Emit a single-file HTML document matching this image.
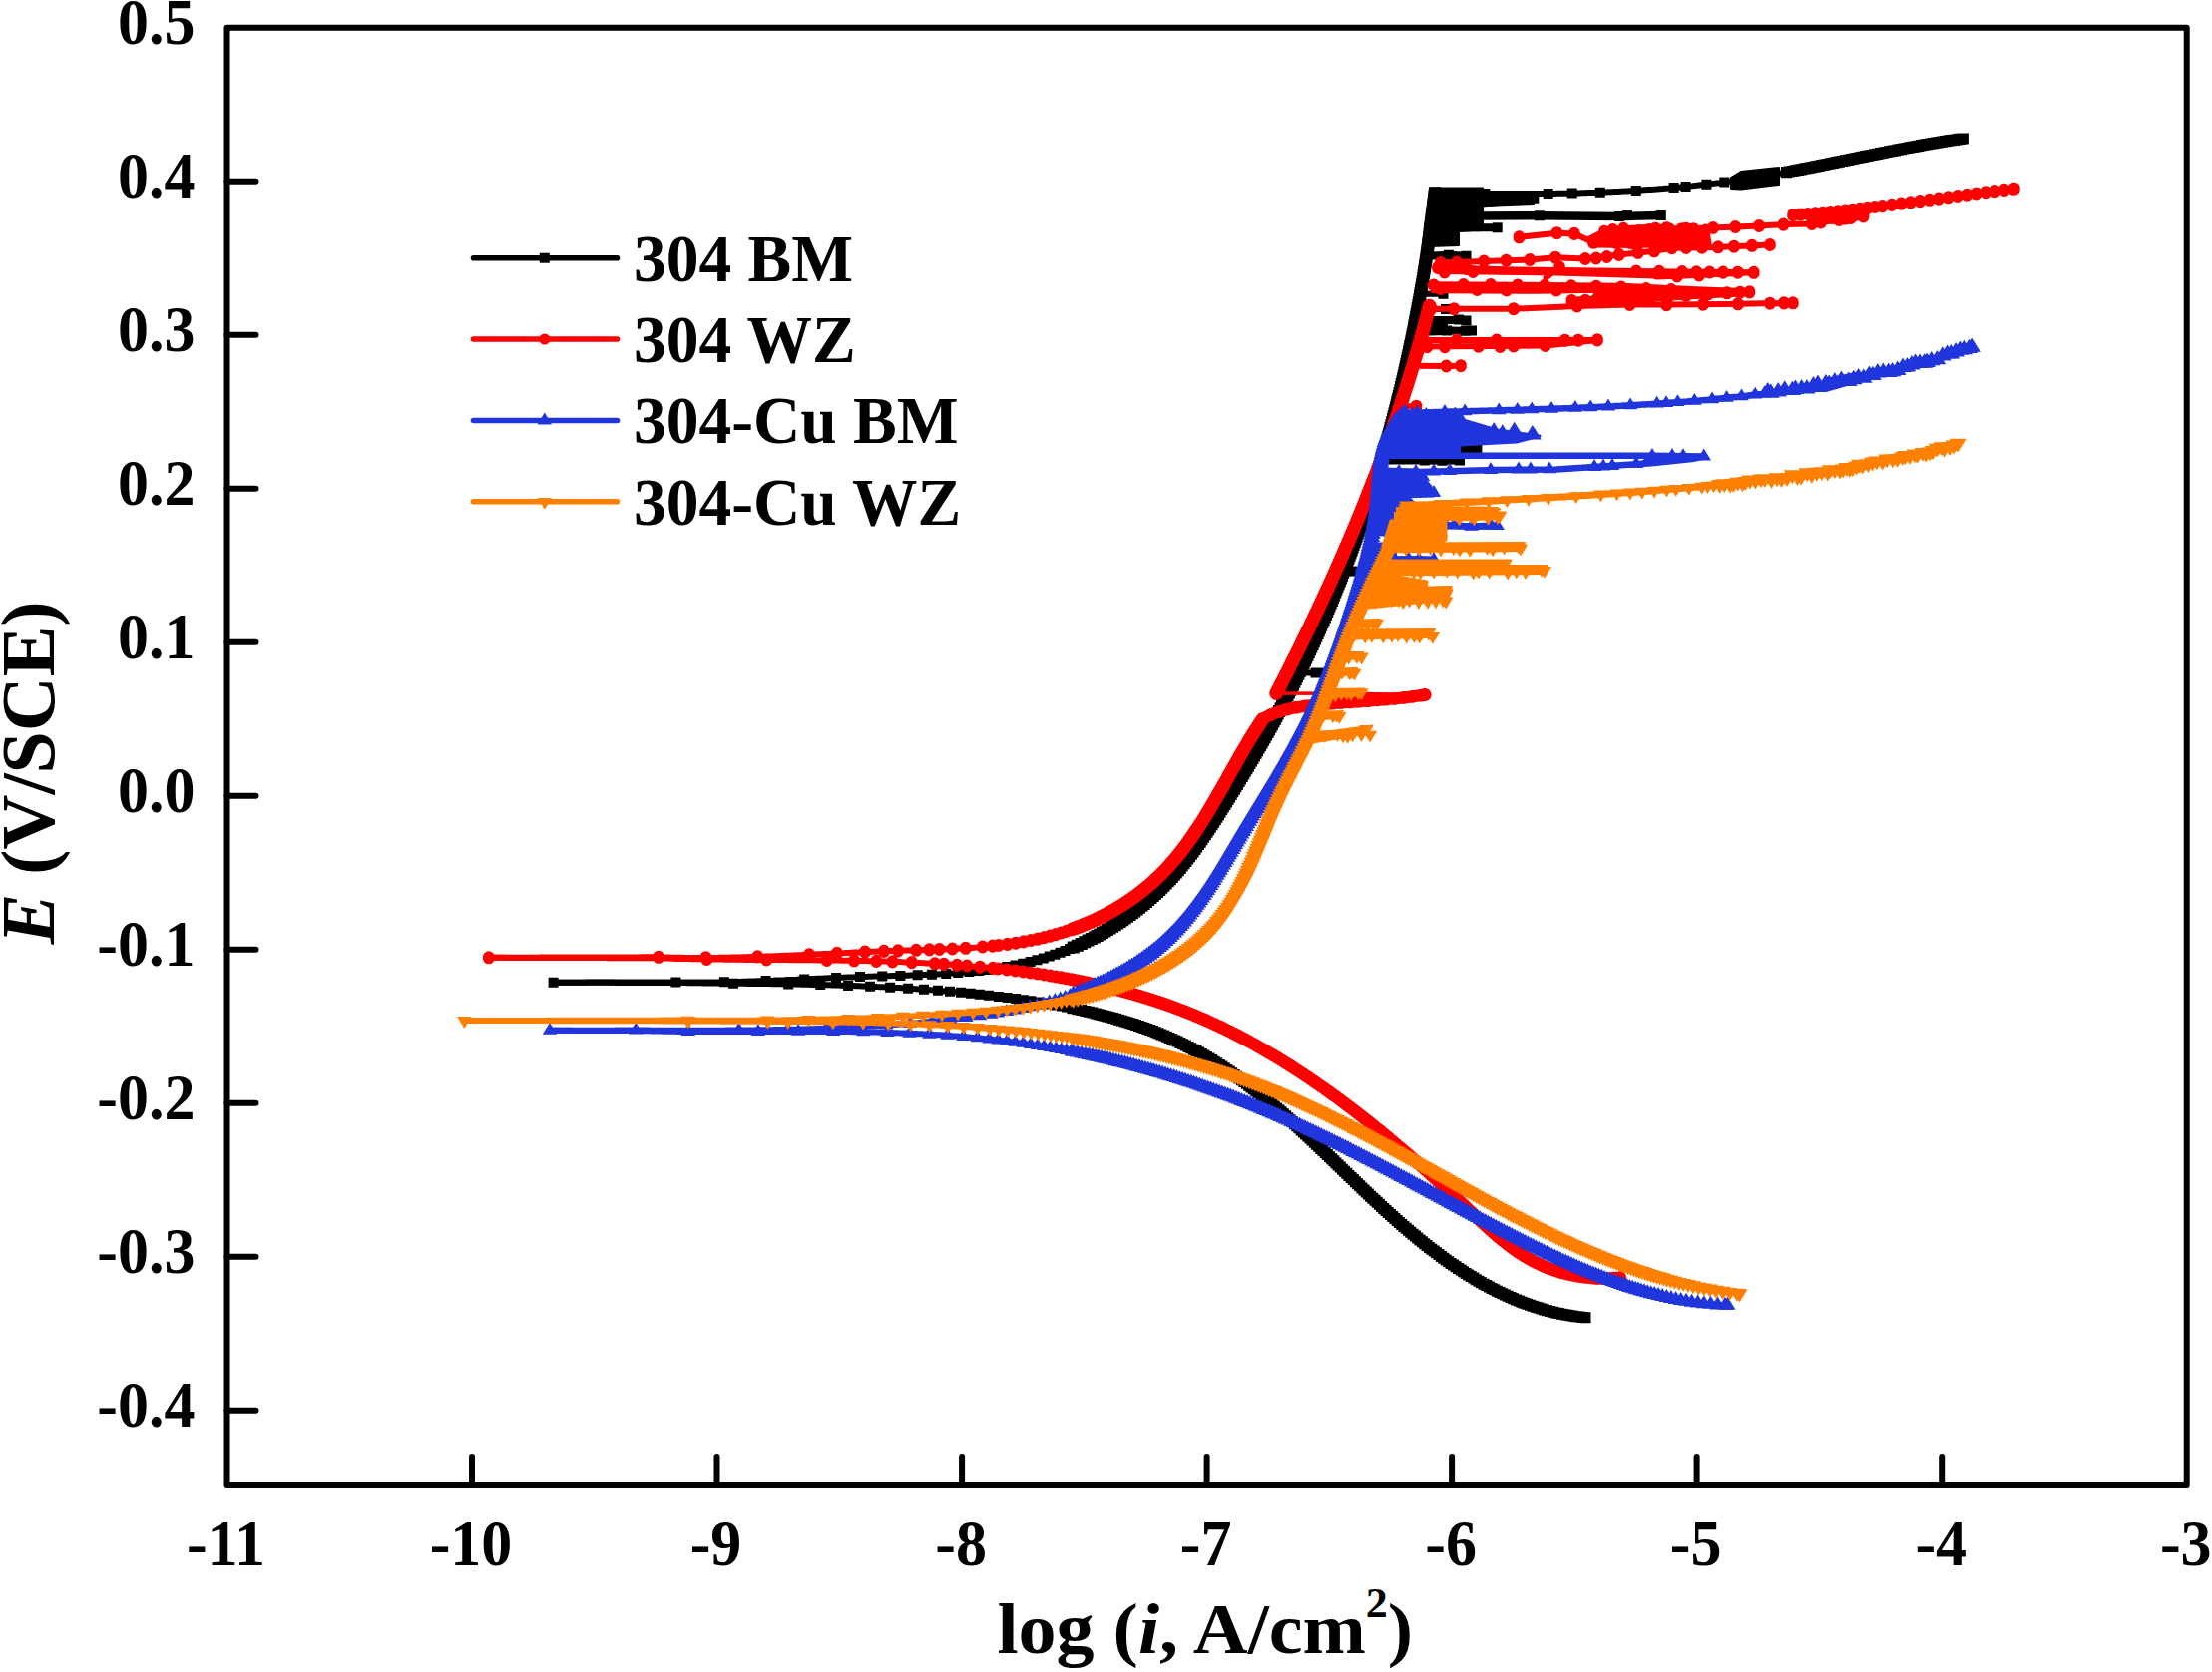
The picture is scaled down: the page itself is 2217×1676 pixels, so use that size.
<!DOCTYPE html>
<html lang="en"><head><meta charset="utf-8"><title>Potentiodynamic polarization curves</title>
<style>html,body{margin:0;padding:0;background:#fff}svg{display:block}text{font-family:"Liberation Serif","Times New Roman",Times,serif;font-weight:bold;fill:#000}</style></head><body>
<svg width="2217" height="1676" viewBox="0 0 2217 1676">
<rect width="2217" height="1676" fill="#fff"/>
<polyline fill="none" stroke="#000000" stroke-width="6" stroke-linecap="round" stroke-linejoin="round" points="554.6,984.7 557.6,984.7 560.6,984.7 563.6,984.7 566.6,984.7 569.6,984.7 572.7,984.7 575.7,984.8 578.7,984.8 581.7,984.8 584.7,984.8 587.7,984.8 590.7,984.8 593.7,984.8 596.7,984.8 599.7,984.8 602.8,984.8 605.8,984.8 608.8,984.8 611.8,984.8 614.8,984.8 617.8,984.9 620.8,984.9 623.8,984.9 626.8,984.9 629.8,984.9 632.9,984.9 635.9,984.9 638.9,984.9 641.9,984.9 644.9,984.9 647.9,984.9 650.9,984.9 653.9,984.9 656.9,985 659.9,985 663,985 666,985 669,985 672,985 675,985 678,985 681,985.1 684,985.1 687,985.1 690,985.2 693,985.2 696,985.3 699.1,985.3 702.1,985.3 705.1,985.4 708.1,985.4 711.1,985.4 714.1,985.5 717.1,985.5 720.1,985.5 723.1,985.6 726.1,985.6 729.1,985.6 732.1,985.7 735.1,985.7 738.1,985.7 741.1,985.8 744.1,985.8 747.1,985.8 750.1,985.9 753.1,985.9 756.1,986 759.1,986 762.1,986 765.2,986.1 768.2,986.1 771.2,986.1 774.2,986.2 777.2,986.2 780.2,986.3 783.2,986.3 786.2,986.4 789.2,986.4 792.2,986.5 795.2,986.5 798.2,986.6 801.2,986.6 804.2,986.7 807.2,986.8 810.2,986.8 813.2,986.9 816.2,987 819.2,987 822.2,987.1 825.2,987.2 828.2,987.3 831.2,987.3 834.2,987.4 837.2,987.5 840.2,987.6 843.1,987.7 846.1,987.8 849.1,987.9 852.1,988 855.1,988.1 858.1,988.2 861.1,988.3 864.1,988.4 867.1,988.5 870.1,988.7 873.1,988.8 876.1,988.9 879.1,989.1 882.1,989.2 885.1,989.3 888.1,989.5 891.1,989.6 894.1,989.8 897.1,990 900.1,990.1 903.1,990.3 906.1,990.5 909.1,990.6 912.1,990.8 915.1,991 918.1,991.2 921,991.4 924,991.6 927,991.8 930,992 933,992.3 936,992.5 939,992.7 942,993 945,993.2 948,993.4 951,993.7 954,994 957,994.2 960,994.5 963,994.8 965.9,995.1 968.9,995.4 971.9,995.7 974.9,996 977.9,996.3 980.9,996.6 983.9,996.9 986.9,997.2 989.9,997.6 992.9,997.9 995.9,998.3 998.9,998.6 1001.9,999 1004.8,999.4 1007.8,999.8 1010.8,1000.2 1013.8,1000.6 1016.8,1001 1019.8,1001.4 1022.8,1001.8 1025.8,1002.2 1028.8,1002.7 1031.8,1003.1 1034.8,1003.6 1037.7,1004 1040.7,1004.5 1043.7,1005 1046.7,1005.5 1049.7,1006 1052.7,1006.5 1055.6,1007 1058.6,1007.6 1061.6,1008.1 1064.5,1008.7 1067.5,1009.2 1070.5,1009.8 1073.4,1010.4 1076.4,1011 1079.3,1011.6 1082.3,1012.3 1085.2,1012.9 1088.2,1013.6 1091.1,1014.3 1094,1014.9 1097,1015.6 1099.9,1016.4 1102.8,1017.1 1105.7,1017.8 1108.6,1018.6 1111.5,1019.4 1114.4,1020.2 1117.3,1021 1120.2,1021.8 1123,1022.7 1125.9,1023.5 1128.8,1024.4 1131.6,1025.3 1134.5,1026.2 1137.3,1027.1 1140.1,1028.1 1143,1029.1 1145.8,1030.1 1148.6,1031.1 1151.4,1032.1 1154.2,1033.1 1156.9,1034.2 1159.7,1035.3 1162.5,1036.4 1165.2,1037.5 1168,1038.7 1170.7,1039.8 1173.4,1041 1176.1,1042.2 1178.8,1043.5 1181.5,1044.7 1184.2,1046 1186.9,1047.3 1189.6,1048.6 1192.2,1050 1194.8,1051.3 1197.5,1052.7 1200.1,1054.1 1202.7,1055.6 1205.3,1057 1207.9,1058.5 1210.4,1060 1213,1061.6 1215.5,1063.1 1218.1,1064.7 1220.6,1066.3 1223.1,1067.9 1225.6,1069.6 1228.1,1071.2 1230.6,1072.9 1233,1074.6 1235.5,1076.3 1237.9,1078 1240.4,1079.8 1242.8,1081.5 1245.2,1083.3 1247.6,1085.1 1250,1086.9 1252.4,1088.7 1254.8,1090.5 1257.1,1092.4 1259.5,1094.2 1261.8,1096.1 1264.2,1098 1266.5,1099.9 1268.8,1101.8 1271.1,1103.7 1273.4,1105.6 1275.7,1107.6 1278,1109.5 1280.3,1111.5 1282.5,1113.4 1284.8,1115.4 1287.1,1117.4 1289.3,1119.4 1291.6,1121.4 1293.8,1123.4 1296,1125.4 1298.2,1127.4 1300.5,1129.4 1302.7,1131.5 1304.9,1133.5 1307.1,1135.6 1309.3,1137.6 1311.5,1139.7 1313.7,1141.7 1315.9,1143.8 1318.1,1145.9 1320.3,1147.9 1322.4,1150 1324.6,1152.1 1326.8,1154.2 1329,1156.3 1331.1,1158.3 1333.3,1160.4 1335.5,1162.5 1337.6,1164.6 1339.8,1166.7 1342,1168.8 1344.1,1170.9 1346.3,1173 1348.5,1175.1 1350.6,1177.2 1352.8,1179.3 1355,1181.4 1357.2,1183.5 1359.3,1185.5 1361.5,1187.6 1363.7,1189.7 1365.9,1191.8 1368,1193.9 1370.2,1195.9 1372.4,1198 1374.6,1200.1 1376.8,1202.1 1379,1204.2 1381.2,1206.2 1383.4,1208.3 1385.6,1210.3 1387.8,1212.3 1390,1214.4 1392.3,1216.4 1394.5,1218.4 1396.7,1220.4 1399,1222.4 1401.2,1224.4 1403.5,1226.4 1405.8,1228.4 1408,1230.3 1410.3,1232.3 1412.6,1234.2 1414.9,1236.2 1417.2,1238.1 1419.5,1240 1421.8,1241.9 1424.1,1243.8 1426.5,1245.7 1428.8,1247.5 1431.2,1249.4 1433.5,1251.2 1435.9,1253.1 1438.3,1254.9 1440.7,1256.7 1443.1,1258.5 1445.5,1260.3 1448,1262 1450.4,1263.8 1452.9,1265.5 1455.3,1267.2 1457.8,1268.9 1460.3,1270.6 1462.8,1272.3 1465.3,1273.9 1467.8,1275.6 1470.3,1277.2 1472.9,1278.7 1475.4,1280.3 1478,1281.9 1480.6,1283.4 1483.2,1284.9 1485.8,1286.4 1488.4,1287.8 1491,1289.3 1493.6,1290.7 1496.3,1292.1 1498.9,1293.4 1501.6,1294.8 1504.3,1296.1 1507,1297.4 1509.7,1298.6 1512.4,1299.9 1515.1,1301.1 1517.8,1302.2 1520.6,1303.4 1523.4,1304.5 1526.1,1305.6 1528.9,1306.6 1531.7,1307.7 1534.5,1308.7 1537.3,1309.6 1540.2,1310.6 1543,1311.5 1545.9,1312.3 1548.7,1313.1 1551.6,1313.9 1554.5,1314.7 1557.4,1315.4 1560.3,1316.1 1563.3,1316.8 1566.2,1317.4 1569.2,1318 1572.1,1318.5 1575.1,1319 1578.1,1319.5 1581.1,1319.9 1584.1,1320.3 1587.1,1320.6 1590.2,1320.9"/>
<path fill="#000000" d="M549.6 979.7h10v10h-10zM730.1 980.7h10v10h-10zM785.2 981.4h10v10h-10zM817.2 982.1h10v10h-10zM845.1 982.9h10v10h-10zM867.1 983.8h10v10h-10zM887.1 984.7h10v10h-10zM905.1 985.7h10v10h-10zM921 986.8h10v10h-10zM935 987.8h10v10h-10zM947 988.8h10v10h-10zM958 989.8h10v10h-10zM967.9 990.8h10v10h-10zM976.9 991.7h10v10h-10zM985.9 992.7h10v10h-10zM995.9 993.9h10v10h-10zM1004.7 995h10v10h-10zM1013.1 996.1h10v10h-10zM1020.9 997.2h10v10h-10zM1028.3 998.3h10v10h-10zM1035.2 999.4h10v10h-10zM1041.7 1000.5h10v10h-10zM1047.8 1001.5h10v10h-10zM1053.6 1002.5h10v10h-10zM1058.9 1003.5h10v10h-10zM1064 1004.5h10v10h-10zM1068.8 1005.5h10v10h-10z"/>
<path fill="#000000" d="M1069.9 1005.3h11v11h-11zM1074.3 1006.2h11v11h-11zM1078.4 1007.1h11v11h-11zM1082.3 1008h11v11h-11zM1085.9 1008.8h11v11h-11zM1089.3 1009.6h11v11h-11zM1092.6 1010.4h11v11h-11zM1095.6 1011.2h11v11h-11zM1098.5 1011.9h11v11h-11zM1101.4 1012.7h11v11h-11zM1104.3 1013.4h11v11h-11zM1107.2 1014.2h11v11h-11zM1110.1 1015h11v11h-11zM1113 1015.8h11v11h-11zM1115.8 1016.7h11v11h-11zM1118.7 1017.5h11v11h-11zM1121.6 1018.4h11v11h-11zM1124.5 1019.3h11v11h-11zM1127.3 1020.2h11v11h-11zM1130.2 1021.1h11v11h-11zM1133 1022.1h11v11h-11zM1135.9 1023h11v11h-11zM1138.7 1024h11v11h-11zM1141.5 1025h11v11h-11zM1144.3 1026h11v11h-11zM1147.2 1027.1h11v11h-11zM1150 1028.1h11v11h-11zM1152.8 1029.2h11v11h-11zM1155.5 1030.3h11v11h-11zM1158.3 1031.4h11v11h-11zM1161.1 1032.6h11v11h-11zM1163.9 1033.8h11v11h-11zM1166.6 1034.9h11v11h-11zM1169.4 1036.2h11v11h-11zM1172.1 1037.4h11v11h-11zM1174.8 1038.6h11v11h-11zM1177.5 1039.9h11v11h-11zM1180.2 1041.2h11v11h-11zM1182.9 1042.6h11v11h-11zM1185.6 1043.9h11v11h-11zM1188.3 1045.3h11v11h-11zM1190.9 1046.7h11v11h-11zM1193.6 1048.1h11v11h-11zM1196.2 1049.5h11v11h-11zM1198.8 1051h11v11h-11zM1201.4 1052.5h11v11h-11zM1204 1054h11v11h-11zM1206.6 1055.5h11v11h-11zM1209.2 1057.1h11v11h-11zM1211.7 1058.7h11v11h-11zM1214.2 1060.3h11v11h-11zM1216.8 1061.9h11v11h-11zM1219.3 1063.5h11v11h-11zM1221.8 1065.2h11v11h-11zM1224.3 1066.9h11v11h-11zM1226.8 1068.5h11v11h-11zM1229.2 1070.3h11v11h-11zM1231.7 1072h11v11h-11zM1234.1 1073.7h11v11h-11zM1236.5 1075.5h11v11h-11zM1239 1077.3h11v11h-11zM1241.4 1079h11v11h-11zM1243.8 1080.8h11v11h-11zM1246.2 1082.7h11v11h-11zM1248.5 1084.5h11v11h-11zM1250.9 1086.3h11v11h-11zM1253.3 1088.2h11v11h-11zM1255.6 1090h11v11h-11zM1258 1091.9h11v11h-11zM1260.3 1093.8h11v11h-11zM1262.6 1095.7h11v11h-11zM1264.9 1097.6h11v11h-11zM1267.2 1099.6h11v11h-11zM1269.5 1101.5h11v11h-11zM1271.8 1103.4h11v11h-11zM1274.1 1105.4h11v11h-11zM1276.4 1107.3h11v11h-11zM1278.6 1109.3h11v11h-11zM1280.9 1111.3h11v11h-11zM1283.1 1113.3h11v11h-11zM1285.4 1115.3h11v11h-11zM1287.6 1117.3h11v11h-11zM1289.8 1119.3h11v11h-11zM1292 1121.3h11v11h-11zM1294.3 1123.3h11v11h-11zM1296.5 1125.3h11v11h-11zM1298.7 1127.4h11v11h-11zM1300.9 1129.4h11v11h-11zM1303.1 1131.4h11v11h-11zM1305.3 1133.5h11v11h-11zM1307.5 1135.5h11v11h-11zM1309.6 1137.6h11v11h-11zM1311.8 1139.7h11v11h-11zM1314 1141.7h11v11h-11zM1316.2 1143.8h11v11h-11zM1318.3 1145.9h11v11h-11zM1320.5 1147.9h11v11h-11zM1322.7 1150h11v11h-11zM1324.8 1152.1h11v11h-11zM1327 1154.2h11v11h-11zM1329.2 1156.3h11v11h-11zM1331.3 1158.3h11v11h-11zM1333.5 1160.4h11v11h-11zM1335.6 1162.5h11v11h-11zM1337.8 1164.6h11v11h-11zM1340 1166.7h11v11h-11zM1342.1 1168.8h11v11h-11zM1344.3 1170.8h11v11h-11zM1346.4 1172.9h11v11h-11zM1348.6 1175h11v11h-11zM1350.8 1177.1h11v11h-11zM1352.9 1179.2h11v11h-11zM1355.1 1181.2h11v11h-11zM1357.3 1183.3h11v11h-11zM1359.4 1185.4h11v11h-11zM1361.6 1187.5h11v11h-11zM1363.8 1189.5h11v11h-11zM1365.9 1191.6h11v11h-11zM1368.1 1193.7h11v11h-11zM1370.3 1195.7h11v11h-11zM1372.5 1197.8h11v11h-11zM1374.7 1199.8h11v11h-11zM1376.9 1201.8h11v11h-11zM1379.1 1203.9h11v11h-11zM1381.3 1205.9h11v11h-11zM1383.5 1207.9h11v11h-11zM1385.7 1210h11v11h-11zM1388 1212h11v11h-11zM1390.2 1214h11v11h-11zM1392.4 1216h11v11h-11zM1394.7 1218h11v11h-11zM1396.9 1219.9h11v11h-11zM1399.2 1221.9h11v11h-11zM1401.4 1223.9h11v11h-11zM1403.7 1225.8h11v11h-11zM1406 1227.8h11v11h-11zM1408.3 1229.7h11v11h-11zM1410.6 1231.7h11v11h-11zM1412.9 1233.6h11v11h-11zM1415.2 1235.5h11v11h-11zM1417.5 1237.4h11v11h-11zM1419.9 1239.3h11v11h-11zM1422.2 1241.2h11v11h-11zM1424.6 1243h11v11h-11zM1426.9 1244.9h11v11h-11zM1429.3 1246.7h11v11h-11zM1431.7 1248.5h11v11h-11zM1434.1 1250.3h11v11h-11zM1436.5 1252.1h11v11h-11zM1438.9 1253.9h11v11h-11zM1441.3 1255.7h11v11h-11zM1443.7 1257.4h11v11h-11zM1446.2 1259.2h11v11h-11zM1448.6 1260.9h11v11h-11zM1451.1 1262.6h11v11h-11zM1453.6 1264.3h11v11h-11zM1456.1 1266h11v11h-11zM1458.6 1267.6h11v11h-11zM1461.1 1269.3h11v11h-11zM1463.6 1270.9h11v11h-11zM1466.2 1272.5h11v11h-11zM1468.7 1274.1h11v11h-11zM1471.3 1275.6h11v11h-11zM1473.8 1277.2h11v11h-11zM1476.4 1278.7h11v11h-11zM1479 1280.2h11v11h-11zM1481.6 1281.7h11v11h-11zM1484.3 1283.1h11v11h-11zM1486.9 1284.5h11v11h-11zM1489.6 1285.9h11v11h-11zM1492.2 1287.3h11v11h-11zM1494.9 1288.7h11v11h-11zM1497.6 1290h11v11h-11zM1500.3 1291.3h11v11h-11zM1503 1292.6h11v11h-11zM1505.7 1293.8h11v11h-11zM1508.5 1295.1h11v11h-11zM1511.2 1296.3h11v11h-11zM1514 1297.4h11v11h-11zM1516.8 1298.6h11v11h-11zM1519.5 1299.7h11v11h-11zM1522.3 1300.7h11v11h-11zM1525.2 1301.8h11v11h-11zM1528 1302.8h11v11h-11zM1530.8 1303.8h11v11h-11zM1533.7 1304.7h11v11h-11zM1536.5 1305.6h11v11h-11zM1539.4 1306.5h11v11h-11zM1542.3 1307.4h11v11h-11zM1545.2 1308.2h11v11h-11zM1548.1 1309h11v11h-11zM1551 1309.7h11v11h-11zM1553.9 1310.4h11v11h-11zM1556.8 1311.1h11v11h-11zM1559.7 1311.7h11v11h-11zM1562.7 1312.3h11v11h-11zM1565.6 1312.8h11v11h-11zM1568.6 1313.3h11v11h-11zM1571.5 1313.8h11v11h-11zM1574.5 1314.2h11v11h-11zM1577.5 1314.6h11v11h-11zM1580.5 1315h11v11h-11zM1583.5 1315.3h11v11h-11z"/>
<polyline fill="none" stroke="#000000" stroke-width="6" stroke-linecap="round" stroke-linejoin="round" points="554.6,984.7 557.6,984.7 560.6,984.7 563.7,984.7 566.7,984.7 569.7,984.7 572.7,984.7 575.7,984.7 578.8,984.7 581.8,984.7 584.8,984.7 587.8,984.6 590.8,984.6 593.9,984.6 596.9,984.6 599.9,984.6 602.9,984.6 605.9,984.6 609,984.6 612,984.6 615,984.6 618,984.6 621,984.6 624.1,984.6 627.1,984.6 630.1,984.6 633.1,984.6 636.1,984.6 639.2,984.6 642.2,984.6 645.2,984.6 648.2,984.5 651.2,984.5 654.2,984.5 657.3,984.5 660.3,984.5 663.3,984.5 666.3,984.5 669.3,984.5 672.4,984.5 675.4,984.5 678.4,984.5 681.5,984.6 684.5,984.6 687.6,984.6 690.6,984.6 693.7,984.6 696.7,984.6 699.8,984.6 702.8,984.6 705.8,984.6 708.8,984.6 711.8,984.5 714.9,984.5 717.9,984.4 720.9,984.4 723.9,984.3 726.9,984.3 729.9,984.2 732.9,984.1 735.9,984.1 738.8,984 741.8,983.9 744.8,983.8 747.8,983.7 750.8,983.6 753.8,983.5 756.7,983.4 759.7,983.3 762.7,983.2 765.7,983.1 768.6,983 771.6,982.9 774.6,982.8 777.5,982.6 780.5,982.5 783.5,982.4 786.4,982.3 789.4,982.1 792.4,982 795.3,981.9 798.3,981.8 801.3,981.6 804.3,981.5 807.2,981.4 810.2,981.2 813.2,981.1 816.1,981 819.1,980.8 822.1,980.7 825.1,980.6 828,980.4 831,980.3 834,980.2 837,980.1 840,979.9 843,979.8 846,979.7 849,979.6 852,979.5 855,979.4 858,979.2 861,979.1 864,979 867,978.9 870,978.8 873,978.7 876.1,978.6 879.1,978.6 882.1,978.5 885.2,978.4 888.2,978.3 891.2,978.2 894.3,978.1 897.3,978 900.4,977.9 903.4,977.9 906.5,977.8 909.5,977.7 912.6,977.6 915.6,977.5 918.7,977.3 921.7,977.2 924.8,977.1 927.8,977 930.9,976.8 933.9,976.7 937,976.5 940,976.4 943.1,976.2 946.1,976 949.2,975.8 952.2,975.6 955.3,975.4 958.3,975.2 961.3,975 964.4,974.7 967.4,974.5 970.4,974.2 973.4,973.9 976.4,973.6 979.4,973.2 982.4,972.9 985.4,972.5 988.4,972.2 991.4,971.8 994.4,971.4 997.4,970.9 1000.4,970.5 1003.3,970 1006.3,969.5 1009.3,969 1012.2,968.4 1015.1,967.9 1018.1,967.3 1021,966.7 1023.9,966.1 1026.8,965.4 1029.7,964.7 1032.6,964 1035.5,963.3 1038.4,962.5 1041.2,961.7 1044.1,960.9 1046.9,960 1049.8,959.2 1052.6,958.2 1055.4,957.3 1058.2,956.3 1061,955.3 1063.8,954.3 1066.6,953.3 1069.3,952.2 1072.1,951.1 1074.8,949.9 1077.6,948.7 1080.3,947.5 1083,946.3 1085.7,945.1 1088.3,943.8 1091,942.5 1093.6,941.1 1096.3,939.7 1098.9,938.3 1101.5,936.9 1104.1,935.5 1106.6,934 1109.2,932.5 1111.7,931 1114.3,929.4 1116.8,927.8 1119.3,926.2 1121.8,924.6 1124.2,922.9 1126.7,921.2 1129.1,919.5 1131.5,917.8 1133.9,916 1136.3,914.2 1138.6,912.4 1141,910.6 1143.3,908.7 1145.6,906.8 1147.9,904.9 1150.1,903 1152.4,901 1154.6,899.1 1156.8,897.1 1159,895 1161.1,893 1163.3,890.9 1165.4,888.8 1167.5,886.7 1169.6,884.5 1171.6,882.4 1173.7,880.2 1175.7,878 1177.7,875.8 1179.6,873.5 1181.6,871.2 1183.5,868.9 1185.4,866.6 1187.3,864.3 1189.2,861.9 1191,859.6 1192.8,857.2 1194.7,854.8 1196.5,852.4 1198.2,850 1200,847.5 1201.8,845.1 1203.5,842.6 1205.2,840.1 1206.9,837.6 1208.6,835.1 1210.3,832.6 1212,830.1 1213.7,827.6 1215.3,825 1217,822.5 1218.6,820 1220.2,817.4 1221.9,814.9 1223.5,812.3 1225.1,809.7 1226.7,807.2 1228.3,804.6 1229.9,802 1231.5,799.5 1233.1,796.9 1234.7,794.3 1236.3,791.8 1237.8,789.2 1239.4,786.6 1241,784 1242.6,781.5 1244.1,778.9 1245.7,776.3 1247.3,773.8 1248.8,771.2 1250.4,768.6 1251.9,766 1253.4,763.5 1255,760.9 1256.5,758.3 1258,755.7 1259.6,753.1 1261.1,750.5 1262.6,747.9 1264.1,745.3 1265.6,742.7 1267.1,740.1 1268.6,737.5 1270,734.9 1271.5,732.3 1273,729.7 1274.4,727.1 1275.9,724.5 1277.3,721.8 1278.8,719.2 1280.2,716.6 1281.6,713.9 1283,711.3 1284.5,708.6 1285.9,706 1287.3,703.4 1288.7,700.7 1290,698 1291.4,695.4 1292.8,692.7 1294.2,690 1295.5,687.4 1296.9,684.7 1298.2,682 1299.5,679.3 1300.9,676.7 1302.2,674 1303.5,671.3 1304.8,668.6 1306.1,665.9 1307.4,663.2 1308.7,660.5 1310,657.8 1311.3,655.1 1312.6,652.4 1313.8,649.6 1315.1,646.9 1316.4,644.2 1317.6,641.5 1318.8,638.7 1320.1,636 1321.3,633.3 1322.5,630.5 1323.7,627.8 1325,625.1 1326.2,622.3 1327.4,619.6 1328.5,616.8 1329.7,614.1 1330.9,611.3 1332.1,608.5 1333.2,605.8 1334.4,603 1335.6,600.2 1336.7,597.5 1337.8,594.7 1339,591.9 1340.1,589.1 1341.2,586.4 1342.3,583.6 1343.4,580.8 1344.5,578 1345.6,575.2 1346.7,572.4 1347.8,569.6 1348.9,566.8 1350,564 1351,561.2 1352.1,558.4 1353.1,555.6 1354.2,552.8 1355.2,550 1356.2,547.1 1357.3,544.3 1358.3,541.5 1359.3,538.7 1360.3,535.8 1361.3,533 1362.3,530.2 1363.3,527.3 1364.3,524.5 1365.3,521.7 1366.2,518.8 1367.2,516 1368.2,513.1 1369.1,510.3 1370.1,507.4 1371,504.6 1371.9,501.7 1372.9,498.9 1373.8,496 1374.7,493.2 1375.6,490.3 1376.5,487.4 1377.4,484.6 1378.3,481.7 1379.2,478.8 1380.1,476 1381,473.1 1381.8,470.2 1382.7,467.3 1383.5,464.5 1384.4,461.6 1385.2,458.7 1386.1,455.8 1386.9,452.9 1387.7,450 1388.6,447.1 1389.4,444.3 1390.2,441.4 1391,438.5 1391.8,435.6 1392.6,432.7 1393.4,429.8 1394.2,426.9 1394.9,424 1395.7,421.1 1396.5,418.2 1397.2,415.2 1398,412.3 1398.7,409.4 1399.5,406.5 1400.2,403.6 1400.9,400.7 1401.6,397.8 1402.4,394.8 1403.1,391.9 1403.8,389 1404.5,386.1 1405.2,383.2 1405.9,380.2 1406.5,377.3 1407.2,374.4 1407.9,371.4 1408.6,368.5 1409.2,365.6 1409.9,362.6 1410.5,359.7 1411.2,356.8 1411.8,353.8 1412.4,350.9 1413.1,348 1413.7,345 1414.3,342.1 1414.9,339.1 1415.5,336.2 1416.1,333.2 1416.7,330.3 1417.3,327.4 1417.9,324.4 1418.4,321.5 1419,318.5 1419.6,315.6 1420.1,312.6 1420.7,309.6 1421.2,306.7 1421.8,303.7 1422.3,300.8 1422.9,297.8 1423.4,294.9 1423.9,291.9 1424.4,289 1424.9,286 1425.4,283 1425.9,280.1 1426.4,277.1 1426.9,274.2 1427.4,271.2 1427.9,268.2 1428.3,265.3 1428.8,262.3 1429.3,259.3 1429.7,256.4 1430.2,253.4 1430.6,250.4 1431.1,247.5 1431.5,244.5 1431.9,241.5 1432.4,238.6 1432.8,235.6 1433.2,232.6 1433.6,229.7 1434,226.7 1434.4,223.7 1434.8,220.7 1435.2,217.8 1435.6,214.8 1435.9,211.8 1436.3,208.9 1436.7,205.9 1437,202.9 1437.4,199.9 1437.7,197 1438.1,194"/>
<path fill="#000000" d="M672.4 979.5h10v10h-10zM720.9 979.3h10v10h-10zM762.6 978h10v10h-10zM801.2 976.4h10v10h-10zM833 975h10v10h-10zM857 974.1h10v10h-10zM879.2 973.4h10v10h-10zM897.4 972.9h10v10h-10zM914.7 972.3h10v10h-10zM928.9 971.7h10v10h-10zM943.2 970.9h10v10h-10zM955.3 970.1h10v10h-10zM966.4 969.1h10v10h-10zM976.4 968h10v10h-10zM985.4 966.9h10v10h-10zM995.4 965.5h10v10h-10zM1004.2 964h10v10h-10zM1012.5 962.4h10v10h-10zM1020.3 960.7h10v10h-10zM1027.6 959h10v10h-10zM1034.4 957.2h10v10h-10zM1040.8 955.4h10v10h-10zM1046.7 953.5h10v10h-10zM1052.3 951.7h10v10h-10zM1057.6 949.8h10v10h-10zM1062.5 947.9h10v10h-10zM1067.1 946.1h10v10h-10z"/>
<path fill="#000000" d="M1069.7 943.5h12v12h-12zM1073.8 941.7h12v12h-12zM1077.7 940h12v12h-12zM1081.2 938.3h12v12h-12zM1084.6 936.6h12v12h-12zM1087.8 935h12v12h-12zM1090.8 933.5h12v12h-12zM1093.6 931.9h12v12h-12zM1096.3 930.5h12v12h-12zM1098.9 929h12v12h-12zM1101.5 927.5h12v12h-12zM1104 926h12v12h-12zM1106.6 924.4h12v12h-12zM1109.2 922.8h12v12h-12zM1111.7 921.2h12v12h-12zM1114.2 919.6h12v12h-12zM1116.7 917.9h12v12h-12zM1119.2 916.3h12v12h-12zM1121.6 914.5h12v12h-12zM1124.1 912.8h12v12h-12zM1126.5 911h12v12h-12zM1128.9 909.2h12v12h-12zM1131.3 907.4h12v12h-12zM1133.7 905.6h12v12h-12zM1136 903.7h12v12h-12zM1138.4 901.8h12v12h-12zM1140.7 899.9h12v12h-12zM1143 898h12v12h-12zM1145.2 896h12v12h-12zM1147.5 894h12v12h-12zM1149.7 892h12v12h-12zM1151.9 890h12v12h-12zM1154.1 888h12v12h-12zM1156.3 885.9h12v12h-12zM1158.4 883.8h12v12h-12zM1160.5 881.7h12v12h-12zM1162.6 879.5h12v12h-12zM1164.7 877.3h12v12h-12zM1166.8 875.2h12v12h-12zM1168.8 872.9h12v12h-12zM1170.8 870.7h12v12h-12zM1172.8 868.5h12v12h-12zM1174.8 866.2h12v12h-12zM1176.7 863.9h12v12h-12zM1178.6 861.6h12v12h-12zM1180.5 859.3h12v12h-12zM1182.4 856.9h12v12h-12zM1184.2 854.6h12v12h-12zM1186.1 852.2h12v12h-12zM1187.9 849.8h12v12h-12zM1189.7 847.4h12v12h-12zM1191.5 845h12v12h-12zM1193.2 842.6h12v12h-12zM1195 840.1h12v12h-12zM1196.7 837.7h12v12h-12zM1198.4 835.2h12v12h-12zM1200.1 832.8h12v12h-12zM1201.8 830.3h12v12h-12zM1203.5 827.8h12v12h-12zM1205.2 825.3h12v12h-12zM1206.8 822.8h12v12h-12zM1208.5 820.3h12v12h-12zM1210.1 817.8h12v12h-12zM1211.8 815.3h12v12h-12zM1213.4 812.8h12v12h-12zM1215 810.2h12v12h-12zM1216.6 807.7h12v12h-12zM1218.2 805.1h12v12h-12zM1219.8 802.6h12v12h-12zM1221.4 800.1h12v12h-12zM1223 797.5h12v12h-12zM1224.6 795h12v12h-12zM1226.1 792.4h12v12h-12zM1227.7 789.9h12v12h-12zM1229.3 787.3h12v12h-12zM1230.9 784.8h12v12h-12zM1232.4 782.2h12v12h-12zM1234 779.7h12v12h-12zM1235.6 777.1h12v12h-12zM1237.1 774.5h12v12h-12zM1238.7 772h12v12h-12zM1240.3 769.4h12v12h-12zM1241.8 766.8h12v12h-12zM1243.4 764.3h12v12h-12zM1244.9 761.7h12v12h-12zM1246.4 759.1h12v12h-12zM1248 756.6h12v12h-12zM1249.5 754h12v12h-12zM1251 751.4h12v12h-12zM1252.6 748.8h12v12h-12zM1254.1 746.2h12v12h-12zM1255.6 743.6h12v12h-12zM1257.1 741h12v12h-12zM1258.6 738.4h12v12h-12zM1260.1 735.8h12v12h-12zM1261.6 733.2h12v12h-12zM1263.1 730.6h12v12h-12zM1264.6 728h12v12h-12zM1266 725.4h12v12h-12zM1267.5 722.8h12v12h-12zM1268.9 720.2h12v12h-12zM1270.4 717.5h12v12h-12zM1271.8 714.9h12v12h-12zM1273.3 712.3h12v12h-12zM1274.7 709.6h12v12h-12zM1276.1 707h12v12h-12zM1277.6 704.3h12v12h-12zM1279 701.7h12v12h-12zM1280.4 699h12v12h-12zM1281.8 696.4h12v12h-12zM1283.2 693.7h12v12h-12zM1284.5 691.1h12v12h-12zM1285.9 688.4h12v12h-12zM1287.3 685.7h12v12h-12zM1288.7 683.1h12v12h-12zM1290 680.4h12v12h-12zM1291.4 677.7h12v12h-12zM1292.7 675h12v12h-12zM1294 672.3h12v12h-12zM1295.4 669.7h12v12h-12zM1296.7 667h12v12h-12zM1298 664.3h12v12h-12zM1299.3 661.6h12v12h-12zM1300.6 658.9h12v12h-12zM1301.9 656.2h12v12h-12zM1303.2 653.5h12v12h-12zM1304.5 650.8h12v12h-12zM1305.8 648h12v12h-12zM1307.1 645.3h12v12h-12zM1308.3 642.6h12v12h-12zM1309.6 639.9h12v12h-12zM1310.8 637.2h12v12h-12zM1312.1 634.4h12v12h-12zM1313.3 631.7h12v12h-12zM1314.6 629h12v12h-12zM1315.8 626.2h12v12h-12zM1317 623.5h12v12h-12zM1318.2 620.7h12v12h-12zM1319.4 618h12v12h-12zM1320.6 615.2h12v12h-12zM1321.8 612.5h12v12h-12zM1323 609.7h12v12h-12zM1324.2 607h12v12h-12zM1325.4 604.2h12v12h-12zM1326.5 601.5h12v12h-12zM1327.7 598.7h12v12h-12zM1328.9 595.9h12v12h-12zM1330 593.1h12v12h-12zM1331.1 590.4h12v12h-12zM1332.3 587.6h12v12h-12zM1333.4 584.8h12v12h-12zM1334.5 582h12v12h-12zM1335.7 579.3h12v12h-12zM1336.8 576.5h12v12h-12zM1337.9 573.7h12v12h-12zM1339 570.9h12v12h-12zM1340.1 568.1h12v12h-12zM1341.2 565.3h12v12h-12zM1342.2 562.5h12v12h-12zM1343.3 559.7h12v12h-12zM1344.4 556.9h12v12h-12zM1345.4 554.1h12v12h-12zM1346.5 551.3h12v12h-12zM1347.5 548.5h12v12h-12zM1348.6 545.7h12v12h-12zM1349.6 542.8h12v12h-12zM1350.6 540h12v12h-12zM1351.7 537.2h12v12h-12zM1352.7 534.4h12v12h-12zM1353.7 531.6h12v12h-12zM1354.7 528.7h12v12h-12zM1355.7 525.9h12v12h-12zM1356.7 523.1h12v12h-12zM1357.7 520.2h12v12h-12zM1358.7 517.4h12v12h-12zM1359.6 514.6h12v12h-12zM1360.6 511.7h12v12h-12zM1361.6 508.9h12v12h-12zM1362.5 506h12v12h-12zM1363.5 503.2h12v12h-12zM1364.4 500.3h12v12h-12zM1365.4 497.5h12v12h-12zM1366.3 494.6h12v12h-12zM1367.2 491.8h12v12h-12zM1368.1 488.9h12v12h-12zM1369.1 486.1h12v12h-12zM1370 483.2h12v12h-12zM1370.9 480.4h12v12h-12zM1371.8 477.5h12v12h-12zM1372.6 474.6h12v12h-12zM1373.5 471.8h12v12h-12zM1374.4 468.9h12v12h-12zM1375.3 466h12v12h-12zM1376.1 463.2h12v12h-12zM1377 460.3h12v12h-12zM1377.9 457.4h12v12h-12zM1378.7 454.5h12v12h-12zM1379.5 451.6h12v12h-12zM1380.4 448.8h12v12h-12zM1381.2 445.9h12v12h-12zM1382 443h12v12h-12zM1382.9 440.1h12v12h-12zM1383.7 437.2h12v12h-12zM1384.5 434.3h12v12h-12zM1385.3 431.4h12v12h-12zM1386.1 428.5h12v12h-12zM1386.9 425.7h12v12h-12zM1387.6 422.8h12v12h-12zM1388.4 419.9h12v12h-12zM1389.2 417h12v12h-12zM1390 414.1h12v12h-12zM1390.7 411.2h12v12h-12zM1391.5 408.3h12v12h-12zM1392.2 405.3h12v12h-12zM1393 402.4h12v12h-12zM1393.7 399.5h12v12h-12zM1394.4 396.6h12v12h-12zM1395.2 393.7h12v12h-12zM1395.9 390.8h12v12h-12zM1396.6 387.9h12v12h-12zM1397.3 385h12v12h-12zM1398 382.1h12v12h-12zM1398.7 379.1h12v12h-12zM1399.4 376.2h12v12h-12zM1400.1 373.3h12v12h-12zM1400.8 370.4h12v12h-12zM1401.4 367.5h12v12h-12zM1402.1 364.5h12v12h-12zM1402.8 361.6h12v12h-12zM1403.4 358.7h12v12h-12zM1404.1 355.7h12v12h-12zM1404.7 352.8h12v12h-12zM1405.4 349.9h12v12h-12zM1406 347h12v12h-12zM1406.6 344h12v12h-12zM1407.2 341.1h12v12h-12zM1407.9 338.2h12v12h-12zM1408.5 335.2h12v12h-12zM1409.1 332.3h12v12h-12zM1409.7 329.3h12v12h-12zM1410.3 326.4h12v12h-12zM1410.9 323.5h12v12h-12zM1411.4 320.5h12v12h-12zM1412 317.6h12v12h-12zM1412.6 314.6h12v12h-12zM1413.2 311.7h12v12h-12zM1413.7 308.7h12v12h-12zM1414.3 305.8h12v12h-12zM1414.8 302.8h12v12h-12zM1415.4 299.9h12v12h-12zM1415.9 296.9h12v12h-12zM1416.5 294h12v12h-12zM1417 291h12v12h-12zM1417.5 288.1h12v12h-12zM1418 285.1h12v12h-12zM1418.6 282.2h12v12h-12zM1419.1 279.2h12v12h-12zM1419.6 276.3h12v12h-12zM1420.1 273.3h12v12h-12zM1420.6 270.3h12v12h-12zM1421 267.4h12v12h-12zM1421.5 264.4h12v12h-12zM1422 261.5h12v12h-12zM1422.5 258.5h12v12h-12zM1422.9 255.5h12v12h-12zM1423.4 252.6h12v12h-12zM1423.8 249.6h12v12h-12zM1424.3 246.6h12v12h-12zM1424.7 243.7h12v12h-12zM1425.2 240.7h12v12h-12zM1425.6 237.7h12v12h-12zM1426 234.8h12v12h-12zM1426.5 231.8h12v12h-12zM1426.9 228.8h12v12h-12zM1427.3 225.8h12v12h-12zM1427.7 222.9h12v12h-12zM1428.1 219.9h12v12h-12zM1428.5 216.9h12v12h-12zM1428.9 214h12v12h-12zM1429.3 211h12v12h-12zM1429.7 208h12v12h-12zM1430 205h12v12h-12zM1430.4 202h12v12h-12zM1430.8 199.1h12v12h-12zM1431.1 196.1h12v12h-12zM1431.5 193.1h12v12h-12zM1431.8 190.1h12v12h-12zM1432.2 187.2h12v12h-12z"/>
<polyline fill="none" stroke="#000000" stroke-width="6" stroke-linecap="round" stroke-linejoin="round" points="1302,674.5 1318.5,674.6 1327,674.5"/>
<path fill="#000000" d="M1313.5 669.6h10v10h-10zM1322 669.5h10v10h-10z"/>
<polyline fill="none" stroke="#000000" stroke-width="6" stroke-linecap="round" stroke-linejoin="round" points="1347,572.6 1355.6,572.6"/>
<path fill="#000000" d="M1350.6 567.6h10v10h-10z"/>
<polyline fill="none" stroke="#000000" stroke-width="6" stroke-linecap="round" stroke-linejoin="round" points="1364,529.3 1381.4,529.3"/>
<path fill="#000000" d="M1376.4 524.3h10v10h-10z"/>
<polyline fill="none" stroke="#000000" stroke-width="8" stroke-linecap="round" stroke-linejoin="round" points="1385,461.5 1427.8,461.5 1445.5,461.7 1463,461.5"/>
<path fill="#000000" d="M1422.8 456.5h10v10h-10zM1440.5 456.7h10v10h-10zM1458 456.5h10v10h-10z"/>
<polyline fill="none" stroke="#000000" stroke-width="8" stroke-linecap="round" stroke-linejoin="round" points="1388,450.6 1414.1,451.2 1442.5,449.8 1467.5,450.2 1480.4,450.6"/>
<path fill="#000000" d="M1409.1 446.2h10v10h-10zM1437.5 444.8h10v10h-10zM1462.5 445.2h10v10h-10zM1475.4 445.6h10v10h-10z"/>
<polyline fill="none" stroke="#000000" stroke-width="8" stroke-linecap="round" stroke-linejoin="round" points="1417,321.5 1435.6,321.9 1461.9,320.6 1469.5,321.5"/>
<path fill="#000000" d="M1430.6 316.9h10v10h-10zM1456.9 315.6h10v10h-10zM1464.5 316.5h10v10h-10z"/>
<polyline fill="none" stroke="#000000" stroke-width="8" stroke-linecap="round" stroke-linejoin="round" points="1418,331 1450.1,331.6 1468.8,331.7 1475,331.5"/>
<path fill="#000000" d="M1445.1 326.6h10v10h-10zM1463.8 326.7h10v10h-10zM1470 326.5h10v10h-10z"/>
<polygon fill="#000000" stroke="#000000" stroke-width="2" stroke-linejoin="round" points="1418,318 1450,318 1450,335 1417,336"/>
<polyline fill="none" stroke="#000000" stroke-width="6" stroke-linecap="round" stroke-linejoin="round" points="1421,310 1449,310"/>
<path fill="#000000" d="M1444 305h10v10h-10z"/>
<polyline fill="none" stroke="#000000" stroke-width="6" stroke-linecap="round" stroke-linejoin="round" points="1423,294.8 1446.5,294.8"/>
<path fill="#000000" d="M1441.5 289.8h10v10h-10z"/>
<polyline fill="none" stroke="#000000" stroke-width="8" stroke-linecap="round" stroke-linejoin="round" points="1430,256.8 1451.9,255.8 1469.5,256.8"/>
<path fill="#000000" d="M1446.9 250.8h10v10h-10zM1464.5 251.8h10v10h-10z"/>
<polygon fill="#000000" stroke="#000000" stroke-width="2" stroke-linejoin="round" points="1433,188.5 1486,188.5 1486,231 1462,232 1462,246 1433,247 1428,262 1424,262 1428,226"/>
<polyline fill="none" stroke="#000000" stroke-width="8" stroke-linecap="round" stroke-linejoin="round" points="1480,198.8 1506.2,198.2 1519,198.3 1537.3,198.8 1480,204"/>
<path fill="#000000" d="M1501.2 193.2h10v10h-10zM1514 193.3h10v10h-10zM1532.3 193.8h10v10h-10z"/>
<polygon fill="#000000" stroke="#000000" stroke-width="2" stroke-linejoin="round" points="1486,194 1532,195 1537,204 1486,206"/>
<polyline fill="none" stroke="#000000" stroke-width="8.5" stroke-linecap="round" stroke-linejoin="round" points="1480,216.5 1542.9,216.2 1623.2,216.9 1664.8,216.1"/>
<path fill="#000000" d="M1537.9 211.2h10v10h-10zM1618.2 211.9h10v10h-10zM1659.8 211.1h10v10h-10z"/>
<path fill="#000000" d="M1626 211.1h10v10h-10z"/>
<polyline fill="none" stroke="#000000" stroke-width="8" stroke-linecap="round" stroke-linejoin="round" points="1480,228.3 1500.7,228.3"/>
<path fill="#000000" d="M1495.7 223.3h10v10h-10z"/>
<polyline fill="none" stroke="#000000" stroke-width="6" stroke-linecap="round" stroke-linejoin="round" points="1438.2,193 1441.2,193.1 1444.2,193.1 1447.2,193.2 1450.3,193.3 1453.3,193.3 1456.3,193.4 1459.3,193.5 1462.3,193.5 1465.3,193.6 1468.3,193.6 1471.4,193.7 1474.4,193.7 1477.4,193.8 1480.4,193.8 1483.4,193.9 1486.4,193.9 1489.4,193.9 1492.5,194 1495.5,194 1498.5,194 1501.5,194 1504.5,194.1 1507.5,194.1 1510.5,194.1 1513.5,194.1 1516.6,194.1 1519.6,194.1 1522.6,194.1 1525.6,194.1 1528.6,194.1 1531.6,194.1 1534.6,194.1 1537.6,194.1 1540.6,194.1 1543.7,194 1546.7,194 1549.7,194 1552.7,193.9 1555.7,193.9 1558.7,193.9 1561.7,193.8 1564.7,193.8 1567.7,193.7 1570.7,193.7 1573.7,193.6 1576.7,193.5 1579.8,193.4 1582.8,193.4 1585.8,193.3 1588.8,193.2 1591.8,193.1 1594.8,193 1597.8,192.9 1600.8,192.8 1603.8,192.7 1606.8,192.6 1609.8,192.4 1612.8,192.3 1615.8,192.2 1618.8,192 1621.8,191.9 1624.8,191.7 1627.8,191.6 1630.8,191.4 1633.8,191.2 1636.8,191.1 1639.8,190.9 1642.8,190.7 1645.8,190.5 1648.7,190.3 1651.7,190.1 1654.7,189.9 1657.7,189.7 1660.7,189.5 1663.7,189.2 1666.7,189 1669.7,188.7 1672.7,188.5 1675.7,188.2 1678.6,188 1681.6,187.7 1684.6,187.4 1687.6,187.1 1690.6,186.9 1693.6,186.6 1696.5,186.3 1699.5,185.9 1702.5,185.6 1705.5,185.3 1708.5,185 1711.4,184.6 1714.4,184.3 1717.4,183.9 1720.4,183.5 1723.3,183.2 1726.3,182.8 1729.3,182.4 1732.2,182 1735.2,181.6 1738.2,181.2 1741.2,180.8 1744.1,180.3 1747.1,179.9 1750.1,179.5 1753,179 1756,178.5 1758.9,178.1 1761.9,177.6 1764.9,177.1 1767.8,176.6 1770.8,176.1 1773.7,175.6 1776.7,175.1 1779.6,174.6 1782.6,174 1785.6,173.5 1788.5,173 1791.5,172.4 1794.4,171.9 1797.4,171.3 1800.3,170.7 1803.3,170.2 1806.2,169.6 1809.2,169 1812.1,168.5 1815.1,167.9 1818,167.3 1821,166.7 1823.9,166.1 1826.9,165.5 1829.8,164.9 1832.7,164.3 1835.7,163.7 1838.6,163.1 1841.6,162.5 1844.5,161.9 1847.5,161.3 1850.4,160.7 1853.4,160.1 1856.3,159.5 1859.3,158.9 1862.2,158.3 1865.2,157.6 1868.1,157 1871.1,156.4 1874,155.8 1877,155.2 1879.9,154.6 1882.8,154 1885.8,153.4 1888.7,152.9 1891.7,152.3 1894.6,151.7 1897.6,151.1 1900.6,150.5 1903.5,149.9 1906.5,149.4 1909.4,148.8 1912.4,148.2 1915.3,147.7 1918.3,147.1 1921.2,146.6 1924.2,146 1927.2,145.5 1930.1,145 1933.1,144.4 1936,143.9 1939,143.4 1942,142.9 1944.9,142.4 1947.9,141.9 1950.9,141.5 1953.8,141 1956.8,140.5 1959.8,140.1 1962.7,139.6 1965.7,139.2"/>
<path fill="#000000" d="M1483.4 188.9h10v10h-10zM1546.7 189h10v10h-10zM1570.7 188.5h10v10h-10zM1598.8 187.7h10v10h-10zM1634.8 185.9h10v10h-10zM1672.6 183.1h10v10h-10zM1684.6 182h10v10h-10zM1705.4 179.7h10v10h-10zM1723.3 177.5h10v10h-10z"/>
<path fill="#000000" d="M1784.9 167h11.2v11.2h-11.2zM1787.8 166.4h11.2v11.2h-11.2zM1790.8 165.9h11.2v11.2h-11.2zM1793.7 165.3h11.2v11.2h-11.2zM1796.7 164.8h11.2v11.2h-11.2zM1799.6 164.2h11.2v11.2h-11.2zM1802.6 163.6h11.2v11.2h-11.2zM1805.5 163.1h11.2v11.2h-11.2zM1808.4 162.5h11.2v11.2h-11.2zM1811.4 161.9h11.2v11.2h-11.2zM1814.3 161.3h11.2v11.2h-11.2zM1817.3 160.7h11.2v11.2h-11.2zM1820.2 160.1h11.2v11.2h-11.2zM1823.2 159.5h11.2v11.2h-11.2zM1826.1 158.9h11.2v11.2h-11.2zM1829 158.3h11.2v11.2h-11.2zM1832 157.7h11.2v11.2h-11.2zM1834.9 157.1h11.2v11.2h-11.2zM1837.8 156.5h11.2v11.2h-11.2zM1840.8 155.9h11.2v11.2h-11.2zM1843.7 155.3h11.2v11.2h-11.2zM1846.7 154.7h11.2v11.2h-11.2zM1849.6 154.1h11.2v11.2h-11.2zM1852.5 153.5h11.2v11.2h-11.2zM1855.5 152.9h11.2v11.2h-11.2zM1858.4 152.3h11.2v11.2h-11.2zM1861.4 151.7h11.2v11.2h-11.2zM1864.3 151.1h11.2v11.2h-11.2zM1867.2 150.5h11.2v11.2h-11.2zM1870.2 149.9h11.2v11.2h-11.2zM1873.1 149.3h11.2v11.2h-11.2zM1876.1 148.7h11.2v11.2h-11.2zM1879 148.1h11.2v11.2h-11.2zM1881.9 147.5h11.2v11.2h-11.2zM1884.9 146.9h11.2v11.2h-11.2zM1887.8 146.3h11.2v11.2h-11.2zM1890.8 145.7h11.2v11.2h-11.2zM1893.7 145.2h11.2v11.2h-11.2zM1896.6 144.6h11.2v11.2h-11.2zM1899.6 144h11.2v11.2h-11.2zM1902.5 143.4h11.2v11.2h-11.2zM1905.5 142.9h11.2v11.2h-11.2zM1908.4 142.3h11.2v11.2h-11.2zM1911.4 141.8h11.2v11.2h-11.2zM1914.3 141.2h11.2v11.2h-11.2zM1917.3 140.7h11.2v11.2h-11.2zM1920.2 140.1h11.2v11.2h-11.2zM1923.2 139.6h11.2v11.2h-11.2zM1926.1 139.1h11.2v11.2h-11.2zM1929.1 138.6h11.2v11.2h-11.2zM1932 138.1h11.2v11.2h-11.2zM1935 137.5h11.2v11.2h-11.2zM1938 137h11.2v11.2h-11.2zM1940.9 136.6h11.2v11.2h-11.2zM1943.9 136.1h11.2v11.2h-11.2zM1946.8 135.6h11.2v11.2h-11.2zM1949.8 135.1h11.2v11.2h-11.2zM1952.8 134.7h11.2v11.2h-11.2zM1955.7 134.2h11.2v11.2h-11.2zM1958.7 133.8h11.2v11.2h-11.2zM1961.7 133.4h11.2v11.2h-11.2z"/>
<polygon fill="#000000" stroke="#000000" stroke-width="2" stroke-linejoin="round" points="1735,178 1745,172 1783,168 1783,185 1745,189.5 1735,189"/>
<polyline fill="none" stroke="#ff0000" stroke-width="6" stroke-linecap="round" stroke-linejoin="round" points="489.9,959.8 492.9,959.8 495.9,959.8 498.9,959.8 501.9,959.8 504.9,959.8 507.9,959.9 510.9,959.9 513.9,959.9 516.9,959.9 519.9,959.9 522.9,959.9 525.9,959.9 528.9,959.9 531.9,959.9 534.9,959.9 537.9,959.9 540.9,959.9 543.9,960 546.9,960 549.9,960 552.9,960 555.9,960 558.9,960 561.9,960 564.9,960 567.9,960 570.9,960 573.9,960 577,960.1 580,960.1 583,960.1 586,960.1 589,960.1 592,960.1 595,960.1 598,960.1 601,960.1 604,960.1 607,960.1 610,960.2 613,960.2 616,960.2 619,960.2 622,960.2 625,960.2 628,960.2 631,960.2 634,960.2 637,960.2 640,960.2 643,960.2 646,960.3 649,960.3 652,960.3 655,960.3 658,960.3 661,960.3 663.9,960.4 666.9,960.5 669.8,960.6 672.7,960.7 675.7,960.8 678.6,960.9 681.6,960.9 684.5,961 687.5,961.1 690.5,961.1 693.4,961.2 696.4,961.2 699.3,961.3 702.3,961.3 705.3,961.4 708.3,961.4 711.2,961.5 714.2,961.5 717.2,961.6 720.2,961.6 723.2,961.6 726.2,961.7 729.2,961.7 732.1,961.7 735.1,961.8 738.1,961.8 741.1,961.8 744.1,961.8 747.1,961.9 750.1,961.9 753.2,961.9 756.2,961.9 759.2,962 762.2,962 765.2,962 768.2,962 771.2,962 774.2,962 777.3,962.1 780.3,962.1 783.3,962.1 786.3,962.1 789.3,962.1 792.4,962.2 795.4,962.2 798.4,962.2 801.4,962.2 804.5,962.2 807.5,962.3 810.5,962.3 813.6,962.3 816.6,962.3 819.6,962.4 822.7,962.4 825.7,962.4 828.7,962.5 831.8,962.5 834.8,962.6 837.8,962.6 840.9,962.6 843.9,962.7 846.9,962.7 850,962.8 853,962.8 856.1,962.9 859.1,962.9 862.1,963 865.2,963.1 868.2,963.1 871.3,963.2 874.3,963.3 877.3,963.4 880.4,963.5 883.4,963.5 886.4,963.6 889.5,963.7 892.5,963.8 895.5,963.9 898.6,964 901.6,964.1 904.7,964.3 907.7,964.4 910.7,964.5 913.8,964.6 916.8,964.8 919.8,964.9 922.8,965.1 925.9,965.2 928.9,965.4 931.9,965.5 935,965.7 938,965.9 941,966.1 944,966.2 947,966.4 950.1,966.6 953.1,966.8 956.1,967 959.1,967.3 962.1,967.5 965.1,967.7 968.2,968 971.2,968.2 974.2,968.5 977.2,968.7 980.2,969 983.2,969.3 986.2,969.5 989.2,969.8 992.2,970.1 995.2,970.4 998.2,970.7 1001.2,971.1 1004.2,971.4 1007.2,971.7 1010.1,972.1 1013.1,972.4 1016.1,972.8 1019.1,973.2 1022.1,973.5 1025,973.9 1028,974.3 1031,974.7 1033.9,975.2 1036.9,975.6 1039.9,976 1042.8,976.5 1045.8,976.9 1048.7,977.4 1051.7,977.9 1054.6,978.3 1057.6,978.8 1060.5,979.4 1063.5,979.9 1066.4,980.4 1069.3,980.9 1072.3,981.5 1075.2,982 1078.1,982.6 1081,983.2 1083.9,983.8 1086.9,984.4 1089.8,985 1092.7,985.6 1095.6,986.3 1098.5,986.9 1101.4,987.6 1104.3,988.2 1107.2,988.9 1110,989.6 1112.9,990.3 1115.8,991.1 1118.7,991.8 1121.5,992.5 1124.4,993.3 1127.3,994.1 1130.1,994.9 1133,995.7 1135.8,996.5 1138.7,997.3 1141.5,998.1 1144.3,999 1147.2,999.9 1150,1000.7 1152.8,1001.6 1155.7,1002.5 1158.5,1003.5 1161.3,1004.4 1164.1,1005.3 1166.9,1006.3 1169.7,1007.3 1172.5,1008.3 1175.3,1009.3 1178,1010.3 1180.8,1011.3 1183.6,1012.4 1186.4,1013.5 1189.1,1014.5 1191.9,1015.6 1194.6,1016.7 1197.4,1017.9 1200.1,1019 1202.8,1020.2 1205.6,1021.4 1208.3,1022.5 1211,1023.8 1213.7,1025 1216.4,1026.2 1219.2,1027.5 1221.9,1028.7 1224.5,1030 1227.2,1031.3 1229.9,1032.6 1232.6,1033.9 1235.3,1035.3 1237.9,1036.6 1240.6,1038 1243.3,1039.4 1245.9,1040.8 1248.6,1042.2 1251.2,1043.6 1253.8,1045 1256.5,1046.5 1259.1,1047.9 1261.7,1049.4 1264.3,1050.9 1266.9,1052.4 1269.5,1053.9 1272.1,1055.4 1274.7,1056.9 1277.3,1058.5 1279.9,1060 1282.5,1061.6 1285.1,1063.2 1287.6,1064.8 1290.2,1066.4 1292.8,1068 1295.3,1069.6 1297.8,1071.3 1300.4,1072.9 1302.9,1074.6 1305.5,1076.2 1308,1077.9 1310.5,1079.6 1313,1081.3 1315.5,1083 1318,1084.7 1320.5,1086.4 1323,1088.2 1325.5,1089.9 1328,1091.7 1330.5,1093.4 1332.9,1095.2 1335.4,1097 1337.9,1098.7 1340.3,1100.5 1342.8,1102.3 1345.2,1104.2 1347.7,1106 1350.1,1107.8 1352.5,1109.6 1355,1111.5 1357.4,1113.3 1359.8,1115.2 1362.2,1117.1 1364.6,1118.9 1367,1120.8 1369.4,1122.7 1371.8,1124.6 1374.2,1126.5 1376.6,1128.4 1378.9,1130.3 1381.3,1132.2 1383.7,1134.1 1386,1136.1 1388.4,1138 1390.7,1139.9 1393,1141.9 1395.4,1143.8 1397.7,1145.8 1400,1147.8 1402.3,1149.7 1404.7,1151.7 1407,1153.7 1409.3,1155.6 1411.6,1157.6 1413.9,1159.6 1416.1,1161.6 1418.4,1163.6 1420.7,1165.6 1423,1167.6 1425.2,1169.6 1427.5,1171.6 1429.8,1173.6 1432,1175.6 1434.2,1177.7 1436.5,1179.7 1438.7,1181.7 1440.9,1183.7 1443.2,1185.8 1445.4,1187.8 1447.6,1189.8 1449.8,1191.9 1452,1193.9 1454.2,1195.9 1456.4,1198 1458.6,1200 1460.8,1202 1462.9,1204.1 1465.1,1206.1 1467.3,1208.2 1469.4,1210.2 1471.6,1212.3 1473.7,1214.3 1475.9,1216.3 1478,1218.4 1480.2,1220.4 1482.3,1222.4 1484.4,1224.5 1486.6,1226.5 1488.8,1228.4 1490.9,1230.4 1493.1,1232.4 1495.3,1234.3 1497.5,1236.3 1499.7,1238.2 1501.9,1240.1 1504.1,1241.9 1506.4,1243.8 1508.7,1245.6 1511,1247.4 1513.3,1249.2 1515.6,1250.9 1518,1252.6 1520.3,1254.2 1522.7,1255.9 1525.2,1257.5 1527.7,1259 1530.2,1260.5 1532.7,1262 1535.2,1263.4 1537.8,1264.8 1540.5,1266.1 1543.2,1267.4 1545.9,1268.7 1548.6,1269.9 1551.4,1271 1554.3,1272.1 1557.1,1273.1 1560.1,1274.1 1563,1275 1566.1,1275.8 1569.1,1276.6 1572.2,1277.3 1575.3,1278 1578.4,1278.6 1581.6,1279.2 1584.7,1279.7 1587.9,1280.1 1591,1280.5 1594.2,1280.8 1597.3,1281.1 1600.4,1281.3 1603.5,1281.4 1606.5,1281.5 1609.5,1281.5 1612.5,1281.5 1615.4,1281.4 1618.3,1281.2 1621.1,1281 1623.8,1280.7"/>
<polyline fill="none" stroke="#ff0000" stroke-width="12.7" stroke-linecap="round" stroke-linejoin="round" points="1075.2,982 1078.1,982.6 1081,983.2 1083.9,983.8 1086.9,984.4 1089.8,985 1092.7,985.6 1095.6,986.3 1098.5,986.9 1101.4,987.6 1104.3,988.2 1107.2,988.9 1110,989.6 1112.9,990.3 1115.8,991.1 1118.7,991.8 1121.5,992.5 1124.4,993.3 1127.3,994.1 1130.1,994.9 1133,995.7 1135.8,996.5 1138.7,997.3 1141.5,998.1 1144.3,999 1147.2,999.9 1150,1000.7 1152.8,1001.6 1155.7,1002.5 1158.5,1003.5 1161.3,1004.4 1164.1,1005.3 1166.9,1006.3 1169.7,1007.3 1172.5,1008.3 1175.3,1009.3 1178,1010.3 1180.8,1011.3 1183.6,1012.4 1186.4,1013.5 1189.1,1014.5 1191.9,1015.6 1194.6,1016.7 1197.4,1017.9 1200.1,1019 1202.8,1020.2 1205.6,1021.4 1208.3,1022.5 1211,1023.8 1213.7,1025 1216.4,1026.2 1219.2,1027.5 1221.9,1028.7 1224.5,1030 1227.2,1031.3 1229.9,1032.6 1232.6,1033.9 1235.3,1035.3 1237.9,1036.6 1240.6,1038 1243.3,1039.4 1245.9,1040.8 1248.6,1042.2 1251.2,1043.6 1253.8,1045 1256.5,1046.5 1259.1,1047.9 1261.7,1049.4 1264.3,1050.9 1266.9,1052.4 1269.5,1053.9 1272.1,1055.4 1274.7,1056.9 1277.3,1058.5 1279.9,1060 1282.5,1061.6 1285.1,1063.2 1287.6,1064.8 1290.2,1066.4 1292.8,1068 1295.3,1069.6 1297.8,1071.3 1300.4,1072.9 1302.9,1074.6 1305.5,1076.2 1308,1077.9 1310.5,1079.6 1313,1081.3 1315.5,1083 1318,1084.7 1320.5,1086.4 1323,1088.2 1325.5,1089.9 1328,1091.7 1330.5,1093.4 1332.9,1095.2 1335.4,1097 1337.9,1098.7 1340.3,1100.5 1342.8,1102.3 1345.2,1104.2 1347.7,1106 1350.1,1107.8 1352.5,1109.6 1355,1111.5 1357.4,1113.3 1359.8,1115.2 1362.2,1117.1 1364.6,1118.9 1367,1120.8 1369.4,1122.7 1371.8,1124.6 1374.2,1126.5 1376.6,1128.4 1378.9,1130.3 1381.3,1132.2 1383.7,1134.1 1386,1136.1 1388.4,1138 1390.7,1139.9 1393,1141.9 1395.4,1143.8 1397.7,1145.8 1400,1147.8 1402.3,1149.7 1404.7,1151.7 1407,1153.7 1409.3,1155.6 1411.6,1157.6 1413.9,1159.6 1416.1,1161.6 1418.4,1163.6 1420.7,1165.6 1423,1167.6 1425.2,1169.6 1427.5,1171.6 1429.8,1173.6 1432,1175.6 1434.2,1177.7 1436.5,1179.7 1438.7,1181.7 1440.9,1183.7 1443.2,1185.8 1445.4,1187.8 1447.6,1189.8 1449.8,1191.9 1452,1193.9 1454.2,1195.9 1456.4,1198 1458.6,1200 1460.8,1202 1462.9,1204.1 1465.1,1206.1 1467.3,1208.2 1469.4,1210.2 1471.6,1212.3 1473.7,1214.3 1475.9,1216.3 1478,1218.4 1480.2,1220.4 1482.3,1222.4 1484.4,1224.5 1486.6,1226.5 1488.8,1228.4 1490.9,1230.4 1493.1,1232.4 1495.3,1234.3 1497.5,1236.3 1499.7,1238.2 1501.9,1240.1 1504.1,1241.9 1506.4,1243.8 1508.7,1245.6 1511,1247.4 1513.3,1249.2 1515.6,1250.9 1518,1252.6 1520.3,1254.2 1522.7,1255.9 1525.2,1257.5 1527.7,1259 1530.2,1260.5 1532.7,1262 1535.2,1263.4 1537.8,1264.8 1540.5,1266.1 1543.2,1267.4 1545.9,1268.7 1548.6,1269.9 1551.4,1271 1554.3,1272.1 1557.1,1273.1 1560.1,1274.1 1563,1275 1566.1,1275.8 1569.1,1276.6 1572.2,1277.3 1575.3,1278 1578.4,1278.6 1581.6,1279.2 1584.7,1279.7 1587.9,1280.1 1591,1280.5 1594.2,1280.8 1597.3,1281.1 1600.4,1281.3 1603.5,1281.4 1606.5,1281.5 1609.5,1281.5 1612.5,1281.5 1615.4,1281.4 1618.3,1281.2 1621.1,1281 1623.8,1280.7"/>
<path fill="#ff0000" d="M484.1 959.8a5.8 5.8 0 1 0 11.5 0a5.8 5.8 0 1 0 -11.5 0zM702.5 961.4a5.8 5.8 0 1 0 11.5 0a5.8 5.8 0 1 0 -11.5 0zM762.5 962a5.8 5.8 0 1 0 11.5 0a5.8 5.8 0 1 0 -11.5 0zM823 962.5a5.8 5.8 0 1 0 11.5 0a5.8 5.8 0 1 0 -11.5 0zM850.3 962.9a5.8 5.8 0 1 0 11.5 0a5.8 5.8 0 1 0 -11.5 0zM872.6 963.4a5.8 5.8 0 1 0 11.5 0a5.8 5.8 0 1 0 -11.5 0zM888.8 963.9a5.8 5.8 0 1 0 11.5 0a5.8 5.8 0 1 0 -11.5 0zM908 964.6a5.8 5.8 0 1 0 11.5 0a5.8 5.8 0 1 0 -11.5 0zM931.2 965.8a5.8 5.8 0 1 0 11.5 0a5.8 5.8 0 1 0 -11.5 0zM940.3 966.4a5.8 5.8 0 1 0 11.5 0a5.8 5.8 0 1 0 -11.5 0zM953.4 967.3a5.8 5.8 0 1 0 11.5 0a5.8 5.8 0 1 0 -11.5 0zM963.4 968a5.8 5.8 0 1 0 11.5 0a5.8 5.8 0 1 0 -11.5 0zM976.4 969.2a5.8 5.8 0 1 0 11.5 0a5.8 5.8 0 1 0 -11.5 0zM989.4 970.4a5.8 5.8 0 1 0 11.5 0a5.8 5.8 0 1 0 -11.5 0zM994.4 971a5.8 5.8 0 1 0 11.5 0a5.8 5.8 0 1 0 -11.5 0zM1003.4 972a5.8 5.8 0 1 0 11.5 0a5.8 5.8 0 1 0 -11.5 0zM1011.8 973a5.8 5.8 0 1 0 11.5 0a5.8 5.8 0 1 0 -11.5 0zM1019.6 974a5.8 5.8 0 1 0 11.5 0a5.8 5.8 0 1 0 -11.5 0zM1027 975a5.8 5.8 0 1 0 11.5 0a5.8 5.8 0 1 0 -11.5 0zM1034 976a5.8 5.8 0 1 0 11.5 0a5.8 5.8 0 1 0 -11.5 0zM1040.5 977a5.8 5.8 0 1 0 11.5 0a5.8 5.8 0 1 0 -11.5 0zM1046.7 978a5.8 5.8 0 1 0 11.5 0a5.8 5.8 0 1 0 -11.5 0zM1052.5 979a5.8 5.8 0 1 0 11.5 0a5.8 5.8 0 1 0 -11.5 0zM1057.9 979.9a5.8 5.8 0 1 0 11.5 0a5.8 5.8 0 1 0 -11.5 0zM1063 980.8a5.8 5.8 0 1 0 11.5 0a5.8 5.8 0 1 0 -11.5 0zM1067.8 981.7a5.8 5.8 0 1 0 11.5 0a5.8 5.8 0 1 0 -11.5 0z"/>
<polyline fill="none" stroke="#ff0000" stroke-width="6" stroke-linecap="round" stroke-linejoin="round" points="489.9,959.8 492.9,959.8 495.9,959.8 498.9,959.8 501.9,959.8 504.9,959.8 507.9,959.7 510.9,959.7 513.9,959.7 516.9,959.7 519.9,959.7 522.9,959.7 525.9,959.7 528.9,959.7 531.9,959.7 534.9,959.7 537.9,959.7 540.9,959.6 543.9,959.6 546.9,959.6 549.9,959.6 552.9,959.6 555.9,959.6 558.9,959.6 561.9,959.6 564.9,959.6 567.9,959.6 570.9,959.6 573.9,959.6 577,959.5 580,959.5 583,959.5 586,959.5 589,959.5 592,959.5 595,959.5 598,959.5 601,959.5 604,959.5 607,959.5 610,959.4 613,959.4 616,959.4 619,959.4 622,959.4 625,959.4 628,959.4 631,959.4 634,959.4 637,959.4 640,959.4 643,959.3 646,959.3 649,959.3 652,959.3 655,959.3 658,959.3 661,959.3 664.1,959.4 667.1,959.5 670.1,959.6 673.2,959.7 676.2,959.7 679.2,959.8 682.3,959.8 685.3,959.9 688.3,959.9 691.3,959.9 694.4,959.9 697.4,960 700.4,960 703.4,960 706.4,959.9 709.4,959.9 712.4,959.9 715.4,959.9 718.5,959.9 721.5,959.8 724.5,959.8 727.5,959.7 730.5,959.7 733.5,959.6 736.4,959.5 739.4,959.5 742.4,959.4 745.4,959.3 748.4,959.2 751.4,959.1 754.4,959.1 757.4,959 760.4,958.9 763.4,958.8 766.3,958.7 769.3,958.5 772.3,958.4 775.3,958.3 778.3,958.2 781.3,958.1 784.3,958 787.2,957.8 790.2,957.7 793.2,957.6 796.2,957.4 799.2,957.3 802.2,957.2 805.1,957 808.1,956.9 811.1,956.8 814.1,956.6 817.1,956.5 820.1,956.3 823,956.2 826,956 829,955.9 832,955.8 835,955.6 838,955.5 841,955.3 844,955.2 846.9,955.1 849.9,954.9 852.9,954.8 855.9,954.6 858.9,954.5 861.9,954.4 864.9,954.2 867.9,954.1 870.9,954 873.9,953.8 876.9,953.7 879.9,953.6 883,953.5 886,953.4 889,953.2 892,953.1 895,953 898,952.9 901,952.8 904.1,952.7 907.1,952.6 910.1,952.5 913.2,952.4 916.2,952.4 919.2,952.3 922.2,952.2 925.3,952.1 928.3,952 931.3,951.9 934.4,951.8 937.4,951.7 940.4,951.6 943.5,951.4 946.5,951.3 949.5,951.2 952.6,951.1 955.6,950.9 958.6,950.8 961.7,950.6 964.7,950.5 967.7,950.3 970.7,950.1 973.8,949.9 976.8,949.7 979.8,949.5 982.8,949.2 985.8,949 988.8,948.7 991.8,948.4 994.8,948.1 997.8,947.8 1000.8,947.5 1003.8,947.1 1006.8,946.7 1009.7,946.4 1012.7,946 1015.7,945.5 1018.6,945.1 1021.6,944.6 1024.5,944.1 1027.5,943.6 1030.4,943.1 1033.3,942.5 1036.3,941.9 1039.2,941.3 1042.1,940.6 1045,940 1047.9,939.3 1050.8,938.6 1053.7,937.8 1056.6,937 1059.4,936.2 1062.3,935.4 1065.1,934.5 1068,933.6 1070.8,932.7 1073.6,931.7 1076.5,930.7 1079.3,929.7 1082.1,928.6 1084.8,927.5 1087.6,926.4 1090.4,925.2 1093.1,924 1095.8,922.8 1098.6,921.5 1101.3,920.2 1103.9,918.9 1106.6,917.5 1109.3,916.1 1111.9,914.7 1114.5,913.2 1117.1,911.8 1119.7,910.2 1122.3,908.7 1124.8,907.1 1127.3,905.5 1129.8,903.9 1132.3,902.2 1134.8,900.5 1137.2,898.8 1139.6,897 1142,895.2 1144.4,893.4 1146.7,891.5 1149,889.6 1151.3,887.7 1153.6,885.8 1155.8,883.8 1158,881.8 1160.2,879.8 1162.3,877.7 1164.4,875.6 1166.5,873.5 1168.6,871.3 1170.6,869.1 1172.6,866.9 1174.6,864.7 1176.5,862.4 1178.4,860.2 1180.3,857.9 1182.2,855.5 1184,853.2 1185.9,850.8 1187.7,848.4 1189.5,846 1191.2,843.6 1193,841.1 1194.7,838.7 1196.4,836.2 1198.1,833.7 1199.8,831.2 1201.4,828.6 1203.1,826.1 1204.7,823.5 1206.3,821 1207.9,818.4 1209.5,815.8 1211.1,813.2 1212.6,810.6 1214.2,808 1215.7,805.4 1217.3,802.8 1218.8,800.1 1220.3,797.5 1221.9,794.9 1223.4,792.2 1224.9,789.6 1226.4,786.9 1227.9,784.3 1229.3,781.6 1230.8,779 1232.3,776.3 1233.8,773.7 1235.3,771.1 1236.8,768.4 1238.3,765.8 1239.8,763.2 1241.3,760.6 1242.7,757.9 1244.2,755.3 1245.7,752.8 1247.3,750.2 1248.8,747.6 1250.3,745 1251.8,742.5 1253.4,739.9 1254.9,737.4 1256.5,734.9 1258,732.4 1259.6,729.9 1261.2,727.5 1262.8,725 1264.4,722.6"/>
<polyline fill="none" stroke="#ff0000" stroke-width="13.8" stroke-linecap="round" stroke-linejoin="round" points="1075.5,931 1078.3,930 1081.1,928.9 1083.9,927.9 1086.7,926.7 1089.4,925.6 1092.2,924.4 1094.9,923.2 1097.7,921.9 1100.4,920.6 1103.1,919.3 1105.7,918 1108.4,916.6 1111,915.2 1113.7,913.7 1116.3,912.3 1118.9,910.8 1121.4,909.2 1124,907.7 1126.5,906.1 1129,904.4 1131.5,902.8 1134,901.1 1136.4,899.3 1138.8,897.6 1141.2,895.8 1143.6,894 1145.9,892.1 1148.2,890.3 1150.5,888.4 1152.8,886.4 1155,884.5 1157.3,882.5 1159.4,880.4 1161.6,878.4 1163.7,876.3 1165.8,874.2 1167.9,872 1169.9,869.9 1171.9,867.7 1173.9,865.4 1175.9,863.2 1177.8,860.9 1179.7,858.6 1181.6,856.3 1183.4,854 1185.3,851.6 1187.1,849.2 1188.9,846.8 1190.6,844.4 1192.4,841.9 1194.1,839.5 1195.8,837 1197.5,834.5 1199.2,832 1200.9,829.5 1202.5,826.9 1204.2,824.4 1205.8,821.8 1207.4,819.3 1209,816.7 1210.6,814.1 1212.1,811.5 1213.7,808.9 1215.2,806.3 1216.8,803.6 1218.3,801 1219.8,798.4 1221.3,795.7 1222.9,793.1 1224.4,790.4 1225.9,787.8 1227.4,785.2 1228.9,782.5 1230.3,779.9 1231.8,777.2 1233.3,774.6 1234.8,771.9 1236.3,769.3 1237.8,766.7 1239.3,764 1240.8,761.4 1242.2,758.8 1243.7,756.2 1245.2,753.6 1246.8,751 1248.3,748.5 1249.8,745.9 1251.3,743.3 1252.8,740.8 1254.4,738.3 1255.9,735.7 1257.5,733.2 1259.1,730.8 1260.7,728.3 1262.3,725.8 1263.9,723.4 1265.5,721"/>
<path fill="#ff0000" d="M654.2 959.3a5.8 5.8 0 1 0 11.5 0a5.8 5.8 0 1 0 -11.5 0zM701.7 959.9a5.8 5.8 0 1 0 11.5 0a5.8 5.8 0 1 0 -11.5 0zM753.6 958.9a5.8 5.8 0 1 0 11.5 0a5.8 5.8 0 1 0 -11.5 0zM805.3 956.8a5.8 5.8 0 1 0 11.5 0a5.8 5.8 0 1 0 -11.5 0zM833.2 955.4a5.8 5.8 0 1 0 11.5 0a5.8 5.8 0 1 0 -11.5 0zM861.2 954.1a5.8 5.8 0 1 0 11.5 0a5.8 5.8 0 1 0 -11.5 0zM880.2 953.4a5.8 5.8 0 1 0 11.5 0a5.8 5.8 0 1 0 -11.5 0zM894.3 952.9a5.8 5.8 0 1 0 11.5 0a5.8 5.8 0 1 0 -11.5 0zM912.5 952.3a5.8 5.8 0 1 0 11.5 0a5.8 5.8 0 1 0 -11.5 0zM925.6 951.9a5.8 5.8 0 1 0 11.5 0a5.8 5.8 0 1 0 -11.5 0zM935.7 951.5a5.8 5.8 0 1 0 11.5 0a5.8 5.8 0 1 0 -11.5 0zM948.8 951a5.8 5.8 0 1 0 11.5 0a5.8 5.8 0 1 0 -11.5 0zM962 950.3a5.8 5.8 0 1 0 11.5 0a5.8 5.8 0 1 0 -11.5 0zM979 949a5.8 5.8 0 1 0 11.5 0a5.8 5.8 0 1 0 -11.5 0zM989.1 948.1a5.8 5.8 0 1 0 11.5 0a5.8 5.8 0 1 0 -11.5 0zM995 947.5a5.8 5.8 0 1 0 11.5 0a5.8 5.8 0 1 0 -11.5 0zM1003.9 946.4a5.8 5.8 0 1 0 11.5 0a5.8 5.8 0 1 0 -11.5 0zM1012.3 945.2a5.8 5.8 0 1 0 11.5 0a5.8 5.8 0 1 0 -11.5 0zM1020.1 943.9a5.8 5.8 0 1 0 11.5 0a5.8 5.8 0 1 0 -11.5 0zM1027.4 942.5a5.8 5.8 0 1 0 11.5 0a5.8 5.8 0 1 0 -11.5 0zM1034.3 941.1a5.8 5.8 0 1 0 11.5 0a5.8 5.8 0 1 0 -11.5 0zM1040.7 939.6a5.8 5.8 0 1 0 11.5 0a5.8 5.8 0 1 0 -11.5 0zM1046.7 938.1a5.8 5.8 0 1 0 11.5 0a5.8 5.8 0 1 0 -11.5 0zM1052.4 936.6a5.8 5.8 0 1 0 11.5 0a5.8 5.8 0 1 0 -11.5 0zM1057.7 935a5.8 5.8 0 1 0 11.5 0a5.8 5.8 0 1 0 -11.5 0zM1062.6 933.5a5.8 5.8 0 1 0 11.5 0a5.8 5.8 0 1 0 -11.5 0zM1067.3 931.9a5.8 5.8 0 1 0 11.5 0a5.8 5.8 0 1 0 -11.5 0z"/>
<polyline fill="none" stroke="#ff0000" stroke-width="12" stroke-linecap="round" stroke-linejoin="round" points="1265.5,721 1267.9,719.5 1270.4,718.1 1273,716.8 1275.6,715.7 1278.3,714.6 1281,713.6 1283.7,712.7 1286.5,711.9 1289.4,711.2 1292.2,710.5 1295.1,709.9 1298.1,709.4 1301,708.9 1304,708.5 1307,708.1 1310,707.7 1313,707.3 1316.1,707 1319.1,706.7 1322.1,706.4 1325.2,706.1 1328.2,705.8 1331.3,705.5 1334.3,705.3 1337.4,705 1340.5,704.8 1343.5,704.6 1346.6,704.3 1349.6,704.1 1352.7,703.9 1355.8,703.7 1358.8,703.4 1361.9,703.2 1364.9,703 1368,702.8 1371.1,702.6 1374.1,702.3 1377.2,702.1 1380.2,701.9 1383.3,701.6 1386.3,701.4 1389.3,701.1 1392.4,700.8 1395.4,700.6 1398.4,700.3 1401.4,700 1404.4,699.6 1407.4,699.3 1410.4,699 1413.4,698.6 1416.4,698.2 1419.4,697.8 1422.3,697.4 1425.3,697 1428.2,696.5"/>
<path fill="#ff0000" d="M1259.1 721a6.4 6.4 0 1 0 12.8 0a6.4 6.4 0 1 0 -12.8 0zM1267 716.7a6.4 6.4 0 1 0 12.8 0a6.4 6.4 0 1 0 -12.8 0zM1275.3 713.4a6.4 6.4 0 1 0 12.8 0a6.4 6.4 0 1 0 -12.8 0zM1284 711a6.4 6.4 0 1 0 12.8 0a6.4 6.4 0 1 0 -12.8 0zM1292.8 709.2a6.4 6.4 0 1 0 12.8 0a6.4 6.4 0 1 0 -12.8 0zM1301.7 707.9a6.4 6.4 0 1 0 12.8 0a6.4 6.4 0 1 0 -12.8 0zM1310.7 706.9a6.4 6.4 0 1 0 12.8 0a6.4 6.4 0 1 0 -12.8 0zM1319.6 706a6.4 6.4 0 1 0 12.8 0a6.4 6.4 0 1 0 -12.8 0zM1328.6 705.2a6.4 6.4 0 1 0 12.8 0a6.4 6.4 0 1 0 -12.8 0zM1337.6 704.5a6.4 6.4 0 1 0 12.8 0a6.4 6.4 0 1 0 -12.8 0zM1346.6 703.9a6.4 6.4 0 1 0 12.8 0a6.4 6.4 0 1 0 -12.8 0zM1355.5 703.2a6.4 6.4 0 1 0 12.8 0a6.4 6.4 0 1 0 -12.8 0zM1364.5 702.6a6.4 6.4 0 1 0 12.8 0a6.4 6.4 0 1 0 -12.8 0zM1373.5 701.9a6.4 6.4 0 1 0 12.8 0a6.4 6.4 0 1 0 -12.8 0zM1382.5 701.1a6.4 6.4 0 1 0 12.8 0a6.4 6.4 0 1 0 -12.8 0zM1391.4 700.3a6.4 6.4 0 1 0 12.8 0a6.4 6.4 0 1 0 -12.8 0zM1400.4 699.4a6.4 6.4 0 1 0 12.8 0a6.4 6.4 0 1 0 -12.8 0zM1409.3 698.3a6.4 6.4 0 1 0 12.8 0a6.4 6.4 0 1 0 -12.8 0zM1418.2 697.1a6.4 6.4 0 1 0 12.8 0a6.4 6.4 0 1 0 -12.8 0z"/>
<path fill="#ff0000" d="M1421.8 696.5a6.4 6.4 0 1 0 12.8 0a6.4 6.4 0 1 0 -12.8 0z"/>
<polyline fill="none" stroke="#ff0000" stroke-width="3.6" stroke-linecap="round" stroke-linejoin="round" points="1428.2,696.5 1350,695.3 1279,695"/>
<polyline fill="none" stroke="#ff0000" stroke-width="6" stroke-linecap="round" stroke-linejoin="round" points="1279.2,695 1280.6,692.3 1282,689.7 1283.3,687 1284.7,684.3 1286.1,681.6 1287.4,678.9 1288.8,676.3 1290.2,673.6 1291.5,670.9 1292.9,668.2 1294.2,665.5 1295.6,662.8 1296.9,660.1 1298.2,657.4 1299.6,654.8 1300.9,652.1 1302.3,649.4 1303.6,646.7 1304.9,644 1306.2,641.2 1307.6,638.5 1308.9,635.8 1310.2,633.1 1311.5,630.4 1312.8,627.7 1314.1,625 1315.4,622.3 1316.7,619.5 1318,616.8 1319.3,614.1 1320.6,611.4 1321.8,608.7 1323.1,605.9 1324.4,603.2 1325.7,600.5 1326.9,597.7 1328.2,595 1329.5,592.3 1330.7,589.5 1332,586.8 1333.2,584 1334.5,581.3 1335.7,578.5 1337,575.8 1338.2,573 1339.4,570.3 1340.6,567.5 1341.9,564.8 1343.1,562 1344.3,559.3 1345.5,556.5 1346.7,553.8 1347.9,551 1349.1,548.2 1350.3,545.5 1351.5,542.7 1352.7,539.9 1353.9,537.1 1355,534.4 1356.2,531.6 1357.4,528.8 1358.5,526 1359.7,523.3 1360.8,520.5 1362,517.7 1363.1,514.9 1364.3,512.1 1365.4,509.3 1366.6,506.5 1367.7,503.7 1368.8,500.9 1369.9,498.1 1371,495.3 1372.1,492.5 1373.2,489.7 1374.3,486.9 1375.4,484.1 1376.5,481.3 1377.6,478.5 1378.7,475.7 1379.8,472.9 1380.8,470.1 1381.9,467.2 1383,464.4 1384,461.6 1385.1,458.8 1386.1,456 1387.1,453.1 1388.2,450.3 1389.2,447.5 1390.2,444.6 1391.2,441.8 1392.3,439 1393.3,436.1 1394.3,433.3 1395.3,430.5 1396.3,427.6 1397.2,424.8 1398.2,421.9 1399.2,419.1 1400.2,416.2 1401.1,413.4 1402.1,410.5 1403,407.7 1404,404.8 1404.9,401.9 1405.9,399.1 1406.8,396.2 1407.7,393.4 1408.6,390.5 1409.6,387.6 1410.5,384.8 1411.4,381.9 1412.3,379 1413.2,376.1 1414,373.3 1414.9,370.4 1415.8,367.5 1416.7,364.6 1417.5,361.7 1418.4,358.8 1419.2,356 1420.1,353.1 1420.9,350.2 1421.7,347.3 1422.5,344.4 1423.4,341.5 1424.2,338.6 1425,335.7 1425.8,332.8 1426.6,329.9 1427.3,327 1428.1,324.1 1428.9,321.2 1429.7,318.2 1430.4,315.3 1431.2,312.4 1431.9,309.5 1432.7,306.6"/>
<polyline fill="none" stroke="#ff0000" stroke-width="13.8" stroke-linecap="round" stroke-linejoin="round" points="1279.2,695 1280.6,692.3 1282,689.7 1283.3,687 1284.7,684.3 1286.1,681.6 1287.4,678.9 1288.8,676.3 1290.2,673.6 1291.5,670.9 1292.9,668.2 1294.2,665.5 1295.6,662.8 1296.9,660.1 1298.2,657.4 1299.6,654.8 1300.9,652.1 1302.3,649.4 1303.6,646.7 1304.9,644 1306.2,641.2 1307.6,638.5 1308.9,635.8 1310.2,633.1 1311.5,630.4 1312.8,627.7 1314.1,625 1315.4,622.3 1316.7,619.5 1318,616.8 1319.3,614.1 1320.6,611.4 1321.8,608.7 1323.1,605.9 1324.4,603.2 1325.7,600.5 1326.9,597.7 1328.2,595 1329.5,592.3 1330.7,589.5 1332,586.8 1333.2,584 1334.5,581.3 1335.7,578.5 1337,575.8 1338.2,573 1339.4,570.3 1340.6,567.5 1341.9,564.8 1343.1,562 1344.3,559.3 1345.5,556.5 1346.7,553.8 1347.9,551 1349.1,548.2 1350.3,545.5 1351.5,542.7 1352.7,539.9 1353.9,537.1 1355,534.4 1356.2,531.6 1357.4,528.8 1358.5,526 1359.7,523.3 1360.8,520.5 1362,517.7 1363.1,514.9 1364.3,512.1 1365.4,509.3 1366.6,506.5 1367.7,503.7 1368.8,500.9 1369.9,498.1 1371,495.3 1372.1,492.5 1373.2,489.7 1374.3,486.9 1375.4,484.1 1376.5,481.3 1377.6,478.5 1378.7,475.7 1379.8,472.9 1380.8,470.1 1381.9,467.2 1383,464.4 1384,461.6 1385.1,458.8 1386.1,456 1387.1,453.1 1388.2,450.3 1389.2,447.5 1390.2,444.6 1391.2,441.8 1392.3,439 1393.3,436.1 1394.3,433.3 1395.3,430.5 1396.3,427.6 1397.2,424.8 1398.2,421.9 1399.2,419.1 1400.2,416.2 1401.1,413.4 1402.1,410.5 1403,407.7 1404,404.8 1404.9,401.9 1405.9,399.1 1406.8,396.2 1407.7,393.4 1408.6,390.5 1409.6,387.6 1410.5,384.8 1411.4,381.9 1412.3,379 1413.2,376.1 1414,373.3 1414.9,370.4 1415.8,367.5 1416.7,364.6 1417.5,361.7 1418.4,358.8 1419.2,356 1420.1,353.1 1420.9,350.2 1421.7,347.3 1422.5,344.4 1423.4,341.5 1424.2,338.6 1425,335.7 1425.8,332.8 1426.6,329.9 1427.3,327 1428.1,324.1 1428.9,321.2 1429.7,318.2 1430.4,315.3 1431.2,312.4 1431.9,309.5 1432.7,306.6"/>
<polyline fill="none" stroke="#ff0000" stroke-width="6" stroke-linecap="round" stroke-linejoin="round" points="1407,407.2 1419.4,407.2"/>
<path fill="#ff0000" d="M1413.7 407.2a5.8 5.8 0 1 0 11.5 0a5.8 5.8 0 1 0 -11.5 0z"/>
<polyline fill="none" stroke="#ff0000" stroke-width="6" stroke-linecap="round" stroke-linejoin="round" points="1418,366.7 1449.4,367 1464.1,366.7"/>
<path fill="#ff0000" d="M1443.7 367a5.8 5.8 0 1 0 11.5 0a5.8 5.8 0 1 0 -11.5 0zM1458.3 366.7a5.8 5.8 0 1 0 11.5 0a5.8 5.8 0 1 0 -11.5 0z"/>
<polyline fill="none" stroke="#ff0000" stroke-width="6" stroke-linecap="round" stroke-linejoin="round" points="1419.5,347.5 1549.5,346.5 1601.1,340.9 1430,341 1425,343"/>
<path fill="#ff0000" d="M1424.5 347.7a5.8 5.8 0 1 0 11.5 0a5.8 5.8 0 1 0 -11.5 0zM1442.2 347.7a5.8 5.8 0 1 0 11.5 0a5.8 5.8 0 1 0 -11.5 0zM1476 347.2a5.8 5.8 0 1 0 11.5 0a5.8 5.8 0 1 0 -11.5 0zM1497.7 347.4a5.8 5.8 0 1 0 11.5 0a5.8 5.8 0 1 0 -11.5 0zM1511.2 347a5.8 5.8 0 1 0 11.5 0a5.8 5.8 0 1 0 -11.5 0zM1543 346.5a5.8 5.8 0 1 0 11.5 0a5.8 5.8 0 1 0 -11.5 0zM1562.8 341.2a5.8 5.8 0 1 0 11.5 0a5.8 5.8 0 1 0 -11.5 0zM1576.2 341.2a5.8 5.8 0 1 0 11.5 0a5.8 5.8 0 1 0 -11.5 0zM1595.3 340.9a5.8 5.8 0 1 0 11.5 0a5.8 5.8 0 1 0 -11.5 0zM1454.2 341a5.8 5.8 0 1 0 11.5 0a5.8 5.8 0 1 0 -11.5 0zM1494.2 341a5.8 5.8 0 1 0 11.5 0a5.8 5.8 0 1 0 -11.5 0z"/>
<polyline fill="none" stroke="#ff0000" stroke-width="6" stroke-linecap="round" stroke-linejoin="round" points="1430.2,309.7 1517,309.7 1580.7,307 1633.6,305.5 1670,305.6 1730,305 1797,303.8"/>
<path fill="#ff0000" d="M1428.5 309.7a5.8 5.8 0 1 0 11.5 0a5.8 5.8 0 1 0 -11.5 0zM1451.5 309.7a5.8 5.8 0 1 0 11.5 0a5.8 5.8 0 1 0 -11.5 0zM1511.2 309.7a5.8 5.8 0 1 0 11.5 0a5.8 5.8 0 1 0 -11.5 0zM1575 307a5.8 5.8 0 1 0 11.5 0a5.8 5.8 0 1 0 -11.5 0zM1627.8 305.5a5.8 5.8 0 1 0 11.5 0a5.8 5.8 0 1 0 -11.5 0zM1664.5 305.6a5.8 5.8 0 1 0 11.5 0a5.8 5.8 0 1 0 -11.5 0zM1701.2 305.2a5.8 5.8 0 1 0 11.5 0a5.8 5.8 0 1 0 -11.5 0zM1736.2 304.8a5.8 5.8 0 1 0 11.5 0a5.8 5.8 0 1 0 -11.5 0zM1768.2 304.2a5.8 5.8 0 1 0 11.5 0a5.8 5.8 0 1 0 -11.5 0zM1782.2 303.9a5.8 5.8 0 1 0 11.5 0a5.8 5.8 0 1 0 -11.5 0zM1791.2 303.8a5.8 5.8 0 1 0 11.5 0a5.8 5.8 0 1 0 -11.5 0z"/>
<polyline fill="none" stroke="#ff0000" stroke-width="8" stroke-linecap="round" stroke-linejoin="round" points="1575.3,301.6 1640,299.5 1700,296 1753.6,292.9"/>
<path fill="#ff0000" d="M1569.5 301.6a5.8 5.8 0 1 0 11.5 0a5.8 5.8 0 1 0 -11.5 0zM1583.2 301.3a5.8 5.8 0 1 0 11.5 0a5.8 5.8 0 1 0 -11.5 0zM1594 301a5.8 5.8 0 1 0 11.5 0a5.8 5.8 0 1 0 -11.5 0zM1604.8 300.5a5.8 5.8 0 1 0 11.5 0a5.8 5.8 0 1 0 -11.5 0zM1615.7 300a5.8 5.8 0 1 0 11.5 0a5.8 5.8 0 1 0 -11.5 0zM1634.2 299.5a5.8 5.8 0 1 0 11.5 0a5.8 5.8 0 1 0 -11.5 0zM1649.2 298.5a5.8 5.8 0 1 0 11.5 0a5.8 5.8 0 1 0 -11.5 0zM1666.2 298a5.8 5.8 0 1 0 11.5 0a5.8 5.8 0 1 0 -11.5 0zM1684.2 296.5a5.8 5.8 0 1 0 11.5 0a5.8 5.8 0 1 0 -11.5 0zM1706.2 295a5.8 5.8 0 1 0 11.5 0a5.8 5.8 0 1 0 -11.5 0zM1725.2 293.8a5.8 5.8 0 1 0 11.5 0a5.8 5.8 0 1 0 -11.5 0zM1738.2 293.2a5.8 5.8 0 1 0 11.5 0a5.8 5.8 0 1 0 -11.5 0zM1747.8 292.9a5.8 5.8 0 1 0 11.5 0a5.8 5.8 0 1 0 -11.5 0z"/>
<polyline fill="none" stroke="#ff0000" stroke-width="7" stroke-linecap="round" stroke-linejoin="round" points="1600,296 1687,293 1700,292"/>
<polyline fill="none" stroke="#ff0000" stroke-width="7.5" stroke-linecap="round" stroke-linejoin="round" points="1434.3,286 1520,286.5 1625,287.5 1700,291 1753,293 1640,289.5 1540,291 1437,290.5"/>
<path fill="#ff0000" d="M1431.2 286a5.8 5.8 0 1 0 11.5 0a5.8 5.8 0 1 0 -11.5 0zM1438 289.5a5.8 5.8 0 1 0 11.5 0a5.8 5.8 0 1 0 -11.5 0zM1461 285.6a5.8 5.8 0 1 0 11.5 0a5.8 5.8 0 1 0 -11.5 0zM1474.7 290.5a5.8 5.8 0 1 0 11.5 0a5.8 5.8 0 1 0 -11.5 0zM1488.2 285.6a5.8 5.8 0 1 0 11.5 0a5.8 5.8 0 1 0 -11.5 0zM1515.2 286a5.8 5.8 0 1 0 11.5 0a5.8 5.8 0 1 0 -11.5 0zM1542.5 286.3a5.8 5.8 0 1 0 11.5 0a5.8 5.8 0 1 0 -11.5 0zM1569.2 286.8a5.8 5.8 0 1 0 11.5 0a5.8 5.8 0 1 0 -11.5 0zM1594.2 287.2a5.8 5.8 0 1 0 11.5 0a5.8 5.8 0 1 0 -11.5 0zM1619.2 288a5.8 5.8 0 1 0 11.5 0a5.8 5.8 0 1 0 -11.5 0zM1644.2 289.5a5.8 5.8 0 1 0 11.5 0a5.8 5.8 0 1 0 -11.5 0zM1669.2 290.5a5.8 5.8 0 1 0 11.5 0a5.8 5.8 0 1 0 -11.5 0zM1554.2 291a5.8 5.8 0 1 0 11.5 0a5.8 5.8 0 1 0 -11.5 0zM1504.2 291a5.8 5.8 0 1 0 11.5 0a5.8 5.8 0 1 0 -11.5 0z"/>
<polyline fill="none" stroke="#ff0000" stroke-width="6" stroke-linecap="round" stroke-linejoin="round" points="1439.7,268.5 1520,270.5 1600,271.5 1680,272.5 1757.7,273.3 1700,276 1660,277.5"/>
<polyline fill="none" stroke="#ff0000" stroke-width="5" stroke-linecap="round" stroke-linejoin="round" points="1447,272.5 1560,274 1660,277"/>
<path fill="#ff0000" d="M1435.2 268.5a5.8 5.8 0 1 0 11.5 0a5.8 5.8 0 1 0 -11.5 0zM1442 273a5.8 5.8 0 1 0 11.5 0a5.8 5.8 0 1 0 -11.5 0zM1464.2 269.5a5.8 5.8 0 1 0 11.5 0a5.8 5.8 0 1 0 -11.5 0zM1470.5 272.5a5.8 5.8 0 1 0 11.5 0a5.8 5.8 0 1 0 -11.5 0zM1634.2 272a5.8 5.8 0 1 0 11.5 0a5.8 5.8 0 1 0 -11.5 0zM1657.2 272.3a5.8 5.8 0 1 0 11.5 0a5.8 5.8 0 1 0 -11.5 0zM1680.2 272.6a5.8 5.8 0 1 0 11.5 0a5.8 5.8 0 1 0 -11.5 0zM1694.5 272.8a5.8 5.8 0 1 0 11.5 0a5.8 5.8 0 1 0 -11.5 0zM1707.8 273a5.8 5.8 0 1 0 11.5 0a5.8 5.8 0 1 0 -11.5 0zM1721.2 273.1a5.8 5.8 0 1 0 11.5 0a5.8 5.8 0 1 0 -11.5 0zM1736 273.2a5.8 5.8 0 1 0 11.5 0a5.8 5.8 0 1 0 -11.5 0zM1752 273.3a5.8 5.8 0 1 0 11.5 0a5.8 5.8 0 1 0 -11.5 0zM1675.2 277a5.8 5.8 0 1 0 11.5 0a5.8 5.8 0 1 0 -11.5 0zM1697.2 276a5.8 5.8 0 1 0 11.5 0a5.8 5.8 0 1 0 -11.5 0z"/>
<polyline fill="none" stroke="#ff0000" stroke-width="6" stroke-linecap="round" stroke-linejoin="round" points="1549.5,278.5 1563.1,267.7"/>
<path fill="#ff0000" d="M1557.3 268a5.8 5.8 0 1 0 11.5 0a5.8 5.8 0 1 0 -11.5 0z"/>
<polyline fill="none" stroke="#ff0000" stroke-width="6" stroke-linecap="round" stroke-linejoin="round" points="1443.7,263.6 1487.2,262 1533,260.5 1559,258.2 1588.9,259.5 1622.8,255.4 1658,251.8 1675.7,248.7 1720,248 1773.9,245.5"/>
<path fill="#ff0000" d="M1438 263.6a5.8 5.8 0 1 0 11.5 0a5.8 5.8 0 1 0 -11.5 0zM1454.2 263a5.8 5.8 0 1 0 11.5 0a5.8 5.8 0 1 0 -11.5 0zM1481.5 262a5.8 5.8 0 1 0 11.5 0a5.8 5.8 0 1 0 -11.5 0zM1503.8 261.2a5.8 5.8 0 1 0 11.5 0a5.8 5.8 0 1 0 -11.5 0zM1527.5 260.5a5.8 5.8 0 1 0 11.5 0a5.8 5.8 0 1 0 -11.5 0zM1553.2 258.2a5.8 5.8 0 1 0 11.5 0a5.8 5.8 0 1 0 -11.5 0zM1583.2 259.5a5.8 5.8 0 1 0 11.5 0a5.8 5.8 0 1 0 -11.5 0zM1594 259a5.8 5.8 0 1 0 11.5 0a5.8 5.8 0 1 0 -11.5 0zM1604.8 257.5a5.8 5.8 0 1 0 11.5 0a5.8 5.8 0 1 0 -11.5 0zM1617 255.4a5.8 5.8 0 1 0 11.5 0a5.8 5.8 0 1 0 -11.5 0zM1636 253.4a5.8 5.8 0 1 0 11.5 0a5.8 5.8 0 1 0 -11.5 0zM1652.2 251.8a5.8 5.8 0 1 0 11.5 0a5.8 5.8 0 1 0 -11.5 0zM1670 248.7a5.8 5.8 0 1 0 11.5 0a5.8 5.8 0 1 0 -11.5 0zM1684.2 248.5a5.8 5.8 0 1 0 11.5 0a5.8 5.8 0 1 0 -11.5 0zM1700.2 248.2a5.8 5.8 0 1 0 11.5 0a5.8 5.8 0 1 0 -11.5 0zM1716.2 247.8a5.8 5.8 0 1 0 11.5 0a5.8 5.8 0 1 0 -11.5 0zM1732.2 247.2a5.8 5.8 0 1 0 11.5 0a5.8 5.8 0 1 0 -11.5 0zM1750.2 246.3a5.8 5.8 0 1 0 11.5 0a5.8 5.8 0 1 0 -11.5 0zM1768.2 245.5a5.8 5.8 0 1 0 11.5 0a5.8 5.8 0 1 0 -11.5 0z"/>
<polyline fill="none" stroke="#ff0000" stroke-width="6" stroke-linecap="round" stroke-linejoin="round" points="1522.4,237.8 1560.4,233.7 1578,234.4 1597,243.2 1607.9,232.4 1660,229.9 1717,228.5 1763.1,226.5 1787.5,225.1 1816,224.4 1843.1,220.4 1867.5,217"/>
<path fill="#ff0000" d="M1516.7 237.8a5.8 5.8 0 1 0 11.5 0a5.8 5.8 0 1 0 -11.5 0zM1554.7 233.7a5.8 5.8 0 1 0 11.5 0a5.8 5.8 0 1 0 -11.5 0zM1572.2 234.4a5.8 5.8 0 1 0 11.5 0a5.8 5.8 0 1 0 -11.5 0zM1591.2 243.2a5.8 5.8 0 1 0 11.5 0a5.8 5.8 0 1 0 -11.5 0zM1602.2 232.4a5.8 5.8 0 1 0 11.5 0a5.8 5.8 0 1 0 -11.5 0zM1667.2 229.7a5.8 5.8 0 1 0 11.5 0a5.8 5.8 0 1 0 -11.5 0zM1684.2 229.2a5.8 5.8 0 1 0 11.5 0a5.8 5.8 0 1 0 -11.5 0zM1711.2 228.5a5.8 5.8 0 1 0 11.5 0a5.8 5.8 0 1 0 -11.5 0zM1733.5 227.5a5.8 5.8 0 1 0 11.5 0a5.8 5.8 0 1 0 -11.5 0zM1757.3 226.5a5.8 5.8 0 1 0 11.5 0a5.8 5.8 0 1 0 -11.5 0zM1781.8 225.1a5.8 5.8 0 1 0 11.5 0a5.8 5.8 0 1 0 -11.5 0zM1810.2 224.4a5.8 5.8 0 1 0 11.5 0a5.8 5.8 0 1 0 -11.5 0zM1819.2 223a5.8 5.8 0 1 0 11.5 0a5.8 5.8 0 1 0 -11.5 0zM1837.3 220.4a5.8 5.8 0 1 0 11.5 0a5.8 5.8 0 1 0 -11.5 0zM1849.2 218.5a5.8 5.8 0 1 0 11.5 0a5.8 5.8 0 1 0 -11.5 0zM1861.8 217a5.8 5.8 0 1 0 11.5 0a5.8 5.8 0 1 0 -11.5 0z"/>
<polygon fill="#ff0000" stroke="#ff0000" stroke-width="5" stroke-linejoin="round" points="1593,239 1612,229.5 1660,227 1711,232 1713,244 1640,246.5 1598,246"/>
<path fill="#ff0000" d="M1610.7 230.5a5.8 5.8 0 1 0 11.5 0a5.8 5.8 0 1 0 -11.5 0zM1621.4 229.3a5.8 5.8 0 1 0 11.5 0a5.8 5.8 0 1 0 -11.5 0zM1637.3 231.5a5.8 5.8 0 1 0 11.5 0a5.8 5.8 0 1 0 -11.5 0zM1647.1 230.6a5.8 5.8 0 1 0 11.5 0a5.8 5.8 0 1 0 -11.5 0zM1653.5 229.2a5.8 5.8 0 1 0 11.5 0a5.8 5.8 0 1 0 -11.5 0zM1664.4 228.7a5.8 5.8 0 1 0 11.5 0a5.8 5.8 0 1 0 -11.5 0zM1679.7 229.7a5.8 5.8 0 1 0 11.5 0a5.8 5.8 0 1 0 -11.5 0zM1691.6 229.7a5.8 5.8 0 1 0 11.5 0a5.8 5.8 0 1 0 -11.5 0zM1703.7 231a5.8 5.8 0 1 0 11.5 0a5.8 5.8 0 1 0 -11.5 0z"/>
<path fill="#ff0000" d="M1592.3 242.6a5.8 5.8 0 1 0 11.5 0a5.8 5.8 0 1 0 -11.5 0zM1614.1 243.4a5.8 5.8 0 1 0 11.5 0a5.8 5.8 0 1 0 -11.5 0zM1627.5 243.2a5.8 5.8 0 1 0 11.5 0a5.8 5.8 0 1 0 -11.5 0zM1631 243.9a5.8 5.8 0 1 0 11.5 0a5.8 5.8 0 1 0 -11.5 0zM1650.8 242.8a5.8 5.8 0 1 0 11.5 0a5.8 5.8 0 1 0 -11.5 0zM1656.5 243a5.8 5.8 0 1 0 11.5 0a5.8 5.8 0 1 0 -11.5 0zM1678 244.3a5.8 5.8 0 1 0 11.5 0a5.8 5.8 0 1 0 -11.5 0zM1682.1 242.7a5.8 5.8 0 1 0 11.5 0a5.8 5.8 0 1 0 -11.5 0zM1694.6 242.2a5.8 5.8 0 1 0 11.5 0a5.8 5.8 0 1 0 -11.5 0z"/>
<polyline fill="none" stroke="#ff0000" stroke-width="6" stroke-linecap="round" stroke-linejoin="round" points="1797,215.6 1800,215.4 1803,215.2 1806.1,215 1809.1,214.7 1812.1,214.5 1815.1,214.3 1818.1,214 1821.1,213.7 1824.1,213.5 1827.1,213.2 1830.1,212.9 1833.2,212.6 1836.2,212.3 1839.2,212 1842.2,211.7 1845.2,211.4 1848.2,211.1 1851.2,210.8 1854.2,210.4 1857.2,210.1 1860.2,209.8 1863.2,209.4 1866.2,209.1 1869.2,208.7 1872.2,208.4 1875.2,208 1878.2,207.6 1881.2,207.3 1884.2,206.9 1887.2,206.5 1890.2,206.1 1893.2,205.7 1896.2,205.4 1899.2,205 1902.2,204.6 1905.2,204.2 1908.2,203.8 1911.2,203.4 1914.2,203 1917.1,202.6 1920.1,202.2 1923.1,201.8 1926.1,201.4 1929.1,201 1932.1,200.5 1935.1,200.1 1938.1,199.7 1941.1,199.3 1944.1,198.9 1947.1,198.5 1950.1,198.1 1953.1,197.7 1956.1,197.3 1959.1,196.9 1962.1,196.5 1965.1,196.1 1968,195.7 1971,195.3 1974,194.9 1977,194.5 1980,194.1 1983,193.7 1986,193.3 1989,192.9 1992,192.5 1995,192.1 1998,191.7 2001,191.4 2004,191 2007,190.6 2010,190.3 2013,189.9 2016,189.6 2019,189.2"/>
<path fill="#ff0000" d="M1791.2 215.6a5.8 5.8 0 1 0 11.5 0a5.8 5.8 0 1 0 -11.5 0zM1798.7 215.1a5.8 5.8 0 1 0 11.5 0a5.8 5.8 0 1 0 -11.5 0zM1806.2 214.5a5.8 5.8 0 1 0 11.5 0a5.8 5.8 0 1 0 -11.5 0zM1813.7 213.9a5.8 5.8 0 1 0 11.5 0a5.8 5.8 0 1 0 -11.5 0zM1821.2 213.2a5.8 5.8 0 1 0 11.5 0a5.8 5.8 0 1 0 -11.5 0zM1828.6 212.5a5.8 5.8 0 1 0 11.5 0a5.8 5.8 0 1 0 -11.5 0zM1836.1 211.8a5.8 5.8 0 1 0 11.5 0a5.8 5.8 0 1 0 -11.5 0zM1843.5 211a5.8 5.8 0 1 0 11.5 0a5.8 5.8 0 1 0 -11.5 0zM1851 210.2a5.8 5.8 0 1 0 11.5 0a5.8 5.8 0 1 0 -11.5 0zM1858.4 209.3a5.8 5.8 0 1 0 11.5 0a5.8 5.8 0 1 0 -11.5 0zM1865.9 208.4a5.8 5.8 0 1 0 11.5 0a5.8 5.8 0 1 0 -11.5 0zM1873.3 207.5a5.8 5.8 0 1 0 11.5 0a5.8 5.8 0 1 0 -11.5 0zM1880.8 206.6a5.8 5.8 0 1 0 11.5 0a5.8 5.8 0 1 0 -11.5 0zM1890.2 205.4a5.8 5.8 0 1 0 11.5 0a5.8 5.8 0 1 0 -11.5 0zM1899.6 204.1a5.8 5.8 0 1 0 11.5 0a5.8 5.8 0 1 0 -11.5 0zM1909 202.9a5.8 5.8 0 1 0 11.5 0a5.8 5.8 0 1 0 -11.5 0zM1918.5 201.6a5.8 5.8 0 1 0 11.5 0a5.8 5.8 0 1 0 -11.5 0zM1927.9 200.3a5.8 5.8 0 1 0 11.5 0a5.8 5.8 0 1 0 -11.5 0zM1937.3 199.1a5.8 5.8 0 1 0 11.5 0a5.8 5.8 0 1 0 -11.5 0zM1946.7 197.8a5.8 5.8 0 1 0 11.5 0a5.8 5.8 0 1 0 -11.5 0zM1956.1 196.5a5.8 5.8 0 1 0 11.5 0a5.8 5.8 0 1 0 -11.5 0zM1965.5 195.2a5.8 5.8 0 1 0 11.5 0a5.8 5.8 0 1 0 -11.5 0zM1974.9 194a5.8 5.8 0 1 0 11.5 0a5.8 5.8 0 1 0 -11.5 0zM1984.4 192.7a5.8 5.8 0 1 0 11.5 0a5.8 5.8 0 1 0 -11.5 0zM1993.8 191.6a5.8 5.8 0 1 0 11.5 0a5.8 5.8 0 1 0 -11.5 0zM2003.2 190.4a5.8 5.8 0 1 0 11.5 0a5.8 5.8 0 1 0 -11.5 0zM2012.6 189.3a5.8 5.8 0 1 0 11.5 0a5.8 5.8 0 1 0 -11.5 0zM2013.2 189.2a5.8 5.8 0 1 0 11.5 0a5.8 5.8 0 1 0 -11.5 0z"/>
<polygon fill="#ff0000" stroke="#ff0000" stroke-width="3" stroke-linejoin="round" points="1812,222 1830,211 1868,208 1872,216 1850,224"/>
<polyline fill="none" stroke="#2035dc" stroke-width="6" stroke-linecap="round" stroke-linejoin="round" points="551,1032.8 554,1032.8 557,1032.8 560,1032.8 563,1032.8 566,1032.8 569,1032.8 572,1032.8 575,1032.9 578,1032.9 581,1032.9 584,1032.9 587,1032.9 590,1032.9 593,1032.9 596,1032.9 599,1032.9 602,1032.9 605,1032.9 608,1032.9 611,1032.9 614,1032.9 617,1033 620,1033 623,1033 626,1033 629,1033 632,1033 635,1033 638,1033 641,1033.1 643.9,1033.2 646.9,1033.3 649.9,1033.3 652.9,1033.4 655.9,1033.5 658.9,1033.5 661.8,1033.6 664.8,1033.7 667.8,1033.7 670.8,1033.7 673.8,1033.8 676.8,1033.8 679.8,1033.9 682.8,1033.9 685.8,1033.9 688.8,1033.9 691.8,1034 694.8,1034 697.8,1034 700.8,1034 703.8,1034 706.8,1034 709.8,1034.1 712.8,1034.1 715.8,1034.1 718.8,1034.1 721.8,1034.1 724.8,1034.1 727.8,1034.1 730.8,1034.1 733.8,1034.1 736.8,1034.1 739.8,1034 742.8,1034 745.8,1034 748.8,1034 751.9,1034 754.9,1034 757.9,1034 760.9,1034 763.9,1034 766.9,1034 769.9,1033.9 772.9,1033.9 776,1033.9 779,1033.9 782,1033.9 785,1033.9 788,1033.9 791,1033.9 794,1033.9 797.1,1033.9 800.1,1033.9 803.1,1033.9 806.1,1033.9 809.1,1033.9 812.1,1033.9 815.2,1033.9 818.2,1033.9 821.2,1033.9 824.2,1033.9 827.2,1033.9 830.2,1033.9 833.3,1034 836.3,1034 839.3,1034 842.3,1034 845.3,1034.1 848.3,1034.1 851.3,1034.1 854.4,1034.2 857.4,1034.2 860.4,1034.3 863.4,1034.3 866.4,1034.4 869.4,1034.4 872.5,1034.5 875.5,1034.6 878.5,1034.6 881.5,1034.7 884.5,1034.8 887.5,1034.9 890.5,1035 893.5,1035.1 896.5,1035.2 899.6,1035.3 902.6,1035.4 905.6,1035.5 908.6,1035.6 911.6,1035.8 914.6,1035.9 917.6,1036 920.6,1036.2 923.6,1036.3 926.6,1036.5 929.6,1036.6 932.6,1036.8 935.6,1037 938.6,1037.2 941.6,1037.3 944.6,1037.5 947.6,1037.7 950.6,1038 953.6,1038.2 956.6,1038.4 959.6,1038.6 962.6,1038.9 965.6,1039.1 968.6,1039.4 971.6,1039.6 974.6,1039.9 977.6,1040.2 980.6,1040.5 983.6,1040.8 986.5,1041.1 989.5,1041.4 992.5,1041.7 995.5,1042 998.5,1042.4 1001.5,1042.7 1004.4,1043.1 1007.4,1043.4 1010.4,1043.8 1013.4,1044.2 1016.3,1044.6 1019.3,1045 1022.3,1045.4 1025.2,1045.8 1028.2,1046.2 1031.2,1046.7 1034.1,1047.1 1037.1,1047.6 1040.1,1048 1043,1048.5 1046,1049 1049,1049.5 1051.9,1050 1054.9,1050.5 1057.8,1051 1060.8,1051.6 1063.7,1052.1 1066.7,1052.6 1069.6,1053.2 1072.6,1053.8 1075.5,1054.3 1078.4,1054.9 1081.4,1055.5 1084.3,1056.1 1087.2,1056.7 1090.2,1057.3 1093.1,1057.9 1096,1058.6 1099,1059.2 1101.9,1059.9 1104.8,1060.5 1107.7,1061.2 1110.6,1061.9 1113.6,1062.6 1116.5,1063.3 1119.4,1064 1122.3,1064.7 1125.2,1065.4 1128.1,1066.2 1131,1066.9 1133.9,1067.6 1136.8,1068.4 1139.7,1069.2 1142.6,1069.9 1145.5,1070.7 1148.4,1071.5 1151.3,1072.3 1154.1,1073.1 1157,1074 1159.9,1074.8 1162.8,1075.6 1165.7,1076.5 1168.5,1077.3 1171.4,1078.2 1174.3,1079.1 1177.1,1079.9 1180,1080.8 1182.8,1081.7 1185.7,1082.6 1188.5,1083.6 1191.4,1084.5 1194.2,1085.4 1197.1,1086.4 1199.9,1087.3 1202.8,1088.3 1205.6,1089.2 1208.4,1090.2 1211.3,1091.2 1214.1,1092.2 1216.9,1093.2 1219.7,1094.2 1222.5,1095.2 1225.4,1096.3 1228.2,1097.3 1231,1098.3 1233.8,1099.4 1236.6,1100.4 1239.4,1101.5 1242.2,1102.6 1245,1103.7 1247.7,1104.8 1250.5,1105.9 1253.3,1107 1256.1,1108.1 1258.9,1109.3 1261.6,1110.4 1264.4,1111.5 1267.2,1112.7 1269.9,1113.9 1272.7,1115 1275.4,1116.2 1278.2,1117.4 1280.9,1118.6 1283.7,1119.8 1286.4,1121 1289.2,1122.2 1291.9,1123.5 1294.6,1124.7 1297.4,1125.9 1300.1,1127.2 1302.8,1128.4 1305.5,1129.7 1308.3,1131 1311,1132.2 1313.7,1133.5 1316.4,1134.8 1319.1,1136.1 1321.8,1137.4 1324.5,1138.7 1327.2,1140 1329.9,1141.3 1332.6,1142.6 1335.3,1144 1338,1145.3 1340.7,1146.6 1343.4,1148 1346.1,1149.3 1348.8,1150.7 1351.5,1152 1354.2,1153.4 1356.8,1154.7 1359.5,1156.1 1362.2,1157.5 1364.9,1158.8 1367.5,1160.2 1370.2,1161.6 1372.9,1163 1375.6,1164.4 1378.2,1165.8 1380.9,1167.1 1383.6,1168.5 1386.2,1169.9 1388.9,1171.4 1391.6,1172.8 1394.2,1174.2 1396.9,1175.6 1399.5,1177 1402.2,1178.4 1404.9,1179.8 1407.5,1181.2 1410.2,1182.7 1412.8,1184.1 1415.5,1185.5 1418.2,1186.9 1420.8,1188.4 1423.5,1189.8 1426.1,1191.2 1428.8,1192.7 1431.4,1194.1 1434.1,1195.5 1436.7,1196.9 1439.4,1198.4 1442,1199.8 1444.7,1201.2 1447.3,1202.7 1450,1204.1 1452.6,1205.5 1455.3,1207 1458,1208.4 1460.6,1209.8 1463.3,1211.3 1465.9,1212.7 1468.6,1214.1 1471.2,1215.6 1473.9,1217 1476.5,1218.4 1479.2,1219.8 1481.9,1221.2 1484.5,1222.7 1487.2,1224.1 1489.8,1225.5 1492.5,1226.9 1495.2,1228.3 1497.8,1229.7 1500.5,1231.1 1503.2,1232.5 1505.8,1233.9 1508.5,1235.3 1511.2,1236.7 1513.9,1238.1 1516.5,1239.4 1519.2,1240.8 1521.9,1242.2 1524.6,1243.5 1527.2,1244.9 1529.9,1246.3 1532.6,1247.6 1535.3,1249 1538,1250.3 1540.7,1251.6 1543.4,1253 1546.1,1254.3 1548.8,1255.6 1551.5,1256.9 1554.2,1258.2 1556.9,1259.5 1559.6,1260.8 1562.3,1262 1565,1263.3 1567.8,1264.6 1570.5,1265.8 1573.2,1267 1576,1268.3 1578.7,1269.5 1581.4,1270.7 1584.2,1271.9 1586.9,1273.1 1589.7,1274.2 1592.4,1275.4 1595.2,1276.5 1598,1277.6 1600.7,1278.7 1603.5,1279.8 1606.3,1280.9 1609.1,1282 1611.8,1283 1614.6,1284.1 1617.4,1285.1 1620.2,1286.1 1623,1287.1 1625.9,1288.1 1628.7,1289 1631.5,1289.9 1634.3,1290.9 1637.2,1291.8 1640,1292.6 1642.9,1293.5 1645.7,1294.3 1648.6,1295.2 1651.4,1296 1654.3,1296.7 1657.2,1297.5 1660.1,1298.2 1663,1298.9 1665.9,1299.6 1668.8,1300.3 1671.7,1300.9 1674.6,1301.6 1677.5,1302.2 1680.4,1302.7 1683.4,1303.3 1686.3,1303.8 1689.3,1304.3 1692.3,1304.8 1695.2,1305.2 1698.2,1305.7 1701.2,1306.1 1704.2,1306.4 1707.2,1306.8 1710.2,1307.1 1713.2,1307.4 1716.2,1307.6 1719.3,1307.9 1722.3,1308.1 1725.4,1308.2 1728.4,1308.4 1731.5,1308.5"/>
<path fill="#2035dc" d="M551 1024.9l7.2 11.8h-14.5zM689.8 1026.1l7.2 11.8h-14.5zM759.9 1026.1l7.2 11.8h-14.5zM800.1 1026l7.2 11.8h-14.5zM835.3 1026.1l7.2 11.8h-14.5zM865.4 1026.5l7.2 11.8h-14.5zM889.5 1027.1l7.2 11.8h-14.5zM911.6 1027.9l7.2 11.8h-14.5zM931.6 1028.9l7.2 11.8h-14.5zM949.6 1030l7.2 11.8h-14.5zM965.6 1031.2l7.2 11.8h-14.5zM979.6 1032.5l7.2 11.8h-14.5zM991.5 1033.7l7.2 11.8h-14.5zM1000.5 1034.7l7.2 11.8h-14.5zM1009.4 1035.8l7.2 11.8h-14.5zM1017.7 1036.9l7.2 11.8h-14.5zM1025.6 1038l7.2 11.8h-14.5zM1033 1039.1l7.2 11.8h-14.5zM1039.9 1040.2l7.2 11.8h-14.5zM1046.4 1041.2l7.2 11.8h-14.5zM1052.6 1042.2l7.2 11.8h-14.5zM1058.3 1043.2l7.2 11.8h-14.5zM1063.7 1044.2l7.2 11.8h-14.5zM1068.8 1045.2l7.2 11.8h-14.5zM1073.6 1046.1l7.2 11.8h-14.5z"/>
<path fill="#2035dc" d="M1075.5 1045.7l8 13h-16zM1079.9 1046.5l8 13h-16zM1084 1047.4l8 13h-16zM1087.9 1048.2l8 13h-16zM1091.5 1049l8 13h-16zM1095 1049.7l8 13h-16zM1098.2 1050.4l8 13h-16zM1101.2 1051.1l8 13h-16zM1104.1 1051.7l8 13h-16zM1107.1 1052.4l8 13h-16zM1110 1053.1l8 13h-16zM1112.9 1053.8l8 13h-16zM1115.8 1054.5l8 13h-16zM1118.7 1055.2l8 13h-16zM1121.7 1055.9l8 13h-16zM1124.6 1056.6l8 13h-16zM1127.5 1057.3l8 13h-16zM1130.4 1058.1l8 13h-16zM1133.3 1058.8l8 13h-16zM1136.2 1059.6l8 13h-16zM1139.1 1060.4l8 13h-16zM1142 1061.1l8 13h-16zM1144.9 1061.9l8 13h-16zM1147.8 1062.7l8 13h-16zM1150.7 1063.5l8 13h-16zM1153.6 1064.3l8 13h-16zM1156.4 1065.1l8 13h-16zM1159.3 1066l8 13h-16zM1162.2 1066.8l8 13h-16zM1165.1 1067.6l8 13h-16zM1168 1068.5l8 13h-16zM1170.8 1069.4l8 13h-16zM1173.7 1070.2l8 13h-16zM1176.6 1071.1l8 13h-16zM1179.4 1072l8 13h-16zM1182.3 1072.9l8 13h-16zM1185.2 1073.8l8 13h-16zM1188 1074.7l8 13h-16zM1190.9 1075.7l8 13h-16zM1193.7 1076.6l8 13h-16zM1196.6 1077.5l8 13h-16zM1199.4 1078.5l8 13h-16zM1202.3 1079.4l8 13h-16zM1205.1 1080.4l8 13h-16zM1207.9 1081.4l8 13h-16zM1210.8 1082.4l8 13h-16zM1213.6 1083.4l8 13h-16zM1216.4 1084.4l8 13h-16zM1219.3 1085.4l8 13h-16zM1222.1 1086.4l8 13h-16zM1224.9 1087.4l8 13h-16zM1227.7 1088.5l8 13h-16zM1230.5 1089.5l8 13h-16zM1233.3 1090.6l8 13h-16zM1236.1 1091.6l8 13h-16zM1238.9 1092.7l8 13h-16zM1241.7 1093.8l8 13h-16zM1244.5 1094.9l8 13h-16zM1247.3 1096l8 13h-16zM1250.1 1097.1l8 13h-16zM1252.9 1098.2l8 13h-16zM1255.7 1099.3l8 13h-16zM1258.5 1100.4l8 13h-16zM1261.2 1101.6l8 13h-16zM1264 1102.7l8 13h-16zM1266.8 1103.9l8 13h-16zM1269.5 1105l8 13h-16zM1272.3 1106.2l8 13h-16zM1275.1 1107.4l8 13h-16zM1277.8 1108.6l8 13h-16zM1280.6 1109.8l8 13h-16zM1283.3 1111l8 13h-16zM1286.1 1112.2l8 13h-16zM1288.8 1113.4l8 13h-16zM1291.5 1114.6l8 13h-16zM1294.3 1115.9l8 13h-16zM1297 1117.1l8 13h-16zM1299.7 1118.4l8 13h-16zM1302.5 1119.6l8 13h-16zM1305.2 1120.9l8 13h-16zM1307.9 1122.1l8 13h-16zM1310.6 1123.4l8 13h-16zM1313.3 1124.7l8 13h-16zM1316 1126l8 13h-16zM1318.7 1127.3l8 13h-16zM1321.5 1128.6l8 13h-16zM1324.2 1129.9l8 13h-16zM1326.9 1131.2l8 13h-16zM1329.6 1132.5l8 13h-16zM1332.3 1133.8l8 13h-16zM1334.9 1135.1l8 13h-16zM1337.6 1136.4l8 13h-16zM1340.3 1137.8l8 13h-16zM1343 1139.1l8 13h-16zM1345.7 1140.4l8 13h-16zM1348.4 1141.8l8 13h-16zM1351.1 1143.1l8 13h-16zM1353.7 1144.5l8 13h-16zM1356.4 1145.9l8 13h-16zM1359.1 1147.2l8 13h-16zM1361.8 1148.6l8 13h-16zM1364.4 1150l8 13h-16zM1367.1 1151.3l8 13h-16zM1369.8 1152.7l8 13h-16zM1372.4 1154.1l8 13h-16zM1375.1 1155.5l8 13h-16zM1377.7 1156.8l8 13h-16zM1380.4 1158.2l8 13h-16zM1383.1 1159.6l8 13h-16zM1385.7 1161l8 13h-16zM1388.4 1162.4l8 13h-16zM1391 1163.8l8 13h-16zM1393.7 1165.2l8 13h-16zM1396.3 1166.6l8 13h-16zM1399 1168l8 13h-16zM1401.6 1169.4l8 13h-16zM1404.3 1170.9l8 13h-16zM1406.9 1172.3l8 13h-16zM1409.6 1173.7l8 13h-16zM1412.2 1175.1l8 13h-16zM1414.9 1176.5l8 13h-16zM1417.5 1177.9l8 13h-16zM1420.1 1179.4l8 13h-16zM1422.8 1180.8l8 13h-16zM1425.4 1182.2l8 13h-16zM1428.1 1183.6l8 13h-16zM1430.7 1185l8 13h-16zM1433.3 1186.5l8 13h-16zM1436 1187.9l8 13h-16zM1438.6 1189.3l8 13h-16zM1441.3 1190.7l8 13h-16zM1443.9 1192.2l8 13h-16zM1446.5 1193.6l8 13h-16zM1449.2 1195l8 13h-16zM1451.8 1196.4l8 13h-16zM1454.5 1197.9l8 13h-16zM1457.1 1199.3l8 13h-16zM1459.7 1200.7l8 13h-16zM1462.4 1202.1l8 13h-16zM1465 1203.6l8 13h-16zM1467.7 1205l8 13h-16zM1470.3 1206.4l8 13h-16zM1473 1207.8l8 13h-16zM1475.6 1209.2l8 13h-16zM1478.2 1210.7l8 13h-16zM1480.9 1212.1l8 13h-16zM1483.5 1213.5l8 13h-16zM1486.2 1214.9l8 13h-16zM1488.8 1216.3l8 13h-16zM1491.5 1217.7l8 13h-16zM1494.1 1219.1l8 13h-16zM1496.8 1220.5l8 13h-16zM1499.5 1221.9l8 13h-16zM1502.1 1223.3l8 13h-16zM1504.8 1224.7l8 13h-16zM1507.4 1226.1l8 13h-16zM1510.1 1227.4l8 13h-16zM1512.8 1228.8l8 13h-16zM1515.4 1230.2l8 13h-16zM1518.1 1231.6l8 13h-16zM1520.8 1232.9l8 13h-16zM1523.4 1234.3l8 13h-16zM1526.1 1235.7l8 13h-16zM1528.8 1237l8 13h-16zM1531.5 1238.4l8 13h-16zM1534.1 1239.7l8 13h-16zM1536.8 1241.1l8 13h-16zM1539.5 1242.4l8 13h-16zM1542.2 1243.7l8 13h-16zM1544.9 1245l8 13h-16zM1547.6 1246.4l8 13h-16zM1550.3 1247.7l8 13h-16zM1553 1249l8 13h-16zM1555.7 1250.3l8 13h-16zM1558.4 1251.6l8 13h-16zM1561.1 1252.8l8 13h-16zM1563.8 1254.1l8 13h-16zM1566.6 1255.4l8 13h-16zM1569.3 1256.6l8 13h-16zM1572 1257.8l8 13h-16zM1574.8 1259.1l8 13h-16zM1577.5 1260.3l8 13h-16zM1580.2 1261.5l8 13h-16zM1583 1262.7l8 13h-16zM1585.7 1263.9l8 13h-16zM1588.5 1265.1l8 13h-16zM1591.3 1266.2l8 13h-16zM1594 1267.4l8 13h-16zM1596.8 1268.5l8 13h-16zM1599.6 1269.6l8 13h-16zM1602.4 1270.8l8 13h-16zM1605.2 1271.8l8 13h-16zM1608 1272.9l8 13h-16zM1610.8 1274l8 13h-16zM1613.6 1275l8 13h-16zM1616.4 1276.1l8 13h-16zM1619.2 1277.1l8 13h-16zM1622.1 1278.1l8 13h-16zM1624.9 1279.1l8 13h-16zM1627.7 1280l8 13h-16zM1630.6 1281l8 13h-16zM1633.4 1281.9l8 13h-16zM1636.3 1282.8l8 13h-16zM1639.2 1283.7l8 13h-16zM1642 1284.6l8 13h-16zM1644.9 1285.5l8 13h-16zM1648 1286.3l8 13h-16zM1651.2 1287.2l8 13h-16zM1654.7 1288.2l8 13h-16zM1658.3 1289.1l8 13h-16zM1662.1 1290.1l8 13h-16zM1666.1 1291l8 13h-16zM1670.4 1292l8 13h-16zM1674.9 1293l8 13h-16zM1679.6 1293.9l8 13h-16zM1684.7 1294.9l8 13h-16zM1690 1295.8l8 13h-16zM1695.6 1296.7l8 13h-16zM1701.6 1297.5l8 13h-16zM1707.8 1298.2l8 13h-16zM1714.5 1298.8l8 13h-16zM1721.5 1299.4l8 13h-16zM1729 1299.8l8 13h-16z"/>
<path fill="#2035dc" d="M1731.5 1299.8l8 13h-16z"/>
<polyline fill="none" stroke="#2035dc" stroke-width="6" stroke-linecap="round" stroke-linejoin="round" points="551,1032.8 554,1032.8 557,1032.8 560,1032.8 563,1032.8 566.1,1032.8 569.1,1032.8 572.1,1032.8 575.1,1032.7 578.1,1032.7 581.1,1032.7 584.1,1032.7 587.1,1032.7 590.1,1032.7 593.1,1032.7 596.2,1032.7 599.2,1032.7 602.2,1032.7 605.2,1032.7 608.2,1032.7 611.2,1032.7 614.2,1032.7 617.2,1032.6 620.2,1032.6 623.3,1032.6 626.3,1032.6 629.3,1032.6 632.3,1032.6 635.3,1032.6 638.3,1032.6 641.3,1032.6 644.3,1032.6 647.4,1032.6 650.4,1032.6 653.4,1032.7 656.4,1032.7 659.4,1032.7 662.4,1032.7 665.4,1032.7 668.4,1032.7 671.5,1032.7 674.5,1032.7 677.5,1032.7 680.5,1032.7 683.5,1032.7 686.5,1032.7 689.5,1032.7 692.5,1032.7 695.5,1032.7 698.5,1032.7 701.5,1032.7 704.5,1032.7 707.5,1032.7 710.5,1032.7 713.5,1032.7 716.5,1032.7 719.6,1032.7 722.6,1032.7 725.6,1032.7 728.6,1032.6 731.6,1032.6 734.6,1032.6 737.6,1032.6 740.6,1032.6 743.6,1032.5 746.6,1032.5 749.6,1032.5 752.5,1032.4 755.5,1032.4 758.5,1032.4 761.5,1032.3 764.5,1032.3 767.5,1032.3 770.5,1032.2 773.5,1032.2 776.5,1032.1 779.5,1032.1 782.5,1032 785.5,1031.9 788.5,1031.9 791.5,1031.8 794.5,1031.7 797.5,1031.7 800.5,1031.6 803.5,1031.5 806.5,1031.4 809.5,1031.3 812.5,1031.2 815.4,1031.2 818.4,1031.1 821.4,1031 824.4,1030.9 827.4,1030.7 830.4,1030.6 833.4,1030.5 836.4,1030.4 839.4,1030.3 842.4,1030.1 845.4,1030 848.4,1029.9 851.4,1029.7 854.4,1029.6 857.3,1029.4 860.3,1029.3 863.3,1029.1 866.3,1029 869.3,1028.8 872.3,1028.6 875.3,1028.4 878.3,1028.3 881.3,1028.1 884.3,1027.9 887.3,1027.7 890.3,1027.5 893.3,1027.3 896.3,1027.1 899.3,1026.8 902.2,1026.6 905.2,1026.4 908.2,1026.2 911.2,1025.9 914.2,1025.7 917.2,1025.4 920.2,1025.2 923.2,1024.9 926.2,1024.6 929.2,1024.3 932.2,1024.1 935.2,1023.8 938.2,1023.5 941.2,1023.2 944.2,1022.9 947.2,1022.6 950.2,1022.3 953.2,1021.9 956.2,1021.6 959.2,1021.3 962.2,1020.9 965.2,1020.6 968.2,1020.2 971.2,1019.8 974.2,1019.4 977.1,1019 980.1,1018.6 983.1,1018.2 986.1,1017.8 989.1,1017.4 992.1,1016.9 995.1,1016.4 998,1016 1001,1015.5 1004,1015 1006.9,1014.5 1009.9,1013.9 1012.9,1013.4 1015.8,1012.8 1018.8,1012.3 1021.7,1011.7 1024.7,1011 1027.6,1010.4 1030.5,1009.8 1033.5,1009.1 1036.4,1008.4 1039.3,1007.7 1042.2,1007 1045.1,1006.3 1048,1005.5 1050.9,1004.7 1053.8,1003.9 1056.7,1003.1 1059.6,1002.3 1062.4,1001.4 1065.3,1000.5 1068.1,999.6 1071,998.6 1073.8,997.7 1076.6,996.7 1079.4,995.7 1082.2,994.7 1085,993.6 1087.8,992.5 1090.6,991.4 1093.4,990.2 1096.1,989.1 1098.9,987.9 1101.6,986.7 1104.4,985.4 1107.1,984.1 1109.8,982.8 1112.5,981.5 1115.2,980.1 1117.8,978.7 1120.5,977.3 1123.1,975.8 1125.7,974.3 1128.3,972.8 1130.9,971.3 1133.4,969.7 1136,968.1 1138.5,966.5 1141,964.8 1143.4,963.1 1145.9,961.4 1148.3,959.6 1150.7,957.8 1153.1,956 1155.4,954.2 1157.7,952.3 1160,950.4 1162.2,948.4 1164.5,946.5 1166.6,944.5 1168.8,942.4 1170.9,940.4 1173,938.3 1175.1,936.2 1177.1,934 1179.1,931.8 1181.1,929.6 1183.1,927.4 1185,925.2 1186.9,922.9 1188.8,920.6 1190.7,918.3 1192.5,915.9 1194.3,913.6 1196.1,911.2 1197.9,908.8 1199.6,906.3 1201.4,903.9 1203.1,901.5 1204.8,899 1206.5,896.5 1208.2,894 1209.8,891.5 1211.5,889 1213.1,886.4 1214.7,883.9 1216.4,881.3 1218,878.8 1219.5,876.2 1221.1,873.6 1222.7,871 1224.3,868.5 1225.8,865.9 1227.4,863.3 1229,860.7 1230.5,858 1232.1,855.4 1233.6,852.8 1235.1,850.2 1236.7,847.6 1238.2,845 1239.8,842.4 1241.3,839.8 1242.9,837.2 1244.4,834.6 1246,832 1247.5,829.4 1249.1,826.8 1250.6,824.3 1252.2,821.7 1253.8,819.1 1255.3,816.5 1256.9,814 1258.5,811.4 1260,808.8 1261.6,806.3 1263.1,803.7 1264.7,801.1 1266.3,798.6 1267.8,796 1269.4,793.5 1270.9,790.9 1272.5,788.3 1274,785.8 1275.5,783.2 1277.1,780.6 1278.6,778.1 1280.1,775.5 1281.7,772.9 1283.2,770.4 1284.7,767.8 1286.2,765.2 1287.7,762.6 1289.2,760.1 1290.7,757.5 1292.1,754.9 1293.6,752.3 1295.1,749.7 1296.5,747.1 1297.9,744.5 1299.4,741.8 1300.8,739.2 1302.2,736.6 1303.6,734 1305,731.3 1306.4,728.7 1307.7,726 1309.1,723.4 1310.4,720.7 1311.8,718 1313.1,715.4 1314.4,712.7 1315.7,710 1317,707.3 1318.2,704.5 1319.5,701.8 1320.7,699.1 1322,696.4 1323.2,693.6 1324.4,690.8 1325.5,688.1 1326.7,685.3 1327.9,682.5 1329,679.8 1330.2,677 1331.3,674.2 1332.4,671.4 1333.5,668.6 1334.6,665.8 1335.7,663 1336.8,660.1 1337.8,657.3 1338.9,654.5 1339.9,651.6 1341,648.8 1342,646 1343,643.1 1344,640.3 1345,637.4 1346,634.6 1347,631.7 1348,628.9 1348.9,626 1349.9,623.2 1350.9,620.3 1351.8,617.5 1352.8,614.6 1353.7,611.7 1354.6,608.9 1355.5,606 1356.5,603.2 1357.4,600.3 1358.3,597.4 1359.2,594.6 1360.1,591.7 1361,588.9 1361.8,586 1362.7,583.1 1363.6,580.3 1364.4,577.4 1365.3,574.6 1366.1,571.7 1366.9,568.8 1367.7,565.9 1368.5,563.1 1369.3,560.2 1370,557.3 1370.8,554.4 1371.5,551.5 1372.2,548.6 1372.9,545.7 1373.6,542.8 1374.2,539.9 1374.8,536.9 1375.5,534 1376,531 1376.6,528.1 1377.1,525.1 1377.6,522.1 1378.1,519.2 1378.6,516.2 1379,513.1 1379.4,510.1 1379.8,507.1 1380.1,504.1 1380.4,501 1380.7,497.9 1381,494.9 1381.2,491.8 1381.5,488.7 1381.7,485.6 1382,482.6 1382.2,479.5 1382.5,476.5 1382.7,473.4 1383,470.4 1383.4,467.4 1383.8,464.4 1384.2,461.5 1384.6,458.6 1385.1,455.7 1385.7,452.8 1386.4,450 1387.1,447.2 1387.9,444.5 1388.7,441.8 1389.7,439.2 1390.7,436.6 1391.9,434.1 1393.1,431.7 1394.5,429.3 1396,427 1397.6,424.7 1399.3,422.5 1401.2,420.4 1403.2,418.4 1405.4,416.5 1407.7,414.6"/>
<path fill="#2035dc" d="M637.3 1024.7l7.2 11.8h-14.5zM740.6 1024.7l7.2 11.8h-14.5zM789.5 1024l7.2 11.8h-14.5zM828.4 1022.8l7.2 11.8h-14.5zM860.3 1021.4l7.2 11.8h-14.5zM888.3 1019.7l7.2 11.8h-14.5zM912.2 1018l7.2 11.8h-14.5zM934.2 1016l7.2 11.8h-14.5zM952.2 1014.2l7.2 11.8h-14.5zM968.2 1012.3l7.2 11.8h-14.5zM982.1 1010.5l7.2 11.8h-14.5zM993.1 1008.9l7.2 11.8h-14.5zM1000 1007.8l7.2 11.8h-14.5zM1008.9 1006.3l7.2 11.8h-14.5zM1017.2 1004.7l7.2 11.8h-14.5zM1025 1003.1l7.2 11.8h-14.5zM1032.3 1001.5l7.2 11.8h-14.5zM1039.2 999.9l7.2 11.8h-14.5zM1045.7 998.3l7.2 11.8h-14.5zM1051.7 996.6l7.2 11.8h-14.5zM1057.4 995l7.2 11.8h-14.5zM1062.7 993.4l7.2 11.8h-14.5zM1067.7 991.9l7.2 11.8h-14.5zM1072.4 990.3l7.2 11.8h-14.5z"/>
<path fill="#2035dc" d="M1075.7 987.6l8.7 14.2h-17.4zM1079.9 986.1l8.7 14.2h-17.4zM1083.8 984.6l8.7 14.2h-17.4zM1087.5 983.2l8.7 14.2h-17.4zM1091 981.8l8.7 14.2h-17.4zM1094.3 980.4l8.7 14.2h-17.4zM1097.3 979.1l8.7 14.2h-17.4zM1100.2 977.8l8.7 14.2h-17.4zM1103 976.6l8.7 14.2h-17.4zM1105.7 975.3l8.7 14.2h-17.4zM1108.4 974l8.7 14.2h-17.4zM1111.1 972.7l8.7 14.2h-17.4zM1113.8 971.4l8.7 14.2h-17.4zM1116.4 970l8.7 14.2h-17.4zM1119.1 968.6l8.7 14.2h-17.4zM1121.7 967.2l8.7 14.2h-17.4zM1124.3 965.7l8.7 14.2h-17.4zM1126.9 964.2l8.7 14.2h-17.4zM1129.5 962.7l8.7 14.2h-17.4zM1132.1 961.1l8.7 14.2h-17.4zM1134.6 959.5l8.7 14.2h-17.4zM1137.2 957.9l8.7 14.2h-17.4zM1139.7 956.2l8.7 14.2h-17.4zM1142.1 954.6l8.7 14.2h-17.4zM1144.6 952.9l8.7 14.2h-17.4zM1147 951.1l8.7 14.2h-17.4zM1149.5 949.3l8.7 14.2h-17.4zM1151.9 947.5l8.7 14.2h-17.4zM1154.2 945.7l8.7 14.2h-17.4zM1156.6 943.8l8.7 14.2h-17.4zM1158.9 941.9l8.7 14.2h-17.4zM1161.2 939.9l8.7 14.2h-17.4zM1163.4 938l8.7 14.2h-17.4zM1165.6 936l8.7 14.2h-17.4zM1167.8 933.9l8.7 14.2h-17.4zM1170 931.8l8.7 14.2h-17.4zM1172.1 929.7l8.7 14.2h-17.4zM1174.2 927.6l8.7 14.2h-17.4zM1176.3 925.4l8.7 14.2h-17.4zM1178.4 923.2l8.7 14.2h-17.4zM1180.4 921l8.7 14.2h-17.4zM1182.4 918.8l8.7 14.2h-17.4zM1184.3 916.5l8.7 14.2h-17.4zM1186.3 914.2l8.7 14.2h-17.4zM1188.2 911.9l8.7 14.2h-17.4zM1190.1 909.6l8.7 14.2h-17.4zM1191.9 907.2l8.7 14.2h-17.4zM1193.8 904.8l8.7 14.2h-17.4zM1195.6 902.4l8.7 14.2h-17.4zM1197.4 900l8.7 14.2h-17.4zM1199.1 897.6l8.7 14.2h-17.4zM1200.9 895.2l8.7 14.2h-17.4zM1202.6 892.7l8.7 14.2h-17.4zM1204.3 890.3l8.7 14.2h-17.4zM1206 887.8l8.7 14.2h-17.4zM1207.7 885.3l8.7 14.2h-17.4zM1209.4 882.8l8.7 14.2h-17.4zM1211 880.3l8.7 14.2h-17.4zM1212.6 877.8l8.7 14.2h-17.4zM1214.2 875.2l8.7 14.2h-17.4zM1215.8 872.7l8.7 14.2h-17.4zM1217.4 870.2l8.7 14.2h-17.4zM1219 867.6l8.7 14.2h-17.4zM1220.6 865.1l8.7 14.2h-17.4zM1222.2 862.5l8.7 14.2h-17.4zM1223.7 859.9l8.7 14.2h-17.4zM1225.3 857.4l8.7 14.2h-17.4zM1226.8 854.8l8.7 14.2h-17.4zM1228.4 852.2l8.7 14.2h-17.4zM1229.9 849.6l8.7 14.2h-17.4zM1231.4 847.1l8.7 14.2h-17.4zM1232.9 844.5l8.7 14.2h-17.4zM1234.5 841.9l8.7 14.2h-17.4zM1236 839.3l8.7 14.2h-17.4zM1237.5 836.7l8.7 14.2h-17.4zM1239.1 834.2l8.7 14.2h-17.4zM1240.6 831.6l8.7 14.2h-17.4zM1242.1 829l8.7 14.2h-17.4zM1243.7 826.4l8.7 14.2h-17.4zM1245.2 823.8l8.7 14.2h-17.4zM1246.7 821.3l8.7 14.2h-17.4zM1248.3 818.7l8.7 14.2h-17.4zM1249.8 816.1l8.7 14.2h-17.4zM1251.4 813.6l8.7 14.2h-17.4zM1253 811l8.7 14.2h-17.4zM1254.5 808.4l8.7 14.2h-17.4zM1256.1 805.9l8.7 14.2h-17.4zM1257.6 803.3l8.7 14.2h-17.4zM1259.2 800.8l8.7 14.2h-17.4zM1260.8 798.2l8.7 14.2h-17.4zM1262.3 795.6l8.7 14.2h-17.4zM1263.9 793.1l8.7 14.2h-17.4zM1265.4 790.5l8.7 14.2h-17.4zM1267 787.9l8.7 14.2h-17.4zM1268.5 785.4l8.7 14.2h-17.4zM1270.1 782.8l8.7 14.2h-17.4zM1271.7 780.2l8.7 14.2h-17.4zM1273.2 777.7l8.7 14.2h-17.4zM1274.7 775.1l8.7 14.2h-17.4zM1276.3 772.5l8.7 14.2h-17.4zM1277.8 770l8.7 14.2h-17.4zM1279.4 767.4l8.7 14.2h-17.4zM1280.9 764.8l8.7 14.2h-17.4zM1282.4 762.2l8.7 14.2h-17.4zM1283.9 759.6l8.7 14.2h-17.4zM1285.5 757l8.7 14.2h-17.4zM1287 754.4l8.7 14.2h-17.4zM1288.5 751.8l8.7 14.2h-17.4zM1290 749.2l8.7 14.2h-17.4zM1291.4 746.6l8.7 14.2h-17.4zM1292.9 744l8.7 14.2h-17.4zM1294.4 741.4l8.7 14.2h-17.4zM1295.9 738.8l8.7 14.2h-17.4zM1297.3 736.2l8.7 14.2h-17.4zM1298.8 733.5l8.7 14.2h-17.4zM1300.2 730.9l8.7 14.2h-17.4zM1301.6 728.3l8.7 14.2h-17.4zM1303 725.6l8.7 14.2h-17.4zM1304.4 723l8.7 14.2h-17.4zM1305.8 720.3l8.7 14.2h-17.4zM1307.2 717.6l8.7 14.2h-17.4zM1308.6 715l8.7 14.2h-17.4zM1309.9 712.3l8.7 14.2h-17.4zM1311.3 709.6l8.7 14.2h-17.4zM1312.6 706.9l8.7 14.2h-17.4zM1313.9 704.2l8.7 14.2h-17.4zM1315.2 701.5l8.7 14.2h-17.4zM1316.5 698.8l8.7 14.2h-17.4zM1317.8 696.1l8.7 14.2h-17.4zM1319 693.4l8.7 14.2h-17.4zM1320.3 690.7l8.7 14.2h-17.4zM1321.5 687.9l8.7 14.2h-17.4zM1322.7 685.2l8.7 14.2h-17.4zM1323.9 682.4l8.7 14.2h-17.4zM1325.1 679.7l8.7 14.2h-17.4zM1326.3 676.9l8.7 14.2h-17.4zM1327.4 674.1l8.7 14.2h-17.4zM1328.6 671.4l8.7 14.2h-17.4zM1329.7 668.6l8.7 14.2h-17.4zM1330.9 665.8l8.7 14.2h-17.4zM1332 663l8.7 14.2h-17.4zM1333.1 660.2l8.7 14.2h-17.4zM1334.2 657.4l8.7 14.2h-17.4zM1335.3 654.7l8.7 14.2h-17.4zM1336.3 651.8l8.7 14.2h-17.4zM1337.4 649l8.7 14.2h-17.4zM1338.4 646.2l8.7 14.2h-17.4zM1339.5 643.4l8.7 14.2h-17.4zM1340.5 640.6l8.7 14.2h-17.4zM1341.5 637.8l8.7 14.2h-17.4zM1342.6 635l8.7 14.2h-17.4zM1343.6 632.1l8.7 14.2h-17.4zM1344.6 629.3l8.7 14.2h-17.4zM1345.6 626.5l8.7 14.2h-17.4zM1346.5 623.6l8.7 14.2h-17.4zM1347.5 620.8l8.7 14.2h-17.4zM1348.5 618l8.7 14.2h-17.4zM1349.4 615.1l8.7 14.2h-17.4zM1350.4 612.3l8.7 14.2h-17.4zM1351.3 609.4l8.7 14.2h-17.4zM1352.3 606.6l8.7 14.2h-17.4zM1353.2 603.7l8.7 14.2h-17.4zM1354.1 600.9l8.7 14.2h-17.4zM1355.1 598l8.7 14.2h-17.4zM1356 595.2l8.7 14.2h-17.4zM1356.9 592.3l8.7 14.2h-17.4zM1357.8 589.5l8.7 14.2h-17.4zM1358.7 586.6l8.7 14.2h-17.4zM1359.6 583.7l8.7 14.2h-17.4zM1360.5 580.9l8.7 14.2h-17.4zM1361.4 578l8.7 14.2h-17.4zM1362.3 575.1l8.7 14.2h-17.4zM1363.2 572.3l8.7 14.2h-17.4zM1364 569.4l8.7 14.2h-17.4zM1364.9 566.5l8.7 14.2h-17.4zM1365.7 563.6l8.7 14.2h-17.4zM1366.5 560.7l8.7 14.2h-17.4zM1367.3 557.9l8.7 14.2h-17.4zM1368.1 555l8.7 14.2h-17.4zM1368.9 552.1l8.7 14.2h-17.4zM1369.7 549.2l8.7 14.2h-17.4zM1370.5 546.3l8.7 14.2h-17.4zM1371.2 543.4l8.7 14.2h-17.4zM1371.9 540.4l8.7 14.2h-17.4zM1372.6 537.5l8.7 14.2h-17.4zM1373.3 534.6l8.7 14.2h-17.4zM1373.9 531.7l8.7 14.2h-17.4zM1374.6 528.7l8.7 14.2h-17.4zM1375.2 525.8l8.7 14.2h-17.4zM1375.8 522.9l8.7 14.2h-17.4zM1376.4 519.9l8.7 14.2h-17.4zM1376.9 517l8.7 14.2h-17.4zM1377.4 514l8.7 14.2h-17.4zM1377.9 511.1l8.7 14.2h-17.4zM1378.4 508.1l8.7 14.2h-17.4zM1378.8 505.1l8.7 14.2h-17.4zM1379.2 502.2l8.7 14.2h-17.4zM1379.6 499.2l8.7 14.2h-17.4zM1379.9 496.2l8.7 14.2h-17.4zM1380.3 493.2l8.7 14.2h-17.4zM1380.6 490.2l8.7 14.2h-17.4zM1380.8 487.2l8.7 14.2h-17.4zM1381.1 484.3l8.7 14.2h-17.4zM1381.3 481.3l8.7 14.2h-17.4zM1381.6 478.3l8.7 14.2h-17.4zM1381.8 475.3l8.7 14.2h-17.4zM1382 472.3l8.7 14.2h-17.4zM1382.3 469.3l8.7 14.2h-17.4zM1382.5 466.3l8.7 14.2h-17.4zM1382.8 463.3l8.7 14.2h-17.4zM1383.1 460.3l8.7 14.2h-17.4zM1383.5 457.4l8.7 14.2h-17.4zM1383.8 454.4l8.7 14.2h-17.4zM1384.3 451.4l8.7 14.2h-17.4zM1384.7 448.5l8.7 14.2h-17.4zM1385.3 445.5l8.7 14.2h-17.4zM1385.9 442.6l8.7 14.2h-17.4zM1386.6 439.7l8.7 14.2h-17.4zM1387.4 436.8l8.7 14.2h-17.4zM1388.2 433.9l8.7 14.2h-17.4zM1389.2 431l8.7 14.2h-17.4zM1390.3 428.2l8.7 14.2h-17.4zM1391.5 425.5l8.7 14.2h-17.4zM1392.8 422.8l8.7 14.2h-17.4zM1394.3 420.2l8.7 14.2h-17.4zM1395.9 417.7l8.7 14.2h-17.4zM1397.6 415.2l8.7 14.2h-17.4zM1399.5 412.9l8.7 14.2h-17.4zM1401.5 410.7l8.7 14.2h-17.4zM1403.7 408.5l8.7 14.2h-17.4zM1405.9 406.6l8.7 14.2h-17.4zM1408.3 404.7l8.7 14.2h-17.4z"/>
<polygon fill="#2035dc" stroke="#2035dc" stroke-width="3" stroke-linejoin="round" points="1362,578 1368,556 1376,545 1397,545 1401,572 1390,580"/>
<polyline fill="none" stroke="#2035dc" stroke-width="7" stroke-linecap="round" stroke-linejoin="round" points="1362,572 1386.5,571.9 1395.4,571.4 1415.2,572.5 1424.8,572"/>
<path fill="#2035dc" d="M1386.5 564l7.2 11.8h-14.5zM1395.4 563.5l7.2 11.8h-14.5zM1415.2 564.6l7.2 11.8h-14.5zM1424.8 564.1l7.2 11.8h-14.5z"/>
<polyline fill="none" stroke="#2035dc" stroke-width="7" stroke-linecap="round" stroke-linejoin="round" points="1372,561 1389.7,560.8 1411.8,560.4 1422.1,560.5 1437,561"/>
<path fill="#2035dc" d="M1389.7 553l7.2 11.8h-14.5zM1411.8 552.6l7.2 11.8h-14.5zM1422.1 552.7l7.2 11.8h-14.5zM1437 553.1l7.2 11.8h-14.5z"/>
<polyline fill="none" stroke="#2035dc" stroke-width="7" stroke-linecap="round" stroke-linejoin="round" points="1379,527.2 1404.6,527.5 1418,526.4 1427.9,528.2 1449.3,526.6 1457.3,526.7 1474.5,527.7 1494.6,526.9 1500.7,527.2"/>
<path fill="#2035dc" d="M1404.6 519.6l7.2 11.8h-14.5zM1418 518.5l7.2 11.8h-14.5zM1427.9 520.3l7.2 11.8h-14.5zM1449.3 518.8l7.2 11.8h-14.5zM1457.3 518.8l7.2 11.8h-14.5zM1474.5 519.9l7.2 11.8h-14.5zM1494.6 519l7.2 11.8h-14.5zM1500.7 519.3l7.2 11.8h-14.5z"/>
<polygon fill="#2035dc" stroke="#2035dc" stroke-width="3" stroke-linejoin="round" points="1380,536 1382,498 1412,499 1425,512 1404,520 1410,536"/>
<polygon fill="#2035dc" stroke="#2035dc" stroke-width="3" stroke-linejoin="round" points="1383,498 1385,470 1420,471 1434,488 1437,497 1405,498"/>
<polyline fill="none" stroke="#2035dc" stroke-width="7" stroke-linecap="round" stroke-linejoin="round" points="1390,494 1408.9,493.2 1422.1,494.2 1437,494"/>
<path fill="#2035dc" d="M1408.9 485.3l7.2 11.8h-14.5zM1422.1 486.3l7.2 11.8h-14.5zM1437 486.1l7.2 11.8h-14.5z"/>
<polyline fill="none" stroke="#2035dc" stroke-width="7" stroke-linecap="round" stroke-linejoin="round" points="1388,478 1402.8,477.7 1418.7,477.9 1426,478"/>
<path fill="#2035dc" d="M1402.8 469.9l7.2 11.8h-14.5zM1418.7 470l7.2 11.8h-14.5zM1426 470.1l7.2 11.8h-14.5z"/>
<polyline fill="none" stroke="#2035dc" stroke-width="6.5" stroke-linecap="round" stroke-linejoin="round" points="1386,473 1422,473 1500,471 1560,470.4 1655,464.3 1695.6,460 1707.8,457.5 1655,456.8 1560,456.8 1388,456.8"/>
<path fill="#2035dc" d="M1402 465.1l7.2 11.8h-14.5zM1419 465.1l7.2 11.8h-14.5zM1437 464.6l7.2 11.8h-14.5zM1453 464.1l7.2 11.8h-14.5zM1494 463.1l7.2 11.8h-14.5zM1522 462.6l7.2 11.8h-14.5zM1534 462.6l7.2 11.8h-14.5zM1553 462.5l7.2 11.8h-14.5zM1598 460.1l7.2 11.8h-14.5zM1607 459.6l7.2 11.8h-14.5zM1616 459.1l7.2 11.8h-14.5zM1640 457.1l7.2 11.8h-14.5zM1656 449.1l7.2 11.8h-14.5zM1676 449.1l7.2 11.8h-14.5zM1687 449.3l7.2 11.8h-14.5zM1707.8 449.6l7.2 11.8h-14.5z"/>
<polygon fill="#2035dc" stroke="#2035dc" stroke-width="2" stroke-linejoin="round" points="1655,457 1700,457 1690,462 1660,465.5 1640,466"/>
<polygon fill="#2035dc" stroke="#2035dc" stroke-width="3" stroke-linejoin="round" points="1386,456 1390,430 1398,416 1440,413 1463,420 1500,431 1543,437 1520,443 1463,446 1462,456"/>
<path fill="#2035dc" d="M1405.4 409.1l7.2 11.8h-14.5zM1410.2 410.6l7.2 11.8h-14.5zM1415 407.7l7.2 11.8h-14.5zM1426.1 410.4l7.2 11.8h-14.5zM1429.4 407.9l7.2 11.8h-14.5zM1439.1 410.9l7.2 11.8h-14.5zM1443.1 410.9l7.2 11.8h-14.5zM1453.9 409.5l7.2 11.8h-14.5zM1458.4 407.5l7.2 11.8h-14.5zM1463.2 411l7.2 11.8h-14.5z"/>
<path fill="#2035dc" d="M1467.5 425.2l7.2 11.8h-14.5zM1480.7 425.8l7.2 11.8h-14.5zM1497.2 423.1l7.2 11.8h-14.5zM1505.8 425.2l7.2 11.8h-14.5zM1517.7 422.8l7.2 11.8h-14.5zM1535.8 425.9l7.2 11.8h-14.5z"/>
<path fill="#2035dc" d="M1537.5 428.6l7.2 11.8h-14.5z"/>
<polyline fill="none" stroke="#2035dc" stroke-width="6.5" stroke-linecap="round" stroke-linejoin="round" points="1408.5,414 1411.5,413.9 1414.5,413.8 1417.5,413.7 1420.5,413.6 1423.5,413.5 1426.5,413.4 1429.5,413.3 1432.5,413.2 1435.5,413.2 1438.5,413.1 1441.5,413 1444.5,412.9 1447.5,412.8 1450.5,412.7 1453.5,412.6 1456.5,412.6 1459.5,412.5 1462.5,412.4 1465.5,412.3 1468.5,412.2 1471.5,412.2 1474.5,412.1 1477.5,412 1480.5,411.9 1483.6,411.8 1486.6,411.7 1489.6,411.7 1492.6,411.6 1495.6,411.5 1498.6,411.4 1501.6,411.3 1504.6,411.3 1507.6,411.2 1510.6,411.1 1513.6,411 1516.6,410.9 1519.7,410.8 1522.7,410.7 1525.7,410.7 1528.7,410.6 1531.7,410.5 1534.7,410.4 1537.7,410.3 1540.7,410.2 1543.7,410.1 1546.7,410 1549.8,409.9 1552.8,409.8 1555.8,409.7 1558.8,409.6 1561.8,409.5 1564.8,409.4 1567.8,409.3 1570.8,409.2 1573.8,409.1 1576.8,408.9 1579.9,408.8 1582.9,408.7 1585.9,408.6 1588.9,408.5 1591.9,408.3 1594.9,408.2 1597.9,408.1 1600.9,408 1603.9,407.8 1606.9,407.7 1609.9,407.5 1613,407.4 1616,407.3 1619,407.1 1622,406.9 1625,406.8 1628,406.6 1631,406.5 1634,406.3 1637,406.1 1640,406 1643,405.8 1646,405.6 1649,405.4 1652,405.2 1655,405.1 1658,404.9 1661,404.7 1664,404.5 1667,404.3 1670,404.1 1673,403.8 1676,403.6 1679,403.4 1682,403.2 1685,402.9 1688,402.7 1691,402.5 1694,402.2 1697,402 1700,401.7 1703,401.5 1706,401.2 1709,400.9 1712,400.7 1715,400.4 1717.9,400.1 1720.9,399.8 1723.9,399.5 1726.9,399.2 1729.9,398.9 1732.9,398.6 1735.9,398.3 1738.9,398 1741.8,397.7 1744.8,397.3 1747.8,397 1750.8,396.7 1753.8,396.3 1756.7,395.9 1759.7,395.6 1762.7,395.2 1765.7,394.9 1768.7,394.5 1771.6,394.1 1774.6,393.7 1777.6,393.3 1780.5,392.9 1783.5,392.5 1786.5,392.1 1789.4,391.6 1792.4,391.2 1795.4,390.8 1798.3,390.3 1801.3,389.9 1804.3,389.4 1807.2,389 1810.2,388.5 1813.2,388 1816.1,387.5 1819.1,387 1822,386.5 1825,386 1827.9,385.5 1830.9,385 1833.8,384.5 1836.8,383.9 1839.7,383.4 1842.7,382.8 1845.6,382.3 1848.6,381.7 1851.5,381.1 1854.5,380.5 1857.4,379.9 1860.3,379.3 1863.3,378.7 1866.2,378.1 1869.1,377.5 1872.1,376.9 1875,376.2 1877.9,375.6 1880.9,374.9 1883.8,374.2 1886.7,373.6 1889.6,372.9 1892.6,372.2 1895.5,371.5 1898.4,370.8 1901.3,370 1904.2,369.3 1907.1,368.6 1910.1,367.8 1913,367 1915.9,366.3 1918.8,365.5 1921.7,364.7 1924.6,363.9 1927.5,363.1 1930.4,362.3 1933.3,361.5 1936.2,360.6 1939.1,359.8 1942,358.9 1944.9,358.1 1947.8,357.2 1950.7,356.3 1953.6,355.4 1956.4,354.5 1959.3,353.6 1962.2,352.7 1965.1,351.7 1968,350.8 1970.8,349.8 1973.7,348.8 1976.6,347.9"/>
<path fill="#2035dc" d="M1420.5 405.7l7.2 11.8h-14.5zM1448 404.9l7.2 11.8h-14.5zM1468.2 404.4l7.2 11.8h-14.5zM1502.3 403.5l7.2 11.8h-14.5zM1520.8 402.9l7.2 11.8h-14.5zM1535.2 402.5l7.2 11.8h-14.5zM1555.1 401.9l7.2 11.8h-14.5zM1578.9 401l7.2 11.8h-14.5zM1594.2 400.4l7.2 11.8h-14.5zM1612 399.6l7.2 11.8h-14.5zM1634.1 398.4l7.2 11.8h-14.5zM1660.7 396.8l7.2 11.8h-14.5zM1670 396.2l7.2 11.8h-14.5zM1681.5 395.3l7.2 11.8h-14.5zM1698.4 394l7.2 11.8h-14.5zM1716.1 392.4l7.2 11.8h-14.5zM1730.6 391l7.2 11.8h-14.5zM1745.5 389.4l7.2 11.8h-14.5zM1759.2 387.8l7.2 11.8h-14.5zM1768.5 386.6l7.2 11.8h-14.5z"/>
<path fill="#2035dc" d="M1771.7 383l8.8 14.4h-17.7zM1774.8 384.4l8.8 14.4h-17.7zM1782.2 383l8.8 14.4h-17.7zM1788.7 381.3l8.8 14.4h-17.7zM1796.4 381.7l8.8 14.4h-17.7zM1799.5 380.6l8.8 14.4h-17.7zM1805.6 380l8.8 14.4h-17.7zM1810.9 380.1l8.8 14.4h-17.7zM1817.5 376.9l8.8 14.4h-17.7zM1822 375.4l8.8 14.4h-17.7zM1829.9 374.9l8.8 14.4h-17.7zM1833.2 375.5l8.8 14.4h-17.7zM1838.9 373l8.8 14.4h-17.7zM1845.4 371.6l8.8 14.4h-17.7zM1852.8 372.6l8.8 14.4h-17.7zM1857.8 370.8l8.8 14.4h-17.7zM1862.6 369.1l8.8 14.4h-17.7zM1867.8 369.4l8.8 14.4h-17.7zM1873.4 366.4l8.8 14.4h-17.7zM1877 366.7l8.8 14.4h-17.7zM1881.8 364.1l8.8 14.4h-17.7zM1887.3 363.6l8.8 14.4h-17.7zM1892.7 363.5l8.8 14.4h-17.7zM1896.6 362.9l8.8 14.4h-17.7zM1901.7 361.6l8.8 14.4h-17.7zM1907 358.6l8.8 14.4h-17.7zM1911.4 358.1l8.8 14.4h-17.7zM1915.9 356.1l8.8 14.4h-17.7zM1919.6 354.5l8.8 14.4h-17.7zM1924 354.5l8.8 14.4h-17.7zM1928.5 354.3l8.8 14.4h-17.7zM1931.1 353.6l8.8 14.4h-17.7zM1935.7 351.9l8.8 14.4h-17.7zM1941.4 350.9l8.8 14.4h-17.7zM1946.8 347.2l8.8 14.4h-17.7zM1951.6 345.4l8.8 14.4h-17.7zM1955.3 345.1l8.8 14.4h-17.7zM1960.1 343l8.8 14.4h-17.7zM1964.4 341.4l8.8 14.4h-17.7zM1968.3 340.8l8.8 14.4h-17.7zM1973.4 339.7l8.8 14.4h-17.7zM1976.1 338.4l8.8 14.4h-17.7z"/>
<polygon fill="#2035dc" stroke="#2035dc" stroke-width="2" stroke-linejoin="round" points="1812,392 1830,380 1860,374 1858,384 1830,392"/>
<polyline fill="none" stroke="#ff8000" stroke-width="6" stroke-linecap="round" stroke-linejoin="round" points="465.4,1023 468.4,1023 471.4,1023 474.4,1023 477.4,1023 480.4,1023 483.4,1023 486.5,1023 489.5,1023 492.5,1023 495.5,1023.1 498.5,1023.1 501.5,1023.1 504.5,1023.1 507.5,1023.1 510.5,1023.1 513.5,1023.1 516.5,1023.1 519.5,1023.1 522.6,1023.1 525.6,1023.1 528.6,1023.1 531.6,1023.1 534.6,1023.1 537.6,1023.1 540.6,1023.1 543.6,1023.1 546.6,1023.1 549.6,1023.2 552.6,1023.2 555.6,1023.2 558.7,1023.2 561.7,1023.2 564.7,1023.2 567.7,1023.2 570.7,1023.2 573.7,1023.2 576.7,1023.2 579.7,1023.2 582.7,1023.2 585.7,1023.2 588.7,1023.2 591.7,1023.2 594.7,1023.2 597.8,1023.2 600.8,1023.2 603.8,1023.2 606.8,1023.3 609.8,1023.3 612.8,1023.3 615.8,1023.3 618.8,1023.3 621.8,1023.3 624.8,1023.3 627.8,1023.3 630.8,1023.3 633.9,1023.3 636.9,1023.3 639.9,1023.3 642.9,1023.3 645.9,1023.3 648.9,1023.3 651.9,1023.3 654.9,1023.3 657.9,1023.3 660.9,1023.3 663.9,1023.4 666.9,1023.4 669.9,1023.4 673,1023.4 676,1023.4 679,1023.4 682,1023.4 685,1023.4 688,1023.4 691,1023.4 693.9,1023.4 696.9,1023.5 699.9,1023.5 702.8,1023.5 705.8,1023.5 708.8,1023.6 711.7,1023.6 714.7,1023.6 717.7,1023.6 720.7,1023.6 723.6,1023.7 726.6,1023.7 729.6,1023.7 732.6,1023.7 735.6,1023.7 738.6,1023.7 741.5,1023.7 744.5,1023.8 747.5,1023.8 750.5,1023.8 753.5,1023.8 756.5,1023.8 759.5,1023.8 762.5,1023.8 765.5,1023.9 768.5,1023.9 771.5,1023.9 774.5,1023.9 777.5,1023.9 780.5,1023.9 783.5,1023.9 786.5,1024 789.6,1024 792.6,1024 795.6,1024 798.6,1024 801.6,1024.1 804.6,1024.1 807.6,1024.1 810.7,1024.1 813.7,1024.2 816.7,1024.2 819.7,1024.2 822.7,1024.3 825.7,1024.3 828.8,1024.3 831.8,1024.4 834.8,1024.4 837.8,1024.5 840.9,1024.5 843.9,1024.5 846.9,1024.6 849.9,1024.6 852.9,1024.7 856,1024.8 859,1024.8 862,1024.9 865.1,1024.9 868.1,1025 871.1,1025.1 874.1,1025.1 877.2,1025.2 880.2,1025.3 883.2,1025.4 886.2,1025.5 889.3,1025.5 892.3,1025.6 895.3,1025.7 898.3,1025.8 901.4,1025.9 904.4,1026 907.4,1026.1 910.5,1026.2 913.5,1026.4 916.5,1026.5 919.5,1026.6 922.6,1026.7 925.6,1026.9 928.6,1027 931.6,1027.1 934.7,1027.3 937.7,1027.4 940.7,1027.6 943.7,1027.7 946.7,1027.9 949.8,1028.1 952.8,1028.2 955.8,1028.4 958.8,1028.6 961.8,1028.8 964.9,1029 967.9,1029.1 970.9,1029.3 973.9,1029.6 976.9,1029.8 979.9,1030 982.9,1030.2 986,1030.4 989,1030.7 992,1030.9 995,1031.1 998,1031.4 1001,1031.6 1004,1031.9 1007,1032.2 1010,1032.5 1013,1032.7 1016,1033 1019,1033.3 1022,1033.6 1025,1033.9 1028,1034.2 1031,1034.5 1034,1034.9 1037,1035.2 1040,1035.5 1042.9,1035.9 1045.9,1036.2 1048.9,1036.6 1051.9,1037 1054.9,1037.3 1057.8,1037.7 1060.8,1038.1 1063.8,1038.5 1066.8,1038.9 1069.7,1039.3 1072.7,1039.7 1075.7,1040.2 1078.6,1040.6 1081.6,1041 1084.6,1041.5 1087.5,1041.9 1090.5,1042.4 1093.4,1042.9 1096.4,1043.4 1099.3,1043.8 1102.3,1044.3 1105.2,1044.8 1108.2,1045.4 1111.1,1045.9 1114.1,1046.4 1117,1047 1119.9,1047.5 1122.9,1048.1 1125.8,1048.6 1128.7,1049.2 1131.6,1049.8 1134.6,1050.4 1137.5,1051 1140.4,1051.6 1143.3,1052.2 1146.2,1052.8 1149.1,1053.5 1152,1054.1 1155,1054.8 1157.9,1055.5 1160.7,1056.1 1163.6,1056.8 1166.5,1057.5 1169.4,1058.2 1172.3,1059 1175.2,1059.7 1178.1,1060.4 1181,1061.2 1183.8,1061.9 1186.7,1062.7 1189.6,1063.5 1192.4,1064.3 1195.3,1065.1 1198.1,1065.9 1201,1066.7 1203.9,1067.5 1206.7,1068.4 1209.5,1069.2 1212.4,1070.1 1215.2,1071 1218.1,1071.9 1220.9,1072.8 1223.7,1073.7 1226.5,1074.6 1229.4,1075.5 1232.2,1076.5 1235,1077.4 1237.8,1078.4 1240.6,1079.4 1243.4,1080.4 1246.2,1081.4 1249,1082.4 1251.8,1083.4 1254.6,1084.5 1257.4,1085.5 1260.1,1086.6 1262.9,1087.7 1265.7,1088.8 1268.5,1089.9 1271.2,1091 1274,1092.1 1276.7,1093.2 1279.5,1094.4 1282.2,1095.5 1285,1096.7 1287.7,1097.9 1290.5,1099.1 1293.2,1100.3 1295.9,1101.5 1298.7,1102.7 1301.4,1103.9 1304.1,1105.2 1306.8,1106.4 1309.5,1107.7 1312.3,1108.9 1315,1110.2 1317.7,1111.5 1320.4,1112.8 1323.1,1114.1 1325.8,1115.4 1328.5,1116.7 1331.2,1118 1333.9,1119.3 1336.6,1120.7 1339.3,1122 1341.9,1123.4 1344.6,1124.7 1347.3,1126.1 1350,1127.5 1352.7,1128.9 1355.3,1130.2 1358,1131.6 1360.7,1133 1363.4,1134.4 1366,1135.8 1368.7,1137.2 1371.4,1138.6 1374,1140.1 1376.7,1141.5 1379.4,1142.9 1382,1144.3 1384.7,1145.8 1387.3,1147.2 1390,1148.7 1392.7,1150.1 1395.3,1151.6 1398,1153 1400.6,1154.5 1403.3,1155.9 1405.9,1157.4 1408.6,1158.9 1411.2,1160.3 1413.9,1161.8 1416.5,1163.3 1419.2,1164.7 1421.8,1166.2 1424.5,1167.7 1427.1,1169.1 1429.8,1170.6 1432.4,1172.1 1435.1,1173.6 1437.7,1175 1440.4,1176.5 1443,1178 1445.7,1179.5 1448.3,1180.9 1451,1182.4 1453.6,1183.9 1456.3,1185.4 1458.9,1186.8 1461.6,1188.3 1464.2,1189.8 1466.9,1191.2 1469.5,1192.7 1472.2,1194.2 1474.8,1195.6 1477.5,1197.1 1480.1,1198.5 1482.8,1200 1485.4,1201.4 1488.1,1202.9 1490.8,1204.3 1493.4,1205.7 1496.1,1207.2 1498.8,1208.6 1501.4,1210 1504.1,1211.4 1506.8,1212.9 1509.4,1214.3 1512.1,1215.7 1514.8,1217.1 1517.4,1218.5 1520.1,1219.9 1522.8,1221.3 1525.5,1222.6 1528.2,1224 1530.9,1225.4 1533.5,1226.7 1536.2,1228.1 1538.9,1229.4 1541.6,1230.8 1544.3,1232.1 1547,1233.4 1549.7,1234.7 1552.4,1236 1555.1,1237.3 1557.8,1238.6 1560.5,1239.9 1563.3,1241.2 1566,1242.5 1568.7,1243.7 1571.4,1245 1574.1,1246.2 1576.9,1247.4 1579.6,1248.7 1582.3,1249.9 1585.1,1251.1 1587.8,1252.3 1590.6,1253.5 1593.3,1254.6 1596.1,1255.8 1598.8,1256.9 1601.6,1258.1 1604.4,1259.2 1607.1,1260.3 1609.9,1261.4 1612.7,1262.5 1615.5,1263.6 1618.2,1264.7 1621,1265.7 1623.8,1266.8 1626.6,1267.8 1629.4,1268.8 1632.2,1269.8 1635,1270.8 1637.8,1271.8 1640.7,1272.7 1643.5,1273.7 1646.3,1274.6 1649.1,1275.5 1652,1276.4 1654.8,1277.3 1657.7,1278.2 1660.5,1279.1 1663.4,1279.9 1666.2,1280.8 1669.1,1281.6 1672,1282.4 1674.9,1283.2 1677.7,1283.9 1680.6,1284.7 1683.5,1285.4 1686.4,1286.1 1689.3,1286.8 1692.2,1287.5 1695.1,1288.2 1698.1,1288.8 1701,1289.5 1703.9,1290.1 1706.9,1290.7 1709.8,1291.3 1712.7,1291.8 1715.7,1292.4 1718.7,1292.9 1721.6,1293.4 1724.6,1293.9 1727.6,1294.3 1730.6,1294.8 1733.6,1295.2 1736.6,1295.6 1739.6,1296 1742.6,1296.4"/>
<path fill="#ff8000" d="M465.4 1030.9l7.2 -11.8h-14.5zM690 1031.3l7.2 -11.8h-14.5zM769.5 1031.7l7.2 -11.8h-14.5zM789.6 1031.9l7.2 -11.8h-14.5zM834.8 1032.3l7.2 -11.8h-14.5zM865.1 1032.8l7.2 -11.8h-14.5zM890.3 1033.4l7.2 -11.8h-14.5zM912.5 1034.2l7.2 -11.8h-14.5zM931.6 1035l7.2 -11.8h-14.5zM949.8 1035.9l7.2 -11.8h-14.5zM965.9 1036.9l7.2 -11.8h-14.5zM979.9 1037.8l7.2 -11.8h-14.5zM992 1038.8l7.2 -11.8h-14.5zM1001 1039.5l7.2 -11.8h-14.5zM1009.9 1040.3l7.2 -11.8h-14.5zM1018.3 1041.1l7.2 -11.8h-14.5zM1026.1 1041.9l7.2 -11.8h-14.5zM1033.5 1042.7l7.2 -11.8h-14.5zM1040.5 1043.5l7.2 -11.8h-14.5zM1047 1044.2l7.2 -11.8h-14.5zM1053.1 1045l7.2 -11.8h-14.5zM1058.9 1045.7l7.2 -11.8h-14.5zM1064.3 1046.4l7.2 -11.8h-14.5zM1069.4 1047.1l7.2 -11.8h-14.5zM1074.2 1047.8l7.2 -11.8h-14.5z"/>
<path fill="#ff8000" d="M1075.7 1048.8l8 -13h-16zM1080.1 1049.5l8 -13h-16zM1084.2 1050.1l8 -13h-16zM1088.1 1050.7l8 -13h-16zM1091.8 1051.3l8 -13h-16zM1095.3 1051.8l8 -13h-16zM1098.5 1052.4l8 -13h-16zM1101.5 1052.9l8 -13h-16zM1104.5 1053.4l8 -13h-16zM1107.5 1053.9l8 -13h-16zM1110.4 1054.4l8 -13h-16zM1113.4 1054.9l8 -13h-16zM1116.3 1055.5l8 -13h-16zM1119.3 1056l8 -13h-16zM1122.2 1056.6l8 -13h-16zM1125.2 1057.2l8 -13h-16zM1128.1 1057.7l8 -13h-16zM1131 1058.3l8 -13h-16zM1134 1058.9l8 -13h-16zM1136.9 1059.5l8 -13h-16zM1139.9 1060.1l8 -13h-16zM1142.8 1060.8l8 -13h-16zM1145.7 1061.4l8 -13h-16zM1148.7 1062l8 -13h-16zM1151.6 1062.7l8 -13h-16zM1154.5 1063.3l8 -13h-16zM1157.4 1064l8 -13h-16zM1160.4 1064.7l8 -13h-16zM1163.3 1065.4l8 -13h-16zM1166.2 1066.1l8 -13h-16zM1169.1 1066.8l8 -13h-16zM1172 1067.5l8 -13h-16zM1174.9 1068.3l8 -13h-16zM1177.8 1069l8 -13h-16zM1180.7 1069.8l8 -13h-16zM1183.6 1070.5l8 -13h-16zM1186.5 1071.3l8 -13h-16zM1189.4 1072.1l8 -13h-16zM1192.3 1072.9l8 -13h-16zM1195.2 1073.7l8 -13h-16zM1198.1 1074.5l8 -13h-16zM1201 1075.4l8 -13h-16zM1203.9 1076.2l8 -13h-16zM1206.7 1077l8 -13h-16zM1209.6 1077.9l8 -13h-16zM1212.5 1078.8l8 -13h-16zM1215.3 1079.7l8 -13h-16zM1218.2 1080.6l8 -13h-16zM1221.1 1081.5l8 -13h-16zM1223.9 1082.4l8 -13h-16zM1226.8 1083.3l8 -13h-16zM1229.6 1084.3l8 -13h-16zM1232.5 1085.2l8 -13h-16zM1235.3 1086.2l8 -13h-16zM1238.1 1087.2l8 -13h-16zM1241 1088.2l8 -13h-16zM1243.8 1089.2l8 -13h-16zM1246.6 1090.2l8 -13h-16zM1249.4 1091.2l8 -13h-16zM1252.2 1092.3l8 -13h-16zM1255.1 1093.3l8 -13h-16zM1257.9 1094.4l8 -13h-16zM1260.7 1095.4l8 -13h-16zM1263.5 1096.5l8 -13h-16zM1266.3 1097.6l8 -13h-16zM1269 1098.7l8 -13h-16zM1271.8 1099.9l8 -13h-16zM1274.6 1101l8 -13h-16zM1277.4 1102.1l8 -13h-16zM1280.1 1103.3l8 -13h-16zM1282.9 1104.5l8 -13h-16zM1285.7 1105.6l8 -13h-16zM1288.4 1106.8l8 -13h-16zM1291.2 1108l8 -13h-16zM1293.9 1109.2l8 -13h-16zM1296.7 1110.4l8 -13h-16zM1299.4 1111.7l8 -13h-16zM1302.1 1112.9l8 -13h-16zM1304.9 1114.2l8 -13h-16zM1307.6 1115.4l8 -13h-16zM1310.3 1116.7l8 -13h-16zM1313 1117.9l8 -13h-16zM1315.7 1119.2l8 -13h-16zM1318.4 1120.5l8 -13h-16zM1321.2 1121.8l8 -13h-16zM1323.9 1123.1l8 -13h-16zM1326.6 1124.4l8 -13h-16zM1329.3 1125.7l8 -13h-16zM1331.9 1127l8 -13h-16zM1334.6 1128.4l8 -13h-16zM1337.3 1129.7l8 -13h-16zM1340 1131.1l8 -13h-16zM1342.7 1132.4l8 -13h-16zM1345.4 1133.8l8 -13h-16zM1348 1135.1l8 -13h-16zM1350.7 1136.5l8 -13h-16zM1353.4 1137.9l8 -13h-16zM1356 1139.2l8 -13h-16zM1358.7 1140.6l8 -13h-16zM1361.4 1142l8 -13h-16zM1364 1143.4l8 -13h-16zM1366.7 1144.8l8 -13h-16zM1369.3 1146.2l8 -13h-16zM1372 1147.6l8 -13h-16zM1374.6 1149l8 -13h-16zM1377.3 1150.4l8 -13h-16zM1379.9 1151.9l8 -13h-16zM1382.5 1153.3l8 -13h-16zM1385.2 1154.7l8 -13h-16zM1387.8 1156.1l8 -13h-16zM1390.5 1157.6l8 -13h-16zM1393.1 1159l8 -13h-16zM1395.7 1160.4l8 -13h-16zM1398.4 1161.9l8 -13h-16zM1401 1163.3l8 -13h-16zM1403.6 1164.8l8 -13h-16zM1406.2 1166.2l8 -13h-16zM1408.9 1167.7l8 -13h-16zM1411.5 1169.1l8 -13h-16zM1414.1 1170.6l8 -13h-16zM1416.7 1172l8 -13h-16zM1419.4 1173.5l8 -13h-16zM1422 1174.9l8 -13h-16zM1424.6 1176.4l8 -13h-16zM1427.2 1177.9l8 -13h-16zM1429.9 1179.3l8 -13h-16zM1432.5 1180.8l8 -13h-16zM1435.1 1182.2l8 -13h-16zM1437.7 1183.7l8 -13h-16zM1440.3 1185.2l8 -13h-16zM1443 1186.6l8 -13h-16zM1445.6 1188.1l8 -13h-16zM1448.2 1189.5l8 -13h-16zM1450.8 1191l8 -13h-16zM1453.4 1192.4l8 -13h-16zM1456.1 1193.9l8 -13h-16zM1458.7 1195.4l8 -13h-16zM1461.3 1196.8l8 -13h-16zM1463.9 1198.3l8 -13h-16zM1466.6 1199.7l8 -13h-16zM1469.2 1201.2l8 -13h-16zM1471.8 1202.6l8 -13h-16zM1474.4 1204.1l8 -13h-16zM1477.1 1205.5l8 -13h-16zM1479.7 1206.9l8 -13h-16zM1482.3 1208.4l8 -13h-16zM1485 1209.8l8 -13h-16zM1487.6 1211.3l8 -13h-16zM1490.3 1212.7l8 -13h-16zM1492.9 1214.1l8 -13h-16zM1495.5 1215.5l8 -13h-16zM1498.2 1216.9l8 -13h-16zM1500.8 1218.4l8 -13h-16zM1503.5 1219.8l8 -13h-16zM1506.1 1221.2l8 -13h-16zM1508.8 1222.6l8 -13h-16zM1511.4 1224l8 -13h-16zM1514.1 1225.4l8 -13h-16zM1516.7 1226.8l8 -13h-16zM1519.4 1228.1l8 -13h-16zM1522.1 1229.5l8 -13h-16zM1524.7 1230.9l8 -13h-16zM1527.4 1232.3l8 -13h-16zM1530.1 1233.6l8 -13h-16zM1532.8 1235l8 -13h-16zM1535.4 1236.3l8 -13h-16zM1538.1 1237.7l8 -13h-16zM1540.8 1239l8 -13h-16zM1543.5 1240.3l8 -13h-16zM1546.2 1241.7l8 -13h-16zM1548.9 1243l8 -13h-16zM1551.6 1244.3l8 -13h-16zM1554.3 1245.6l8 -13h-16zM1557 1246.9l8 -13h-16zM1559.7 1248.2l8 -13h-16zM1562.4 1249.5l8 -13h-16zM1565.1 1250.7l8 -13h-16zM1567.8 1252l8 -13h-16zM1570.6 1253.2l8 -13h-16zM1573.3 1254.5l8 -13h-16zM1576 1255.7l8 -13h-16zM1578.8 1257l8 -13h-16zM1581.5 1258.2l8 -13h-16zM1584.3 1259.4l8 -13h-16zM1587 1260.6l8 -13h-16zM1589.8 1261.8l8 -13h-16zM1592.5 1262.9l8 -13h-16zM1595.3 1264.1l8 -13h-16zM1598.1 1265.3l8 -13h-16zM1600.8 1266.4l8 -13h-16zM1603.6 1267.5l8 -13h-16zM1606.4 1268.7l8 -13h-16zM1609.2 1269.8l8 -13h-16zM1612 1270.9l8 -13h-16zM1614.8 1272l8 -13h-16zM1617.6 1273.1l8 -13h-16zM1620.4 1274.1l8 -13h-16zM1623.2 1275.2l8 -13h-16zM1626 1276.2l8 -13h-16zM1628.8 1277.2l8 -13h-16zM1631.6 1278.2l8 -13h-16zM1634.5 1279.2l8 -13h-16zM1637.3 1280.2l8 -13h-16zM1640.1 1281.2l8 -13h-16zM1643 1282.2l8 -13h-16zM1645.8 1283.1l8 -13h-16zM1648.7 1284l8 -13h-16zM1651.5 1285l8 -13h-16zM1654.4 1285.9l8 -13h-16zM1657.3 1286.8l8 -13h-16zM1660.4 1287.7l8 -13h-16zM1663.6 1288.6l8 -13h-16zM1667 1289.6l8 -13h-16zM1670.6 1290.7l8 -13h-16zM1674.4 1291.7l8 -13h-16zM1678.4 1292.8l8 -13h-16zM1682.7 1293.9l8 -13h-16zM1687.2 1295l8 -13h-16zM1691.9 1296.1l8 -13h-16zM1696.9 1297.2l8 -13h-16zM1702.2 1298.4l8 -13h-16zM1707.8 1299.5l8 -13h-16zM1713.7 1300.6l8 -13h-16zM1719.9 1301.8l8 -13h-16zM1726.5 1302.8l8 -13h-16zM1733.5 1303.9l8 -13h-16zM1740.9 1304.8l8 -13h-16z"/>
<path fill="#ff8000" d="M1743.6 1305.2l8 -13h-16z"/>
<polyline fill="none" stroke="#ff8000" stroke-width="6" stroke-linecap="round" stroke-linejoin="round" points="465.4,1023 468.4,1023 471.4,1023 474.4,1023 477.4,1023 480.4,1023 483.4,1023 486.5,1023 489.5,1023 492.5,1023 495.5,1022.9 498.5,1022.9 501.5,1022.9 504.5,1022.9 507.5,1022.9 510.5,1022.9 513.5,1022.9 516.5,1022.9 519.5,1022.9 522.6,1022.9 525.6,1022.9 528.6,1022.9 531.6,1022.9 534.6,1022.9 537.6,1022.9 540.6,1022.9 543.6,1022.9 546.6,1022.9 549.6,1022.8 552.6,1022.8 555.6,1022.8 558.7,1022.8 561.7,1022.8 564.7,1022.8 567.7,1022.8 570.7,1022.8 573.7,1022.8 576.7,1022.8 579.7,1022.8 582.7,1022.8 585.7,1022.8 588.7,1022.8 591.7,1022.8 594.7,1022.8 597.8,1022.8 600.8,1022.8 603.8,1022.8 606.8,1022.7 609.8,1022.7 612.8,1022.7 615.8,1022.7 618.8,1022.7 621.8,1022.7 624.8,1022.7 627.8,1022.7 630.8,1022.7 633.9,1022.7 636.9,1022.7 639.9,1022.7 642.9,1022.7 645.9,1022.7 648.9,1022.7 651.9,1022.7 654.9,1022.7 657.9,1022.7 660.9,1022.7 663.9,1022.6 666.9,1022.6 669.9,1022.6 673,1022.6 676,1022.6 679,1022.6 682,1022.6 685,1022.6 688,1022.6 691,1022.6 694,1022.6 697.1,1022.7 700.1,1022.7 703.1,1022.7 706.1,1022.7 709.1,1022.7 712.2,1022.7 715.2,1022.7 718.2,1022.8 721.2,1022.8 724.2,1022.8 727.2,1022.8 730.2,1022.8 733.3,1022.8 736.3,1022.8 739.3,1022.7 742.3,1022.7 745.3,1022.7 748.3,1022.7 751.3,1022.7 754.3,1022.7 757.3,1022.7 760.3,1022.6 763.3,1022.6 766.3,1022.6 769.3,1022.6 772.3,1022.5 775.3,1022.5 778.3,1022.5 781.3,1022.4 784.3,1022.4 787.3,1022.3 790.3,1022.3 793.3,1022.2 796.3,1022.2 799.3,1022.1 802.3,1022.1 805.3,1022 808.3,1022 811.3,1021.9 814.3,1021.8 817.3,1021.8 820.2,1021.7 823.2,1021.6 826.2,1021.6 829.2,1021.5 832.2,1021.4 835.2,1021.3 838.2,1021.2 841.2,1021.2 844.2,1021.1 847.2,1021 850.2,1020.9 853.2,1020.8 856.2,1020.7 859.2,1020.6 862.1,1020.5 865.1,1020.4 868.1,1020.3 871.1,1020.2 874.1,1020.1 877.1,1019.9 880.1,1019.8 883.1,1019.7 886.1,1019.6 889.1,1019.5 892.1,1019.3 895.1,1019.2 898.1,1019.1 901.1,1018.9 904.1,1018.8 907.1,1018.7 910.1,1018.5 913.1,1018.4 916.1,1018.2 919.1,1018.1 922.1,1017.9 925.1,1017.8 928.1,1017.6 931.1,1017.4 934.1,1017.3 937.1,1017.1 940.1,1016.9 943.1,1016.8 946.1,1016.6 949.1,1016.4 952.1,1016.2 955.1,1016 958.1,1015.9 961.2,1015.7 964.2,1015.5 967.2,1015.3 970.2,1015.1 973.2,1014.9 976.2,1014.6 979.2,1014.4 982.2,1014.2 985.2,1013.9 988.2,1013.7 991.3,1013.5 994.3,1013.2 997.3,1012.9 1000.3,1012.6 1003.3,1012.4 1006.3,1012.1 1009.3,1011.7 1012.3,1011.4 1015.3,1011.1 1018.3,1010.7 1021.3,1010.4 1024.3,1010 1027.3,1009.6 1030.3,1009.2 1033.3,1008.8 1036.2,1008.4 1039.2,1008 1042.2,1007.5 1045.2,1007.1 1048.2,1006.6 1051.1,1006.1 1054.1,1005.6 1057.1,1005 1060,1004.5 1063,1003.9 1065.9,1003.3 1068.9,1002.7 1071.8,1002.1 1074.8,1001.5 1077.7,1000.8 1080.6,1000.1 1083.6,999.4 1086.5,998.7 1089.4,998 1092.3,997.2 1095.2,996.4 1098.1,995.6 1101,994.8 1103.9,993.9 1106.8,993 1109.7,992.1 1112.6,991.2 1115.5,990.2 1118.3,989.3 1121.2,988.2 1124,987.2 1126.9,986.2 1129.7,985.1 1132.5,984 1135.3,982.8 1138.1,981.7 1140.9,980.5 1143.7,979.3 1146.4,978 1149.1,976.8 1151.8,975.5 1154.5,974.1 1157.2,972.8 1159.9,971.4 1162.5,970 1165.2,968.6 1167.8,967.1 1170.3,965.6 1172.9,964.1 1175.4,962.5 1177.9,960.9 1180.4,959.3 1182.9,957.6 1185.3,956 1187.7,954.2 1190.1,952.5 1192.5,950.7 1194.8,948.9 1197.1,947.1 1199.3,945.2 1201.6,943.3 1203.8,941.4 1205.9,939.4 1208,937.4 1210.1,935.3 1212.2,933.3 1214.2,931.2 1216.2,929 1218.2,926.8 1220.1,924.6 1222,922.4 1223.8,920.1 1225.6,917.8 1227.3,915.4 1229,913.1 1230.7,910.6 1232.4,908.2 1234,905.7 1235.5,903.2 1237.1,900.6 1238.6,898.1 1240,895.5 1241.5,892.9 1242.9,890.2 1244.3,887.6 1245.6,884.9 1247,882.2 1248.3,879.4 1249.6,876.7 1250.9,873.9 1252.2,871.2 1253.4,868.4 1254.6,865.6 1255.9,862.8 1257.1,860 1258.3,857.1 1259.5,854.3 1260.6,851.5 1261.8,848.6 1263,845.8 1264.2,842.9 1265.3,840.1 1266.5,837.2 1267.7,834.4 1268.9,831.5 1270,828.7 1271.2,825.9 1272.4,823.1 1273.6,820.2 1274.8,817.4 1276.1,814.6 1277.3,811.8 1278.5,809.1 1279.8,806.3 1281.1,803.6 1282.4,800.8 1283.7,798.1 1285,795.4 1286.3,792.7 1287.7,790 1289,787.4 1290.4,784.7 1291.7,782 1293.1,779.4 1294.4,776.7 1295.8,774.1 1297.2,771.4 1298.5,768.8 1299.9,766.1 1301.3,763.5 1302.6,760.9 1304,758.2 1305.3,755.6 1306.6,752.9 1308,750.3 1309.3,747.6 1310.6,744.9 1311.9,742.3 1313.1,739.6 1314.4,736.9 1315.6,734.2 1316.9,731.5 1318.1,728.7 1319.2,726 1320.4,723.3 1321.6,720.5 1322.7,717.7 1323.8,715 1324.9,712.2 1326,709.4 1327.1,706.6 1328.2,703.8 1329.2,701 1330.3,698.2 1331.3,695.4 1332.4,692.5 1333.4,689.7 1334.5,686.9 1335.5,684 1336.5,681.2 1337.5,678.4 1338.6,675.6 1339.6,672.7 1340.6,669.9 1341.7,667.1 1342.7,664.2 1343.8,661.4 1344.8,658.6 1345.9,655.8 1346.9,653 1348,650.2 1349.1,647.4 1350.2,644.6 1351.3,641.8 1352.4,639 1353.5,636.3 1354.7,633.5 1355.8,630.8 1357,628 1358.2,625.2 1359.3,622.5 1360.5,619.8 1361.7,617 1362.9,614.3 1364.1,611.6 1365.3,608.8 1366.5,606.1 1367.8,603.4 1369,600.7 1370.3,598 1371.5,595.3 1372.8,592.6 1374.1,589.9 1375.3,587.2 1376.6,584.5 1377.9,581.8 1379.2,579.1 1380.5,576.5 1381.8,573.8 1383.1,571.1 1384.4,568.4 1385.8,565.7 1387.1,563.1 1388.4,560.4 1389.7,557.7 1391,555 1392.3,552.3 1393.5,549.6 1394.8,546.9 1396.1,544.2 1397.3,541.5 1398.5,538.7 1399.7,536 1400.9,533.2 1402.1,530.5 1403.3,527.7 1404.4,524.9 1405.5,522.1 1406.6,519.3 1407.7,516.5 1408.7,513.7 1409.7,510.8 1410.7,508"/>
<path fill="#ff8000" d="M689 1030.5l7.2 -11.8h-14.5zM769.3 1030.4l7.2 -11.8h-14.5zM810.3 1029.8l7.2 -11.8h-14.5zM850.2 1028.8l7.2 -11.8h-14.5zM880.1 1027.7l7.2 -11.8h-14.5zM905.1 1026.6l7.2 -11.8h-14.5zM925.1 1025.6l7.2 -11.8h-14.5zM944.1 1024.6l7.2 -11.8h-14.5zM960.1 1023.6l7.2 -11.8h-14.5zM975.2 1022.6l7.2 -11.8h-14.5zM988.2 1021.6l7.2 -11.8h-14.5zM1000.3 1020.5l7.2 -11.8h-14.5zM1009.2 1019.6l7.2 -11.8h-14.5zM1017.6 1018.7l7.2 -11.8h-14.5zM1025.5 1017.7l7.2 -11.8h-14.5zM1032.9 1016.8l7.2 -11.8h-14.5zM1039.9 1015.8l7.2 -11.8h-14.5zM1046.4 1014.7l7.2 -11.8h-14.5zM1052.5 1013.7l7.2 -11.8h-14.5zM1058.3 1012.7l7.2 -11.8h-14.5zM1063.7 1011.7l7.2 -11.8h-14.5zM1068.8 1010.6l7.2 -11.8h-14.5zM1073.5 1009.6l7.2 -11.8h-14.5z"/>
<path fill="#ff8000" d="M1075.7 1010.7l8.7 -14.2h-17.4zM1080.1 1009.7l8.7 -14.2h-17.4zM1084.2 1008.7l8.7 -14.2h-17.4zM1088 1007.8l8.7 -14.2h-17.4zM1091.6 1006.8l8.7 -14.2h-17.4zM1095 1005.9l8.7 -14.2h-17.4zM1098.2 1005l8.7 -14.2h-17.4zM1101.2 1004.2l8.7 -14.2h-17.4zM1104 1003.3l8.7 -14.2h-17.4zM1106.9 1002.4l8.7 -14.2h-17.4zM1109.8 1001.5l8.7 -14.2h-17.4zM1112.6 1000.6l8.7 -14.2h-17.4zM1115.5 999.7l8.7 -14.2h-17.4zM1118.3 998.7l8.7 -14.2h-17.4zM1121.1 997.7l8.7 -14.2h-17.4zM1124 996.7l8.7 -14.2h-17.4zM1126.8 995.6l8.7 -14.2h-17.4zM1129.6 994.6l8.7 -14.2h-17.4zM1132.4 993.5l8.7 -14.2h-17.4zM1135.1 992.4l8.7 -14.2h-17.4zM1137.9 991.2l8.7 -14.2h-17.4zM1140.7 990l8.7 -14.2h-17.4zM1143.4 988.8l8.7 -14.2h-17.4zM1146.2 987.6l8.7 -14.2h-17.4zM1148.9 986.3l8.7 -14.2h-17.4zM1151.6 985l8.7 -14.2h-17.4zM1154.3 983.7l8.7 -14.2h-17.4zM1157 982.4l8.7 -14.2h-17.4zM1159.6 981l8.7 -14.2h-17.4zM1162.3 979.6l8.7 -14.2h-17.4zM1164.9 978.1l8.7 -14.2h-17.4zM1167.5 976.7l8.7 -14.2h-17.4zM1170.1 975.2l8.7 -14.2h-17.4zM1172.7 973.6l8.7 -14.2h-17.4zM1175.2 972.1l8.7 -14.2h-17.4zM1177.8 970.4l8.7 -14.2h-17.4zM1180.3 968.8l8.7 -14.2h-17.4zM1182.8 967.1l8.7 -14.2h-17.4zM1185.3 965.4l8.7 -14.2h-17.4zM1187.7 963.7l8.7 -14.2h-17.4zM1190.1 961.9l8.7 -14.2h-17.4zM1192.5 960.1l8.7 -14.2h-17.4zM1194.9 958.3l8.7 -14.2h-17.4zM1197.2 956.4l8.7 -14.2h-17.4zM1199.5 954.5l8.7 -14.2h-17.4zM1201.8 952.5l8.7 -14.2h-17.4zM1204 950.5l8.7 -14.2h-17.4zM1206.3 948.5l8.7 -14.2h-17.4zM1208.4 946.4l8.7 -14.2h-17.4zM1210.6 944.3l8.7 -14.2h-17.4zM1212.7 942.2l8.7 -14.2h-17.4zM1214.8 940l8.7 -14.2h-17.4zM1216.8 937.8l8.7 -14.2h-17.4zM1218.8 935.6l8.7 -14.2h-17.4zM1220.7 933.3l8.7 -14.2h-17.4zM1222.6 931l8.7 -14.2h-17.4zM1224.5 928.6l8.7 -14.2h-17.4zM1226.3 926.3l8.7 -14.2h-17.4zM1228.1 923.8l8.7 -14.2h-17.4zM1229.8 921.4l8.7 -14.2h-17.4zM1231.5 918.9l8.7 -14.2h-17.4zM1233.2 916.4l8.7 -14.2h-17.4zM1234.8 913.9l8.7 -14.2h-17.4zM1236.3 911.3l8.7 -14.2h-17.4zM1237.9 908.7l8.7 -14.2h-17.4zM1239.4 906.1l8.7 -14.2h-17.4zM1240.8 903.5l8.7 -14.2h-17.4zM1242.2 900.9l8.7 -14.2h-17.4zM1243.6 898.2l8.7 -14.2h-17.4zM1245 895.5l8.7 -14.2h-17.4zM1246.4 892.9l8.7 -14.2h-17.4zM1247.7 890.2l8.7 -14.2h-17.4zM1249 887.5l8.7 -14.2h-17.4zM1250.3 884.7l8.7 -14.2h-17.4zM1251.5 882l8.7 -14.2h-17.4zM1252.7 879.3l8.7 -14.2h-17.4zM1254 876.6l8.7 -14.2h-17.4zM1255.2 873.8l8.7 -14.2h-17.4zM1256.4 871.1l8.7 -14.2h-17.4zM1257.5 868.3l8.7 -14.2h-17.4zM1258.7 865.5l8.7 -14.2h-17.4zM1259.9 862.8l8.7 -14.2h-17.4zM1261 860l8.7 -14.2h-17.4zM1262.2 857.2l8.7 -14.2h-17.4zM1263.3 854.4l8.7 -14.2h-17.4zM1264.5 851.7l8.7 -14.2h-17.4zM1265.6 848.9l8.7 -14.2h-17.4zM1266.7 846.1l8.7 -14.2h-17.4zM1267.9 843.4l8.7 -14.2h-17.4zM1269 840.6l8.7 -14.2h-17.4zM1270.2 837.8l8.7 -14.2h-17.4zM1271.3 835l8.7 -14.2h-17.4zM1272.5 832.3l8.7 -14.2h-17.4zM1273.7 829.5l8.7 -14.2h-17.4zM1274.9 826.8l8.7 -14.2h-17.4zM1276.1 824l8.7 -14.2h-17.4zM1277.3 821.3l8.7 -14.2h-17.4zM1278.5 818.5l8.7 -14.2h-17.4zM1279.8 815.8l8.7 -14.2h-17.4zM1281 813.1l8.7 -14.2h-17.4zM1282.3 810.4l8.7 -14.2h-17.4zM1283.6 807.7l8.7 -14.2h-17.4zM1284.9 805l8.7 -14.2h-17.4zM1286.3 802.3l8.7 -14.2h-17.4zM1287.6 799.6l8.7 -14.2h-17.4zM1289 796.9l8.7 -14.2h-17.4zM1290.3 794.2l8.7 -14.2h-17.4zM1291.7 791.6l8.7 -14.2h-17.4zM1293 788.9l8.7 -14.2h-17.4zM1294.4 786.2l8.7 -14.2h-17.4zM1295.8 783.6l8.7 -14.2h-17.4zM1297.2 780.9l8.7 -14.2h-17.4zM1298.5 778.2l8.7 -14.2h-17.4zM1299.9 775.6l8.7 -14.2h-17.4zM1301.3 772.9l8.7 -14.2h-17.4zM1302.7 770.2l8.7 -14.2h-17.4zM1304 767.6l8.7 -14.2h-17.4zM1305.4 764.9l8.7 -14.2h-17.4zM1306.7 762.2l8.7 -14.2h-17.4zM1308.1 759.5l8.7 -14.2h-17.4zM1309.4 756.8l8.7 -14.2h-17.4zM1310.7 754.1l8.7 -14.2h-17.4zM1312 751.4l8.7 -14.2h-17.4zM1313.3 748.7l8.7 -14.2h-17.4zM1314.6 746l8.7 -14.2h-17.4zM1315.8 743.3l8.7 -14.2h-17.4zM1317 740.5l8.7 -14.2h-17.4zM1318.2 737.8l8.7 -14.2h-17.4zM1319.4 735l8.7 -14.2h-17.4zM1320.6 732.3l8.7 -14.2h-17.4zM1321.7 729.5l8.7 -14.2h-17.4zM1322.9 726.7l8.7 -14.2h-17.4zM1324 723.9l8.7 -14.2h-17.4zM1325.1 721.2l8.7 -14.2h-17.4zM1326.2 718.4l8.7 -14.2h-17.4zM1327.3 715.6l8.7 -14.2h-17.4zM1328.4 712.8l8.7 -14.2h-17.4zM1329.4 710l8.7 -14.2h-17.4zM1330.5 707.1l8.7 -14.2h-17.4zM1331.5 704.3l8.7 -14.2h-17.4zM1332.5 701.5l8.7 -14.2h-17.4zM1333.6 698.7l8.7 -14.2h-17.4zM1334.6 695.9l8.7 -14.2h-17.4zM1335.6 693.1l8.7 -14.2h-17.4zM1336.7 690.2l8.7 -14.2h-17.4zM1337.7 687.4l8.7 -14.2h-17.4zM1338.7 684.6l8.7 -14.2h-17.4zM1339.7 681.8l8.7 -14.2h-17.4zM1340.8 679l8.7 -14.2h-17.4zM1341.8 676.2l8.7 -14.2h-17.4zM1342.8 673.3l8.7 -14.2h-17.4zM1343.9 670.5l8.7 -14.2h-17.4zM1344.9 667.7l8.7 -14.2h-17.4zM1346 664.9l8.7 -14.2h-17.4zM1347.1 662.1l8.7 -14.2h-17.4zM1348.1 659.3l8.7 -14.2h-17.4zM1349.2 656.5l8.7 -14.2h-17.4zM1350.3 653.7l8.7 -14.2h-17.4zM1351.4 650.9l8.7 -14.2h-17.4zM1352.6 648.1l8.7 -14.2h-17.4zM1353.7 645.4l8.7 -14.2h-17.4zM1354.8 642.6l8.7 -14.2h-17.4zM1356 639.8l8.7 -14.2h-17.4zM1357.1 637.1l8.7 -14.2h-17.4zM1358.3 634.3l8.7 -14.2h-17.4zM1359.5 631.5l8.7 -14.2h-17.4zM1360.7 628.8l8.7 -14.2h-17.4zM1361.9 626l8.7 -14.2h-17.4zM1363.1 623.3l8.7 -14.2h-17.4zM1364.3 620.5l8.7 -14.2h-17.4zM1365.5 617.8l8.7 -14.2h-17.4zM1366.8 615.1l8.7 -14.2h-17.4zM1368 612.3l8.7 -14.2h-17.4zM1369.3 609.6l8.7 -14.2h-17.4zM1370.5 606.9l8.7 -14.2h-17.4zM1371.8 604.2l8.7 -14.2h-17.4zM1373.1 601.5l8.7 -14.2h-17.4zM1374.3 598.7l8.7 -14.2h-17.4zM1375.6 596l8.7 -14.2h-17.4zM1376.9 593.3l8.7 -14.2h-17.4zM1378.2 590.6l8.7 -14.2h-17.4zM1379.5 587.9l8.7 -14.2h-17.4zM1380.8 585.2l8.7 -14.2h-17.4zM1382.2 582.5l8.7 -14.2h-17.4zM1383.5 579.8l8.7 -14.2h-17.4zM1384.8 577.1l8.7 -14.2h-17.4zM1386.1 574.4l8.7 -14.2h-17.4zM1387.4 571.8l8.7 -14.2h-17.4zM1388.7 569.1l8.7 -14.2h-17.4zM1390 566.4l8.7 -14.2h-17.4zM1391.3 563.6l8.7 -14.2h-17.4zM1392.6 560.9l8.7 -14.2h-17.4zM1393.9 558.2l8.7 -14.2h-17.4zM1395.2 555.5l8.7 -14.2h-17.4zM1396.4 552.8l8.7 -14.2h-17.4zM1397.7 550.1l8.7 -14.2h-17.4zM1398.9 547.3l8.7 -14.2h-17.4zM1400.1 544.6l8.7 -14.2h-17.4zM1401.3 541.8l8.7 -14.2h-17.4zM1402.5 539.1l8.7 -14.2h-17.4zM1403.6 536.3l8.7 -14.2h-17.4zM1404.8 533.5l8.7 -14.2h-17.4zM1405.9 530.7l8.7 -14.2h-17.4zM1406.9 527.9l8.7 -14.2h-17.4zM1408 525.1l8.7 -14.2h-17.4zM1409 522.3l8.7 -14.2h-17.4zM1410 519.4l8.7 -14.2h-17.4zM1410.9 516.6l8.7 -14.2h-17.4z"/>
<polygon fill="#ff8000" stroke="#ff8000" stroke-width="2" stroke-linejoin="round" points="1312,736 1375.3,727.5 1370.3,735.5 1312,745"/>
<path fill="#ff8000" d="M1317.7 745.9l7.2 -11.8h-14.5zM1327.8 745l7.2 -11.8h-14.5zM1329.6 744l7.2 -11.8h-14.5zM1340.4 744l7.2 -11.8h-14.5zM1346.1 745.3l7.2 -11.8h-14.5zM1350.6 745.8l7.2 -11.8h-14.5zM1355.6 744.2l7.2 -11.8h-14.5zM1364.5 744l7.2 -11.8h-14.5zM1373.1 744.5l7.2 -11.8h-14.5z"/>
<path fill="#ff8000" d="M1369.3 738.9l7.2 -11.8h-14.5z"/>
<polygon fill="#ff8000" stroke="#ff8000" stroke-width="2" stroke-linejoin="round" points="1322,715 1345.5,713 1340.5,719 1322,722"/>
<path fill="#ff8000" d="M1326.7 724.3l7.2 -11.8h-14.5zM1335.8 725.2l7.2 -11.8h-14.5zM1342.3 725.7l7.2 -11.8h-14.5z"/>
<path fill="#ff8000" d="M1339.5 724.4l7.2 -11.8h-14.5z"/>
<polygon fill="#ff8000" stroke="#ff8000" stroke-width="2" stroke-linejoin="round" points="1330,691 1367.2,690.5 1362.2,697.5 1330,699"/>
<path fill="#ff8000" d="M1338.3 704.2l7.2 -11.8h-14.5zM1344.3 702.4l7.2 -11.8h-14.5zM1349.8 702.3l7.2 -11.8h-14.5zM1354 703l7.2 -11.8h-14.5zM1364.4 702.3l7.2 -11.8h-14.5z"/>
<path fill="#ff8000" d="M1361.2 701.9l7.2 -11.8h-14.5z"/>
<polygon fill="#ff8000" stroke="#ff8000" stroke-width="2" stroke-linejoin="round" points="1340,671 1360,670 1355,676 1340,678"/>
<path fill="#ff8000" d="M1345.2 681.5l7.2 -11.8h-14.5zM1352.3 681.9l7.2 -11.8h-14.5zM1357.3 682.5l7.2 -11.8h-14.5z"/>
<path fill="#ff8000" d="M1354 681.4l7.2 -11.8h-14.5z"/>
<polygon fill="#ff8000" stroke="#ff8000" stroke-width="2" stroke-linejoin="round" points="1346,655 1366,654 1361,660 1346,662"/>
<path fill="#ff8000" d="M1351.7 666.6l7.2 -11.8h-14.5zM1359.2 664.9l7.2 -11.8h-14.5zM1364.6 666.4l7.2 -11.8h-14.5z"/>
<path fill="#ff8000" d="M1360 665.4l7.2 -11.8h-14.5z"/>
<polygon fill="#ff8000" stroke="#ff8000" stroke-width="2" stroke-linejoin="round" points="1352,631.5 1437.7,631 1432.7,639 1352,640.5"/>
<path fill="#ff8000" d="M1356.8 644.5l7.2 -11.8h-14.5zM1368.3 645.6l7.2 -11.8h-14.5zM1374.8 644.8l7.2 -11.8h-14.5zM1386.3 645.3l7.2 -11.8h-14.5zM1394.9 644.5l7.2 -11.8h-14.5zM1401.1 643.9l7.2 -11.8h-14.5zM1409.7 645.4l7.2 -11.8h-14.5zM1417.4 645.1l7.2 -11.8h-14.5zM1422.8 645.6l7.2 -11.8h-14.5zM1435.9 645.8l7.2 -11.8h-14.5z"/>
<path fill="#ff8000" d="M1431.7 642.4l7.2 -11.8h-14.5z"/>
<polygon fill="#ff8000" stroke="#ff8000" stroke-width="2" stroke-linejoin="round" points="1358,622 1382,621 1377,627 1358,629"/>
<path fill="#ff8000" d="M1364.9 633.6l7.2 -11.8h-14.5zM1370.4 633.9l7.2 -11.8h-14.5zM1379.9 632.5l7.2 -11.8h-14.5z"/>
<path fill="#ff8000" d="M1376 632.4l7.2 -11.8h-14.5z"/>
<polygon fill="#ff8000" stroke="#ff8000" stroke-width="2" stroke-linejoin="round" points="1364,597 1455.3,591 1450.3,602 1364,609"/>
<path fill="#ff8000" d="M1368.5 610.2l7.2 -11.8h-14.5zM1378.5 611l7.2 -11.8h-14.5zM1385.4 609.2l7.2 -11.8h-14.5zM1394.5 609.3l7.2 -11.8h-14.5zM1401.8 609.6l7.2 -11.8h-14.5zM1406.3 611.1l7.2 -11.8h-14.5zM1412.5 609.5l7.2 -11.8h-14.5zM1421.9 610.9l7.2 -11.8h-14.5zM1431.1 610.8l7.2 -11.8h-14.5zM1439 610.3l7.2 -11.8h-14.5zM1446.3 609.4l7.2 -11.8h-14.5zM1449.3 610.4l7.2 -11.8h-14.5z"/>
<path fill="#ff8000" d="M1449.3 602.4l7.2 -11.8h-14.5z"/>
<polygon fill="#ff8000" stroke="#ff8000" stroke-width="3" stroke-linejoin="round" points="1362,610 1372,580 1400,578 1430,583 1428,600 1400,606"/>
<polygon fill="#ff8000" stroke="#ff8000" stroke-width="2" stroke-linejoin="round" points="1374,590 1454.6,588 1449.6,596 1374,599"/>
<path fill="#ff8000" d="M1380.2 602.9l7.2 -11.8h-14.5zM1392.5 602.4l7.2 -11.8h-14.5zM1403.6 602.5l7.2 -11.8h-14.5zM1409.1 602.1l7.2 -11.8h-14.5zM1422.8 603.3l7.2 -11.8h-14.5zM1427.5 603.2l7.2 -11.8h-14.5zM1442.9 602.4l7.2 -11.8h-14.5zM1449.4 601.6l7.2 -11.8h-14.5z"/>
<path fill="#ff8000" d="M1448.6 599.4l7.2 -11.8h-14.5z"/>
<polygon fill="#ff8000" stroke="#ff8000" stroke-width="2" stroke-linejoin="round" points="1380,567.5 1551,567 1546,575 1380,576.5"/>
<path fill="#ff8000" d="M1389.1 580.6l7.2 -11.8h-14.5zM1401.7 579.5l7.2 -11.8h-14.5zM1417.1 580.7l7.2 -11.8h-14.5zM1423.6 581.3l7.2 -11.8h-14.5zM1437.1 580.6l7.2 -11.8h-14.5zM1450.2 579.6l7.2 -11.8h-14.5zM1460.7 580.4l7.2 -11.8h-14.5zM1476.6 581.6l7.2 -11.8h-14.5zM1482 580.6l7.2 -11.8h-14.5zM1492.6 580.5l7.2 -11.8h-14.5zM1511.1 581.6l7.2 -11.8h-14.5zM1519.8 580.2l7.2 -11.8h-14.5zM1529 580.9l7.2 -11.8h-14.5zM1547.9 579.7l7.2 -11.8h-14.5z"/>
<path fill="#ff8000" d="M1545 578.4l7.2 -11.8h-14.5z"/>
<polygon fill="#ff8000" stroke="#ff8000" stroke-width="2" stroke-linejoin="round" points="1382,561.5 1514.3,561.5 1509.3,569.5 1382,570.5"/>
<path fill="#ff8000" d="M1394 573.7l7.2 -11.8h-14.5zM1400.8 574.2l7.2 -11.8h-14.5zM1418.7 574.4l7.2 -11.8h-14.5zM1428.1 575.2l7.2 -11.8h-14.5zM1438.4 575.4l7.2 -11.8h-14.5zM1451.4 574.9l7.2 -11.8h-14.5zM1465.6 574.1l7.2 -11.8h-14.5zM1481.3 574.7l7.2 -11.8h-14.5zM1492.5 574.7l7.2 -11.8h-14.5zM1506.9 574.1l7.2 -11.8h-14.5z"/>
<path fill="#ff8000" d="M1508.3 572.9l7.2 -11.8h-14.5z"/>
<polygon fill="#ff8000" stroke="#ff8000" stroke-width="2" stroke-linejoin="round" points="1388,544.5 1527.9,544 1522.9,552 1388,553.5"/>
<path fill="#ff8000" d="M1393.9 557.9l7.2 -11.8h-14.5zM1409.1 557.7l7.2 -11.8h-14.5zM1422.4 557.9l7.2 -11.8h-14.5zM1433.7 557l7.2 -11.8h-14.5zM1444 558.4l7.2 -11.8h-14.5zM1456.8 557.2l7.2 -11.8h-14.5zM1462.8 558.6l7.2 -11.8h-14.5zM1473.3 558.8l7.2 -11.8h-14.5zM1490.6 556.7l7.2 -11.8h-14.5zM1496.1 558.2l7.2 -11.8h-14.5zM1507.6 556.6l7.2 -11.8h-14.5zM1524.1 557.4l7.2 -11.8h-14.5z"/>
<path fill="#ff8000" d="M1521.9 555.4l7.2 -11.8h-14.5z"/>
<polygon fill="#ff8000" stroke="#ff8000" stroke-width="3" stroke-linejoin="round" points="1386,548 1394,522 1449,521 1449,541 1420,548"/>
<path fill="#ff8000" d="M1397.1 546.4l7.2 -11.8h-14.5zM1402.8 548.6l7.2 -11.8h-14.5zM1408.4 546.7l7.2 -11.8h-14.5zM1420.9 549.5l7.2 -11.8h-14.5zM1430.9 546.3l7.2 -11.8h-14.5zM1436 548.9l7.2 -11.8h-14.5zM1444.1 548.6l7.2 -11.8h-14.5z"/>
<polygon fill="#ff8000" stroke="#ff8000" stroke-width="2" stroke-linejoin="round" points="1398,514 1508.9,513.5 1503.9,520.5 1398,522"/>
<path fill="#ff8000" d="M1403.6 525.1l7.2 -11.8h-14.5zM1413.6 525l7.2 -11.8h-14.5zM1428.1 526.2l7.2 -11.8h-14.5zM1438.9 525.3l7.2 -11.8h-14.5zM1446.3 525.4l7.2 -11.8h-14.5zM1462.6 527.3l7.2 -11.8h-14.5zM1474.1 525.1l7.2 -11.8h-14.5zM1477.4 527.2l7.2 -11.8h-14.5zM1491.5 526.8l7.2 -11.8h-14.5zM1501 526l7.2 -11.8h-14.5z"/>
<path fill="#ff8000" d="M1502.9 524.9l7.2 -11.8h-14.5z"/>
<polygon fill="#ff8000" stroke="#ff8000" stroke-width="2" stroke-linejoin="round" points="1400,509 1500.7,509 1495.7,515 1400,516"/>
<path fill="#ff8000" d="M1409 520.2l7.2 -11.8h-14.5zM1421.9 519.2l7.2 -11.8h-14.5zM1435 521.2l7.2 -11.8h-14.5zM1442 520.3l7.2 -11.8h-14.5zM1459.5 520.1l7.2 -11.8h-14.5zM1466.3 519.6l7.2 -11.8h-14.5zM1481.5 519.2l7.2 -11.8h-14.5zM1497.2 521.1l7.2 -11.8h-14.5z"/>
<path fill="#ff8000" d="M1494.7 520.4l7.2 -11.8h-14.5z"/>
<polyline fill="none" stroke="#ff8000" stroke-width="7" stroke-linecap="round" stroke-linejoin="round" points="1411,507 1414,506.8 1417,506.6 1420,506.4 1423,506.2 1426,506.1 1429,505.9 1432,505.7 1435,505.5 1438,505.3 1441,505.1 1444,505 1447,504.8 1450,504.6 1453,504.4 1456,504.3 1459,504.1 1462,503.9 1465,503.7 1468,503.6 1471,503.4 1474,503.2 1477,503 1480,502.9 1483,502.7 1486,502.5 1489,502.4 1492,502.2 1495,502 1498,501.9 1501,501.7 1504,501.5 1507,501.4 1510,501.2 1513,501 1516,500.8 1519,500.7 1522,500.5 1525,500.3 1528,500.2 1531,500 1534,499.8 1537,499.7 1540,499.5 1543,499.3 1546,499.1 1549,499 1552.1,498.8 1555.1,498.6 1558.1,498.4 1561.1,498.3 1564.1,498.1 1567.1,497.9 1570.1,497.7 1573.1,497.5 1576.1,497.4 1579.1,497.2 1582.1,497 1585.1,496.8 1588.1,496.6 1591.1,496.4 1594.1,496.2 1597.1,496 1600.1,495.8 1603.1,495.7 1606.1,495.5 1609.1,495.3 1612.1,495.1 1615.2,494.9 1618.2,494.6 1621.2,494.4 1624.2,494.2 1627.2,494 1630.2,493.8 1633.2,493.6 1636.2,493.4 1639.2,493.2 1642.2,492.9 1645.2,492.7 1648.2,492.5 1651.2,492.3 1654.2,492 1657.2,491.8 1660.2,491.6 1663.2,491.3 1666.2,491.1 1669.2,490.8 1672.2,490.6 1675.2,490.3 1678.2,490.1 1681.2,489.8 1684.2,489.6 1687.2,489.3 1690.2,489 1693.2,488.8 1696.2,488.5 1699.1,488.2 1702.1,487.9 1705.1,487.7 1708.1,487.4 1711.1,487.1 1714.1,486.8 1717.1,486.5 1720.1,486.2 1723.1,485.9 1726.1,485.6 1729.1,485.3 1732.1,485 1735.1,484.7 1738,484.3 1741,484 1744,483.7 1747,483.3 1750,483 1753,482.7 1756,482.3 1758.9,482 1761.9,481.6 1764.9,481.3 1767.9,480.9 1770.9,480.5 1773.9,480.2 1776.8,479.8 1779.8,479.4 1782.8,479 1785.8,478.6 1788.8,478.2 1791.7,477.8 1794.7,477.4 1797.7,477 1800.7,476.6 1803.6,476.2 1806.6,475.7 1809.6,475.3 1812.5,474.9 1815.5,474.4 1818.5,474 1821.5,473.5 1824.4,473.1 1827.4,472.6 1830.4,472.1 1833.3,471.7 1836.3,471.2 1839.3,470.7 1842.2,470.2 1845.2,469.7 1848.1,469.2 1851.1,468.7 1854.1,468.2 1857,467.7 1860,467.1 1862.9,466.6 1865.9,466.1 1868.8,465.5 1871.8,465 1874.8,464.4 1877.7,463.9 1880.7,463.3 1883.6,462.7 1886.6,462.1 1889.5,461.5 1892.4,460.9 1895.4,460.3 1898.3,459.7 1901.3,459.1 1904.2,458.5 1907.2,457.9 1910.1,457.2 1913,456.6 1916,455.9 1918.9,455.3 1921.9,454.6 1924.8,454 1927.7,453.3 1930.7,452.6 1933.6,451.9 1936.5,451.2 1939.4,450.5 1942.4,449.8 1945.3,449.1 1948.2,448.3 1951.1,447.6 1954.1,446.8 1957,446.1 1959.9,445.3 1962.8,444.6"/>
<path fill="#ff8000" d="M1421 514.2l7.2 -11.8h-14.5zM1444.2 512.8l7.2 -11.8h-14.5zM1469.9 511.3l7.2 -11.8h-14.5zM1492 510.1l7.2 -11.8h-14.5zM1510.4 509l7.2 -11.8h-14.5zM1532 507.8l7.2 -11.8h-14.5zM1552 506.7l7.2 -11.8h-14.5zM1579.7 505l7.2 -11.8h-14.5zM1604.5 503.4l7.2 -11.8h-14.5zM1620.6 502.3l7.2 -11.8h-14.5zM1633.9 501.4l7.2 -11.8h-14.5zM1645.8 500.5l7.2 -11.8h-14.5zM1658 499.6l7.2 -11.8h-14.5zM1670.5 498.6l7.2 -11.8h-14.5zM1679.7 497.8l7.2 -11.8h-14.5zM1692.8 496.7l7.2 -11.8h-14.5zM1705.8 495.5l7.2 -11.8h-14.5zM1711.5 494.9l7.2 -11.8h-14.5zM1717.6 494.3l7.2 -11.8h-14.5z"/>
<path fill="#ff8000" d="M1723.6 494.8l8.6 -13.9h-17.1zM1728.2 494.1l8.6 -13.9h-17.1zM1734.1 494.5l8.6 -13.9h-17.1zM1737.3 493.9l8.6 -13.9h-17.1zM1741.7 492.6l8.6 -13.9h-17.1zM1746.5 493.3l8.6 -13.9h-17.1zM1749.5 491.8l8.6 -13.9h-17.1zM1753.9 490.5l8.6 -13.9h-17.1zM1759.4 490.5l8.6 -13.9h-17.1zM1764.9 489.3l8.6 -13.9h-17.1zM1768.8 489.1l8.6 -13.9h-17.1zM1775.5 489.9l8.6 -13.9h-17.1zM1781.1 488.2l8.6 -13.9h-17.1zM1785.5 489.1l8.6 -13.9h-17.1zM1791 487.9l8.6 -13.9h-17.1zM1796.3 485.2l8.6 -13.9h-17.1zM1801.4 487.1l8.6 -13.9h-17.1zM1805.2 486.5l8.6 -13.9h-17.1zM1811.1 483.2l8.6 -13.9h-17.1zM1815.8 484.8l8.6 -13.9h-17.1zM1820.7 482.7l8.6 -13.9h-17.1zM1825.8 482.1l8.6 -13.9h-17.1zM1831.7 482.5l8.6 -13.9h-17.1zM1834.2 480.1l8.6 -13.9h-17.1zM1838.8 480.1l8.6 -13.9h-17.1zM1843.8 480.4l8.6 -13.9h-17.1zM1847.2 479.3l8.6 -13.9h-17.1zM1851 477.9l8.6 -13.9h-17.1zM1853.7 478.9l8.6 -13.9h-17.1zM1856.8 477.9l8.6 -13.9h-17.1zM1860.6 476.6l8.6 -13.9h-17.1zM1863.4 474.7l8.6 -13.9h-17.1zM1866.7 475.6l8.6 -13.9h-17.1zM1872.3 474.1l8.6 -13.9h-17.1zM1876.6 472.5l8.6 -13.9h-17.1zM1880.8 471.3l8.6 -13.9h-17.1zM1886.6 471.5l8.6 -13.9h-17.1zM1891 469.5l8.6 -13.9h-17.1zM1896.8 469.2l8.6 -13.9h-17.1zM1901.5 468.8l8.6 -13.9h-17.1zM1906.7 467.1l8.6 -13.9h-17.1zM1909.4 466l8.6 -13.9h-17.1zM1913.9 465.9l8.6 -13.9h-17.1zM1918.9 464.3l8.6 -13.9h-17.1zM1921.5 464.8l8.6 -13.9h-17.1zM1927.1 462.8l8.6 -13.9h-17.1zM1930.1 463.4l8.6 -13.9h-17.1zM1934.1 462.3l8.6 -13.9h-17.1zM1937.1 461l8.6 -13.9h-17.1zM1941.3 458.6l8.6 -13.9h-17.1zM1945.8 457.1l8.6 -13.9h-17.1zM1948.4 458.7l8.6 -13.9h-17.1zM1954 456.9l8.6 -13.9h-17.1zM1957.9 455.5l8.6 -13.9h-17.1zM1962.1 453.6l8.6 -13.9h-17.1z"/>
<g stroke="#000" stroke-width="6" stroke-linecap="round" fill="none">
<rect x="227.5" y="27.8" width="1964.2" height="1461.2" stroke-linejoin="round"/>
<line x1="473" y1="1489" x2="473" y2="1460"/>
<line x1="718.5" y1="1489" x2="718.5" y2="1460"/>
<line x1="964.1" y1="1489" x2="964.1" y2="1460"/>
<line x1="1209.6" y1="1489" x2="1209.6" y2="1460"/>
<line x1="1455.1" y1="1489" x2="1455.1" y2="1460"/>
<line x1="1700.6" y1="1489" x2="1700.6" y2="1460"/>
<line x1="1946.2" y1="1489" x2="1946.2" y2="1460"/>
<line x1="227.5" y1="1413.8" x2="256.5" y2="1413.8"/>
<line x1="227.5" y1="1259.8" x2="256.5" y2="1259.8"/>
<line x1="227.5" y1="1105.8" x2="256.5" y2="1105.8"/>
<line x1="227.5" y1="951.8" x2="256.5" y2="951.8"/>
<line x1="227.5" y1="797.8" x2="256.5" y2="797.8"/>
<line x1="227.5" y1="643.8" x2="256.5" y2="643.8"/>
<line x1="227.5" y1="489.8" x2="256.5" y2="489.8"/>
<line x1="227.5" y1="335.8" x2="256.5" y2="335.8"/>
<line x1="227.5" y1="181.8" x2="256.5" y2="181.8"/>
</g>
<text transform="translate(226.5 1569) scale(1.000 1.050)" font-size="62" text-anchor="middle">-11</text>
<text transform="translate(472 1569) scale(1.000 1.050)" font-size="62" text-anchor="middle">-10</text>
<text transform="translate(717.5 1569) scale(1.000 1.050)" font-size="62" text-anchor="middle">-9</text>
<text transform="translate(963.1 1569) scale(1.000 1.050)" font-size="62" text-anchor="middle">-8</text>
<text transform="translate(1208.6 1569) scale(1.000 1.050)" font-size="62" text-anchor="middle">-7</text>
<text transform="translate(1454.1 1569) scale(1.000 1.050)" font-size="62" text-anchor="middle">-6</text>
<text transform="translate(1699.6 1569) scale(1.000 1.050)" font-size="62" text-anchor="middle">-5</text>
<text transform="translate(1945.2 1569) scale(1.000 1.050)" font-size="62" text-anchor="middle">-4</text>
<text transform="translate(2190.7 1569) scale(1.000 1.050)" font-size="62" text-anchor="middle">-3</text>
<text transform="translate(195.5 1430.1) scale(1.000 1.050)" font-size="62" text-anchor="end">-0.4</text>
<text transform="translate(195.5 1276.1) scale(1.000 1.050)" font-size="62" text-anchor="end">-0.3</text>
<text transform="translate(195.5 1122.1) scale(1.000 1.050)" font-size="62" text-anchor="end">-0.2</text>
<text transform="translate(195.5 968.1) scale(1.000 1.050)" font-size="62" text-anchor="end">-0.1</text>
<text transform="translate(195.5 814.1) scale(1.000 1.050)" font-size="62" text-anchor="end">0.0</text>
<text transform="translate(195.5 660.1) scale(1.000 1.050)" font-size="62" text-anchor="end">0.1</text>
<text transform="translate(195.5 506.1) scale(1.000 1.050)" font-size="62" text-anchor="end">0.2</text>
<text transform="translate(195.5 352.1) scale(1.000 1.050)" font-size="62" text-anchor="end">0.3</text>
<text transform="translate(195.5 198.1) scale(1.000 1.050)" font-size="62" text-anchor="end">0.4</text>
<text transform="translate(195.5 44.1) scale(1.000 1.050)" font-size="62" text-anchor="end">0.5</text>
<text transform="translate(999.5 1656.5) scale(1.000 0.945)" font-size="76" text-anchor="start">log (<tspan font-style="italic">i</tspan>, A/cm<tspan font-size="44" dy="-38">2</tspan><tspan dy="38">)</tspan></text>
<text transform="translate(54 946.5) rotate(-90)" font-size="76" text-anchor="start"><tspan font-style="italic">E</tspan> (V/SCE)</text>
<line x1="474.5" y1="258.7" x2="618.5" y2="258.7" stroke="#000000" stroke-width="5.6" stroke-linecap="round"/>
<path fill="#000000" d="M540.8 253.7h10v10h-10z"/>
<text transform="translate(635 281.5) scale(1.000 1.020)" font-size="65.5" text-anchor="start">304 BM</text>
<line x1="474.5" y1="340" x2="618.5" y2="340" stroke="#ff0000" stroke-width="5.6" stroke-linecap="round"/>
<path fill="#ff0000" d="M540.3 340a5.5 5.5 0 1 0 11 0a5.5 5.5 0 1 0 -11 0z"/>
<text transform="translate(635 362.8) scale(1.000 1.020)" font-size="65.5" text-anchor="start">304 WZ</text>
<line x1="474.5" y1="421.5" x2="618.5" y2="421.5" stroke="#2035dc" stroke-width="5.6" stroke-linecap="round"/>
<path fill="#2035dc" d="M545.8 413.6l7.2 11.8h-14.5z"/>
<text transform="translate(635 444.3) scale(1.000 1.020)" font-size="65.5" text-anchor="start">304-Cu BM</text>
<line x1="474.5" y1="502.8" x2="618.5" y2="502.8" stroke="#ff8000" stroke-width="5.6" stroke-linecap="round"/>
<path fill="#ff8000" d="M545.8 510.7l7.2 -11.8h-14.5z"/>
<text transform="translate(635 525.6) scale(1.000 1.020)" font-size="65.5" text-anchor="start">304-Cu WZ</text>
</svg></body></html>
